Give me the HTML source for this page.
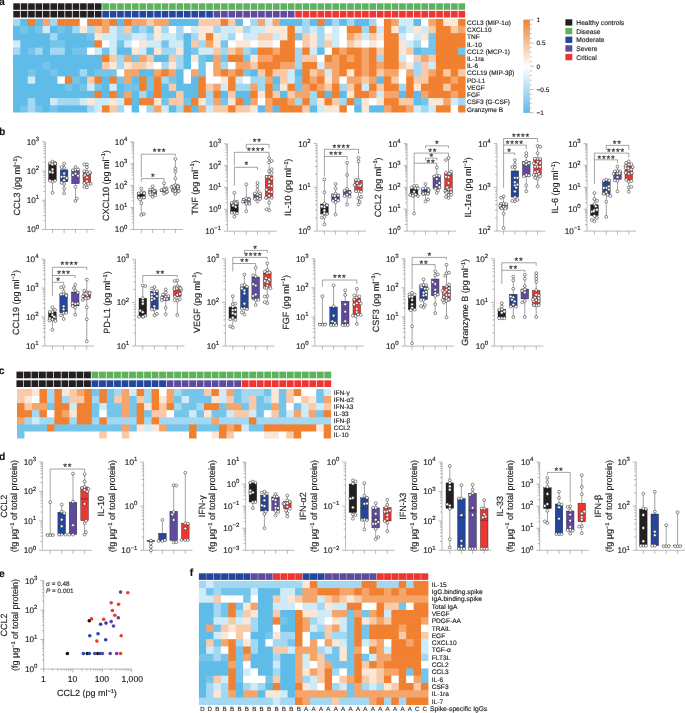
<!DOCTYPE html>
<html><head><meta charset="utf-8"><title>figure</title>
<style>html,body{margin:0;padding:0;background:#fff}svg{display:block;will-change:transform}text{font-family:"Liberation Sans", sans-serif;stroke:#231F20;stroke-width:.16px}</style>
</head><body>
<svg width="685" height="713" viewBox="0 0 685 713" shape-rendering="geometricPrecision" text-rendering="geometricPrecision">
<rect width="685" height="713" fill="#fff"/>
<rect x="13.3" y="3.3" width="6.62" height="6.5" fill="#231F20"/>
<rect x="20.72" y="3.3" width="6.62" height="6.5" fill="#231F20"/>
<rect x="28.14" y="3.3" width="6.62" height="6.5" fill="#231F20"/>
<rect x="35.56" y="3.3" width="6.62" height="6.5" fill="#231F20"/>
<rect x="42.98" y="3.3" width="6.62" height="6.5" fill="#231F20"/>
<rect x="50.4" y="3.3" width="6.62" height="6.5" fill="#231F20"/>
<rect x="57.82" y="3.3" width="6.62" height="6.5" fill="#231F20"/>
<rect x="65.24" y="3.3" width="6.62" height="6.5" fill="#231F20"/>
<rect x="72.66" y="3.3" width="6.62" height="6.5" fill="#231F20"/>
<rect x="80.08" y="3.3" width="6.62" height="6.5" fill="#231F20"/>
<rect x="87.5" y="3.3" width="6.62" height="6.5" fill="#231F20"/>
<rect x="94.92" y="3.3" width="6.62" height="6.5" fill="#231F20"/>
<rect x="102.34" y="3.3" width="6.62" height="6.5" fill="#5DB35C"/>
<rect x="109.76" y="3.3" width="6.62" height="6.5" fill="#5DB35C"/>
<rect x="117.18" y="3.3" width="6.62" height="6.5" fill="#5DB35C"/>
<rect x="124.6" y="3.3" width="6.62" height="6.5" fill="#5DB35C"/>
<rect x="132.02" y="3.3" width="6.62" height="6.5" fill="#5DB35C"/>
<rect x="139.44" y="3.3" width="6.62" height="6.5" fill="#5DB35C"/>
<rect x="146.86" y="3.3" width="6.62" height="6.5" fill="#5DB35C"/>
<rect x="154.28" y="3.3" width="6.62" height="6.5" fill="#5DB35C"/>
<rect x="161.7" y="3.3" width="6.62" height="6.5" fill="#5DB35C"/>
<rect x="169.12" y="3.3" width="6.62" height="6.5" fill="#5DB35C"/>
<rect x="176.54" y="3.3" width="6.62" height="6.5" fill="#5DB35C"/>
<rect x="183.96" y="3.3" width="6.62" height="6.5" fill="#5DB35C"/>
<rect x="191.38" y="3.3" width="6.62" height="6.5" fill="#5DB35C"/>
<rect x="198.8" y="3.3" width="6.62" height="6.5" fill="#5DB35C"/>
<rect x="206.22" y="3.3" width="6.62" height="6.5" fill="#5DB35C"/>
<rect x="213.64" y="3.3" width="6.62" height="6.5" fill="#5DB35C"/>
<rect x="221.06" y="3.3" width="6.62" height="6.5" fill="#5DB35C"/>
<rect x="228.48" y="3.3" width="6.62" height="6.5" fill="#5DB35C"/>
<rect x="235.9" y="3.3" width="6.62" height="6.5" fill="#5DB35C"/>
<rect x="243.32" y="3.3" width="6.62" height="6.5" fill="#5DB35C"/>
<rect x="250.74" y="3.3" width="6.62" height="6.5" fill="#5DB35C"/>
<rect x="258.16" y="3.3" width="6.62" height="6.5" fill="#5DB35C"/>
<rect x="265.58" y="3.3" width="6.62" height="6.5" fill="#5DB35C"/>
<rect x="273" y="3.3" width="6.62" height="6.5" fill="#5DB35C"/>
<rect x="280.42" y="3.3" width="6.62" height="6.5" fill="#5DB35C"/>
<rect x="287.84" y="3.3" width="6.62" height="6.5" fill="#5DB35C"/>
<rect x="295.26" y="3.3" width="6.62" height="6.5" fill="#5DB35C"/>
<rect x="302.68" y="3.3" width="6.62" height="6.5" fill="#5DB35C"/>
<rect x="310.1" y="3.3" width="6.62" height="6.5" fill="#5DB35C"/>
<rect x="317.52" y="3.3" width="6.62" height="6.5" fill="#5DB35C"/>
<rect x="324.94" y="3.3" width="6.62" height="6.5" fill="#5DB35C"/>
<rect x="332.36" y="3.3" width="6.62" height="6.5" fill="#5DB35C"/>
<rect x="339.78" y="3.3" width="6.62" height="6.5" fill="#5DB35C"/>
<rect x="347.2" y="3.3" width="6.62" height="6.5" fill="#5DB35C"/>
<rect x="354.62" y="3.3" width="6.62" height="6.5" fill="#5DB35C"/>
<rect x="362.04" y="3.3" width="6.62" height="6.5" fill="#5DB35C"/>
<rect x="369.46" y="3.3" width="6.62" height="6.5" fill="#5DB35C"/>
<rect x="376.88" y="3.3" width="6.62" height="6.5" fill="#5DB35C"/>
<rect x="384.3" y="3.3" width="6.62" height="6.5" fill="#5DB35C"/>
<rect x="391.72" y="3.3" width="6.62" height="6.5" fill="#5DB35C"/>
<rect x="399.14" y="3.3" width="6.62" height="6.5" fill="#5DB35C"/>
<rect x="406.56" y="3.3" width="6.62" height="6.5" fill="#5DB35C"/>
<rect x="413.98" y="3.3" width="6.62" height="6.5" fill="#5DB35C"/>
<rect x="421.4" y="3.3" width="6.62" height="6.5" fill="#5DB35C"/>
<rect x="428.82" y="3.3" width="6.62" height="6.5" fill="#5DB35C"/>
<rect x="436.24" y="3.3" width="6.62" height="6.5" fill="#5DB35C"/>
<rect x="443.66" y="3.3" width="6.62" height="6.5" fill="#5DB35C"/>
<rect x="451.08" y="3.3" width="6.62" height="6.5" fill="#5DB35C"/>
<rect x="458.5" y="3.3" width="6.62" height="6.5" fill="#5DB35C"/>
<rect x="13.3" y="10.9" width="6.62" height="6.6" fill="#231F20"/>
<rect x="20.72" y="10.9" width="6.62" height="6.6" fill="#231F20"/>
<rect x="28.14" y="10.9" width="6.62" height="6.6" fill="#231F20"/>
<rect x="35.56" y="10.9" width="6.62" height="6.6" fill="#231F20"/>
<rect x="42.98" y="10.9" width="6.62" height="6.6" fill="#231F20"/>
<rect x="50.4" y="10.9" width="6.62" height="6.6" fill="#231F20"/>
<rect x="57.82" y="10.9" width="6.62" height="6.6" fill="#231F20"/>
<rect x="65.24" y="10.9" width="6.62" height="6.6" fill="#231F20"/>
<rect x="72.66" y="10.9" width="6.62" height="6.6" fill="#231F20"/>
<rect x="80.08" y="10.9" width="6.62" height="6.6" fill="#231F20"/>
<rect x="87.5" y="10.9" width="6.62" height="6.6" fill="#231F20"/>
<rect x="94.92" y="10.9" width="6.62" height="6.6" fill="#231F20"/>
<rect x="102.34" y="10.9" width="6.62" height="6.6" fill="#24479D"/>
<rect x="109.76" y="10.9" width="6.62" height="6.6" fill="#24479D"/>
<rect x="117.18" y="10.9" width="6.62" height="6.6" fill="#24479D"/>
<rect x="124.6" y="10.9" width="6.62" height="6.6" fill="#24479D"/>
<rect x="132.02" y="10.9" width="6.62" height="6.6" fill="#24479D"/>
<rect x="139.44" y="10.9" width="6.62" height="6.6" fill="#24479D"/>
<rect x="146.86" y="10.9" width="6.62" height="6.6" fill="#24479D"/>
<rect x="154.28" y="10.9" width="6.62" height="6.6" fill="#24479D"/>
<rect x="161.7" y="10.9" width="6.62" height="6.6" fill="#24479D"/>
<rect x="169.12" y="10.9" width="6.62" height="6.6" fill="#24479D"/>
<rect x="176.54" y="10.9" width="6.62" height="6.6" fill="#24479D"/>
<rect x="183.96" y="10.9" width="6.62" height="6.6" fill="#24479D"/>
<rect x="191.38" y="10.9" width="6.62" height="6.6" fill="#24479D"/>
<rect x="198.8" y="10.9" width="6.62" height="6.6" fill="#24479D"/>
<rect x="206.22" y="10.9" width="6.62" height="6.6" fill="#24479D"/>
<rect x="213.64" y="10.9" width="6.62" height="6.6" fill="#5F4B9E"/>
<rect x="221.06" y="10.9" width="6.62" height="6.6" fill="#5F4B9E"/>
<rect x="228.48" y="10.9" width="6.62" height="6.6" fill="#5F4B9E"/>
<rect x="235.9" y="10.9" width="6.62" height="6.6" fill="#5F4B9E"/>
<rect x="243.32" y="10.9" width="6.62" height="6.6" fill="#5F4B9E"/>
<rect x="250.74" y="10.9" width="6.62" height="6.6" fill="#5F4B9E"/>
<rect x="258.16" y="10.9" width="6.62" height="6.6" fill="#5F4B9E"/>
<rect x="265.58" y="10.9" width="6.62" height="6.6" fill="#5F4B9E"/>
<rect x="273" y="10.9" width="6.62" height="6.6" fill="#5F4B9E"/>
<rect x="280.42" y="10.9" width="6.62" height="6.6" fill="#5F4B9E"/>
<rect x="287.84" y="10.9" width="6.62" height="6.6" fill="#5F4B9E"/>
<rect x="295.26" y="10.9" width="6.62" height="6.6" fill="#EE3530"/>
<rect x="302.68" y="10.9" width="6.62" height="6.6" fill="#EE3530"/>
<rect x="310.1" y="10.9" width="6.62" height="6.6" fill="#EE3530"/>
<rect x="317.52" y="10.9" width="6.62" height="6.6" fill="#EE3530"/>
<rect x="324.94" y="10.9" width="6.62" height="6.6" fill="#EE3530"/>
<rect x="332.36" y="10.9" width="6.62" height="6.6" fill="#EE3530"/>
<rect x="339.78" y="10.9" width="6.62" height="6.6" fill="#EE3530"/>
<rect x="347.2" y="10.9" width="6.62" height="6.6" fill="#EE3530"/>
<rect x="354.62" y="10.9" width="6.62" height="6.6" fill="#EE3530"/>
<rect x="362.04" y="10.9" width="6.62" height="6.6" fill="#EE3530"/>
<rect x="369.46" y="10.9" width="6.62" height="6.6" fill="#EE3530"/>
<rect x="376.88" y="10.9" width="6.62" height="6.6" fill="#EE3530"/>
<rect x="384.3" y="10.9" width="6.62" height="6.6" fill="#EE3530"/>
<rect x="391.72" y="10.9" width="6.62" height="6.6" fill="#EE3530"/>
<rect x="399.14" y="10.9" width="6.62" height="6.6" fill="#EE3530"/>
<rect x="406.56" y="10.9" width="6.62" height="6.6" fill="#EE3530"/>
<rect x="413.98" y="10.9" width="6.62" height="6.6" fill="#EE3530"/>
<rect x="421.4" y="10.9" width="6.62" height="6.6" fill="#EE3530"/>
<rect x="428.82" y="10.9" width="6.62" height="6.6" fill="#EE3530"/>
<rect x="436.24" y="10.9" width="6.62" height="6.6" fill="#EE3530"/>
<rect x="443.66" y="10.9" width="6.62" height="6.6" fill="#EE3530"/>
<rect x="451.08" y="10.9" width="6.62" height="6.6" fill="#EE3530"/>
<rect x="458.5" y="10.9" width="6.62" height="6.6" fill="#EE3530"/>
<clipPath id="hc1"><rect x="12.9" y="18.7" width="452.62" height="93.86"/></clipPath><g clip-path="url(#hc1)">
<rect x="12.9" y="18.7" width="8.02" height="7.82" fill="#a2d8f2"/>
<rect x="20.32" y="18.7" width="8.02" height="7.82" fill="#5fbbe8"/>
<rect x="27.74" y="18.7" width="8.02" height="7.82" fill="#f18130"/>
<rect x="35.16" y="18.7" width="8.02" height="7.82" fill="#5fbbe8"/>
<rect x="42.58" y="18.7" width="8.02" height="7.82" fill="#f5a46a"/>
<rect x="50" y="18.7" width="8.02" height="7.82" fill="#a2d8f2"/>
<rect x="57.42" y="18.7" width="22.86" height="7.82" fill="#f18130"/>
<rect x="79.68" y="18.7" width="8.02" height="7.82" fill="#ffffff"/>
<rect x="87.1" y="18.7" width="15.44" height="7.82" fill="#f18130"/>
<rect x="101.94" y="18.7" width="8.02" height="7.82" fill="#f5a46a"/>
<rect x="109.36" y="18.7" width="8.02" height="7.82" fill="#f18130"/>
<rect x="116.78" y="18.7" width="8.02" height="7.82" fill="#5fbbe8"/>
<rect x="124.2" y="18.7" width="8.02" height="7.82" fill="#f18130"/>
<rect x="131.62" y="18.7" width="15.44" height="7.82" fill="#f5a46a"/>
<rect x="146.46" y="18.7" width="8.02" height="7.82" fill="#f9caa8"/>
<rect x="153.88" y="18.7" width="15.44" height="7.82" fill="#f5a46a"/>
<rect x="168.72" y="18.7" width="30.28" height="7.82" fill="#5fbbe8"/>
<rect x="198.4" y="18.7" width="22.86" height="7.82" fill="#f9caa8"/>
<rect x="220.66" y="18.7" width="8.02" height="7.82" fill="#f18130"/>
<rect x="228.08" y="18.7" width="8.02" height="7.82" fill="#f9caa8"/>
<rect x="235.5" y="18.7" width="8.02" height="7.82" fill="#5fbbe8"/>
<rect x="242.92" y="18.7" width="8.02" height="7.82" fill="#ffffff"/>
<rect x="250.34" y="18.7" width="8.02" height="7.82" fill="#a2d8f2"/>
<rect x="257.76" y="18.7" width="8.02" height="7.82" fill="#f5a46a"/>
<rect x="265.18" y="18.7" width="8.02" height="7.82" fill="#cfebf8"/>
<rect x="272.6" y="18.7" width="8.02" height="7.82" fill="#f5a46a"/>
<rect x="280.02" y="18.7" width="22.86" height="7.82" fill="#5fbbe8"/>
<rect x="302.28" y="18.7" width="8.02" height="7.82" fill="#a2d8f2"/>
<rect x="309.7" y="18.7" width="8.02" height="7.82" fill="#5fbbe8"/>
<rect x="317.12" y="18.7" width="8.02" height="7.82" fill="#f18130"/>
<rect x="324.54" y="18.7" width="8.02" height="7.82" fill="#5fbbe8"/>
<rect x="331.96" y="18.7" width="8.02" height="7.82" fill="#a2d8f2"/>
<rect x="339.38" y="18.7" width="8.02" height="7.82" fill="#5fbbe8"/>
<rect x="346.8" y="18.7" width="8.02" height="7.82" fill="#a2d8f2"/>
<rect x="354.22" y="18.7" width="15.44" height="7.82" fill="#5fbbe8"/>
<rect x="369.06" y="18.7" width="8.02" height="7.82" fill="#a2d8f2"/>
<rect x="376.48" y="18.7" width="8.02" height="7.82" fill="#ffffff"/>
<rect x="383.9" y="18.7" width="8.02" height="7.82" fill="#f18130"/>
<rect x="391.32" y="18.7" width="8.02" height="7.82" fill="#f5a46a"/>
<rect x="398.74" y="18.7" width="15.44" height="7.82" fill="#cfebf8"/>
<rect x="413.58" y="18.7" width="8.02" height="7.82" fill="#5fbbe8"/>
<rect x="421" y="18.7" width="8.02" height="7.82" fill="#ffffff"/>
<rect x="428.42" y="18.7" width="8.02" height="7.82" fill="#f5a46a"/>
<rect x="435.84" y="18.7" width="8.02" height="7.82" fill="#f18130"/>
<rect x="443.26" y="18.7" width="15.44" height="7.82" fill="#fce6d6"/>
<rect x="458.1" y="18.7" width="8.02" height="7.82" fill="#f18130"/>
<rect x="12.9" y="25.92" width="8.02" height="7.82" fill="#5fbbe8"/>
<rect x="20.32" y="25.92" width="8.02" height="7.82" fill="#75c5eb"/>
<rect x="27.74" y="25.92" width="8.02" height="7.82" fill="#5fbbe8"/>
<rect x="35.16" y="25.92" width="8.02" height="7.82" fill="#75c5eb"/>
<rect x="42.58" y="25.92" width="8.02" height="7.82" fill="#cfebf8"/>
<rect x="50" y="25.92" width="8.02" height="7.82" fill="#5fbbe8"/>
<rect x="57.42" y="25.92" width="8.02" height="7.82" fill="#75c5eb"/>
<rect x="64.84" y="25.92" width="8.02" height="7.82" fill="#5fbbe8"/>
<rect x="72.26" y="25.92" width="8.02" height="7.82" fill="#a2d8f2"/>
<rect x="79.68" y="25.92" width="8.02" height="7.82" fill="#fce6d6"/>
<rect x="87.1" y="25.92" width="8.02" height="7.82" fill="#a2d8f2"/>
<rect x="94.52" y="25.92" width="8.02" height="7.82" fill="#f9caa8"/>
<rect x="101.94" y="25.92" width="8.02" height="7.82" fill="#f5a46a"/>
<rect x="109.36" y="25.92" width="8.02" height="7.82" fill="#cfebf8"/>
<rect x="116.78" y="25.92" width="8.02" height="7.82" fill="#a2d8f2"/>
<rect x="124.2" y="25.92" width="8.02" height="7.82" fill="#f9caa8"/>
<rect x="131.62" y="25.92" width="8.02" height="7.82" fill="#75c5eb"/>
<rect x="139.04" y="25.92" width="8.02" height="7.82" fill="#a2d8f2"/>
<rect x="146.46" y="25.92" width="8.02" height="7.82" fill="#75c5eb"/>
<rect x="153.88" y="25.92" width="8.02" height="7.82" fill="#fce6d6"/>
<rect x="161.3" y="25.92" width="8.02" height="7.82" fill="#a2d8f2"/>
<rect x="168.72" y="25.92" width="8.02" height="7.82" fill="#ffffff"/>
<rect x="176.14" y="25.92" width="8.02" height="7.82" fill="#a2d8f2"/>
<rect x="183.56" y="25.92" width="8.02" height="7.82" fill="#ffffff"/>
<rect x="190.98" y="25.92" width="8.02" height="7.82" fill="#cfebf8"/>
<rect x="198.4" y="25.92" width="15.44" height="7.82" fill="#fce6d6"/>
<rect x="213.24" y="25.92" width="8.02" height="7.82" fill="#a2d8f2"/>
<rect x="220.66" y="25.92" width="15.44" height="7.82" fill="#cfebf8"/>
<rect x="235.5" y="25.92" width="8.02" height="7.82" fill="#fce6d6"/>
<rect x="242.92" y="25.92" width="8.02" height="7.82" fill="#a2d8f2"/>
<rect x="250.34" y="25.92" width="15.44" height="7.82" fill="#cfebf8"/>
<rect x="265.18" y="25.92" width="22.86" height="7.82" fill="#fce6d6"/>
<rect x="287.44" y="25.92" width="8.02" height="7.82" fill="#f18130"/>
<rect x="294.86" y="25.92" width="8.02" height="7.82" fill="#cfebf8"/>
<rect x="302.28" y="25.92" width="8.02" height="7.82" fill="#a2d8f2"/>
<rect x="309.7" y="25.92" width="8.02" height="7.82" fill="#cfebf8"/>
<rect x="317.12" y="25.92" width="8.02" height="7.82" fill="#a2d8f2"/>
<rect x="324.54" y="25.92" width="8.02" height="7.82" fill="#ffffff"/>
<rect x="331.96" y="25.92" width="8.02" height="7.82" fill="#cfebf8"/>
<rect x="339.38" y="25.92" width="8.02" height="7.82" fill="#ffffff"/>
<rect x="346.8" y="25.92" width="15.44" height="7.82" fill="#f18130"/>
<rect x="361.64" y="25.92" width="8.02" height="7.82" fill="#a2d8f2"/>
<rect x="369.06" y="25.92" width="8.02" height="7.82" fill="#f18130"/>
<rect x="376.48" y="25.92" width="8.02" height="7.82" fill="#cfebf8"/>
<rect x="383.9" y="25.92" width="8.02" height="7.82" fill="#f18130"/>
<rect x="391.32" y="25.92" width="8.02" height="7.82" fill="#fce6d6"/>
<rect x="398.74" y="25.92" width="8.02" height="7.82" fill="#a2d8f2"/>
<rect x="406.16" y="25.92" width="8.02" height="7.82" fill="#cfebf8"/>
<rect x="413.58" y="25.92" width="8.02" height="7.82" fill="#fce6d6"/>
<rect x="421" y="25.92" width="8.02" height="7.82" fill="#cfebf8"/>
<rect x="428.42" y="25.92" width="8.02" height="7.82" fill="#f9caa8"/>
<rect x="435.84" y="25.92" width="15.44" height="7.82" fill="#f18130"/>
<rect x="450.68" y="25.92" width="8.02" height="7.82" fill="#f9caa8"/>
<rect x="458.1" y="25.92" width="8.02" height="7.82" fill="#f5a46a"/>
<rect x="12.9" y="33.14" width="37.7" height="7.82" fill="#5fbbe8"/>
<rect x="50" y="33.14" width="8.02" height="7.82" fill="#a2d8f2"/>
<rect x="57.42" y="33.14" width="30.28" height="7.82" fill="#5fbbe8"/>
<rect x="87.1" y="33.14" width="8.02" height="7.82" fill="#75c5eb"/>
<rect x="94.52" y="33.14" width="8.02" height="7.82" fill="#fce6d6"/>
<rect x="101.94" y="33.14" width="15.44" height="7.82" fill="#cfebf8"/>
<rect x="116.78" y="33.14" width="15.44" height="7.82" fill="#a2d8f2"/>
<rect x="131.62" y="33.14" width="15.44" height="7.82" fill="#cfebf8"/>
<rect x="146.46" y="33.14" width="8.02" height="7.82" fill="#a2d8f2"/>
<rect x="153.88" y="33.14" width="8.02" height="7.82" fill="#fce6d6"/>
<rect x="161.3" y="33.14" width="15.44" height="7.82" fill="#cfebf8"/>
<rect x="176.14" y="33.14" width="8.02" height="7.82" fill="#a2d8f2"/>
<rect x="183.56" y="33.14" width="8.02" height="7.82" fill="#5fbbe8"/>
<rect x="190.98" y="33.14" width="8.02" height="7.82" fill="#a2d8f2"/>
<rect x="198.4" y="33.14" width="8.02" height="7.82" fill="#fce6d6"/>
<rect x="205.82" y="33.14" width="8.02" height="7.82" fill="#f18130"/>
<rect x="213.24" y="33.14" width="8.02" height="7.82" fill="#fce6d6"/>
<rect x="220.66" y="33.14" width="8.02" height="7.82" fill="#cfebf8"/>
<rect x="228.08" y="33.14" width="8.02" height="7.82" fill="#a2d8f2"/>
<rect x="235.5" y="33.14" width="8.02" height="7.82" fill="#ffffff"/>
<rect x="242.92" y="33.14" width="15.44" height="7.82" fill="#cfebf8"/>
<rect x="257.76" y="33.14" width="15.44" height="7.82" fill="#f9caa8"/>
<rect x="272.6" y="33.14" width="8.02" height="7.82" fill="#cfebf8"/>
<rect x="280.02" y="33.14" width="8.02" height="7.82" fill="#fce6d6"/>
<rect x="287.44" y="33.14" width="8.02" height="7.82" fill="#f18130"/>
<rect x="294.86" y="33.14" width="8.02" height="7.82" fill="#75c5eb"/>
<rect x="302.28" y="33.14" width="8.02" height="7.82" fill="#f9caa8"/>
<rect x="309.7" y="33.14" width="8.02" height="7.82" fill="#fce6d6"/>
<rect x="317.12" y="33.14" width="8.02" height="7.82" fill="#a2d8f2"/>
<rect x="324.54" y="33.14" width="8.02" height="7.82" fill="#fce6d6"/>
<rect x="331.96" y="33.14" width="8.02" height="7.82" fill="#cfebf8"/>
<rect x="339.38" y="33.14" width="8.02" height="7.82" fill="#ffffff"/>
<rect x="346.8" y="33.14" width="8.02" height="7.82" fill="#f5a46a"/>
<rect x="354.22" y="33.14" width="8.02" height="7.82" fill="#f9caa8"/>
<rect x="361.64" y="33.14" width="8.02" height="7.82" fill="#cfebf8"/>
<rect x="369.06" y="33.14" width="8.02" height="7.82" fill="#f9caa8"/>
<rect x="376.48" y="33.14" width="8.02" height="7.82" fill="#fce6d6"/>
<rect x="383.9" y="33.14" width="15.44" height="7.82" fill="#f18130"/>
<rect x="398.74" y="33.14" width="8.02" height="7.82" fill="#cfebf8"/>
<rect x="406.16" y="33.14" width="8.02" height="7.82" fill="#ffffff"/>
<rect x="413.58" y="33.14" width="8.02" height="7.82" fill="#cfebf8"/>
<rect x="421" y="33.14" width="8.02" height="7.82" fill="#fce6d6"/>
<rect x="428.42" y="33.14" width="8.02" height="7.82" fill="#75c5eb"/>
<rect x="435.84" y="33.14" width="30.28" height="7.82" fill="#f18130"/>
<rect x="12.9" y="40.36" width="8.02" height="7.82" fill="#cfebf8"/>
<rect x="20.32" y="40.36" width="30.28" height="7.82" fill="#5fbbe8"/>
<rect x="50" y="40.36" width="15.44" height="7.82" fill="#75c5eb"/>
<rect x="64.84" y="40.36" width="30.28" height="7.82" fill="#5fbbe8"/>
<rect x="94.52" y="40.36" width="8.02" height="7.82" fill="#f18130"/>
<rect x="101.94" y="40.36" width="8.02" height="7.82" fill="#ffffff"/>
<rect x="109.36" y="40.36" width="8.02" height="7.82" fill="#cfebf8"/>
<rect x="116.78" y="40.36" width="8.02" height="7.82" fill="#75c5eb"/>
<rect x="124.2" y="40.36" width="8.02" height="7.82" fill="#cfebf8"/>
<rect x="131.62" y="40.36" width="8.02" height="7.82" fill="#ffffff"/>
<rect x="139.04" y="40.36" width="8.02" height="7.82" fill="#fce6d6"/>
<rect x="146.46" y="40.36" width="15.44" height="7.82" fill="#cfebf8"/>
<rect x="161.3" y="40.36" width="8.02" height="7.82" fill="#75c5eb"/>
<rect x="168.72" y="40.36" width="15.44" height="7.82" fill="#cfebf8"/>
<rect x="183.56" y="40.36" width="8.02" height="7.82" fill="#5fbbe8"/>
<rect x="190.98" y="40.36" width="8.02" height="7.82" fill="#f9caa8"/>
<rect x="198.4" y="40.36" width="8.02" height="7.82" fill="#a2d8f2"/>
<rect x="205.82" y="40.36" width="8.02" height="7.82" fill="#f5a46a"/>
<rect x="213.24" y="40.36" width="8.02" height="7.82" fill="#fce6d6"/>
<rect x="220.66" y="40.36" width="8.02" height="7.82" fill="#75c5eb"/>
<rect x="228.08" y="40.36" width="8.02" height="7.82" fill="#ffffff"/>
<rect x="235.5" y="40.36" width="15.44" height="7.82" fill="#fce6d6"/>
<rect x="250.34" y="40.36" width="8.02" height="7.82" fill="#ffffff"/>
<rect x="257.76" y="40.36" width="15.44" height="7.82" fill="#fce6d6"/>
<rect x="272.6" y="40.36" width="8.02" height="7.82" fill="#ffffff"/>
<rect x="280.02" y="40.36" width="15.44" height="7.82" fill="#f18130"/>
<rect x="294.86" y="40.36" width="8.02" height="7.82" fill="#ffffff"/>
<rect x="302.28" y="40.36" width="8.02" height="7.82" fill="#f9caa8"/>
<rect x="309.7" y="40.36" width="8.02" height="7.82" fill="#fce6d6"/>
<rect x="317.12" y="40.36" width="8.02" height="7.82" fill="#a2d8f2"/>
<rect x="324.54" y="40.36" width="8.02" height="7.82" fill="#f9caa8"/>
<rect x="331.96" y="40.36" width="8.02" height="7.82" fill="#cfebf8"/>
<rect x="339.38" y="40.36" width="8.02" height="7.82" fill="#ffffff"/>
<rect x="346.8" y="40.36" width="8.02" height="7.82" fill="#f9caa8"/>
<rect x="354.22" y="40.36" width="8.02" height="7.82" fill="#fce6d6"/>
<rect x="361.64" y="40.36" width="8.02" height="7.82" fill="#ffffff"/>
<rect x="369.06" y="40.36" width="8.02" height="7.82" fill="#fce6d6"/>
<rect x="376.48" y="40.36" width="8.02" height="7.82" fill="#ffffff"/>
<rect x="383.9" y="40.36" width="15.44" height="7.82" fill="#f18130"/>
<rect x="398.74" y="40.36" width="8.02" height="7.82" fill="#fce6d6"/>
<rect x="406.16" y="40.36" width="8.02" height="7.82" fill="#cfebf8"/>
<rect x="413.58" y="40.36" width="8.02" height="7.82" fill="#a2d8f2"/>
<rect x="421" y="40.36" width="8.02" height="7.82" fill="#ffffff"/>
<rect x="428.42" y="40.36" width="8.02" height="7.82" fill="#75c5eb"/>
<rect x="435.84" y="40.36" width="30.28" height="7.82" fill="#f18130"/>
<rect x="12.9" y="47.58" width="8.02" height="7.82" fill="#a2d8f2"/>
<rect x="20.32" y="47.58" width="8.02" height="7.82" fill="#5fbbe8"/>
<rect x="27.74" y="47.58" width="8.02" height="7.82" fill="#75c5eb"/>
<rect x="35.16" y="47.58" width="8.02" height="7.82" fill="#a2d8f2"/>
<rect x="42.58" y="47.58" width="8.02" height="7.82" fill="#5fbbe8"/>
<rect x="50" y="47.58" width="15.44" height="7.82" fill="#a2d8f2"/>
<rect x="64.84" y="47.58" width="8.02" height="7.82" fill="#5fbbe8"/>
<rect x="72.26" y="47.58" width="15.44" height="7.82" fill="#75c5eb"/>
<rect x="87.1" y="47.58" width="8.02" height="7.82" fill="#ffffff"/>
<rect x="94.52" y="47.58" width="8.02" height="7.82" fill="#cfebf8"/>
<rect x="101.94" y="47.58" width="8.02" height="7.82" fill="#75c5eb"/>
<rect x="109.36" y="47.58" width="8.02" height="7.82" fill="#cfebf8"/>
<rect x="116.78" y="47.58" width="15.44" height="7.82" fill="#5fbbe8"/>
<rect x="131.62" y="47.58" width="8.02" height="7.82" fill="#fce6d6"/>
<rect x="139.04" y="47.58" width="8.02" height="7.82" fill="#cfebf8"/>
<rect x="146.46" y="47.58" width="8.02" height="7.82" fill="#5fbbe8"/>
<rect x="153.88" y="47.58" width="8.02" height="7.82" fill="#fce6d6"/>
<rect x="161.3" y="47.58" width="15.44" height="7.82" fill="#a2d8f2"/>
<rect x="176.14" y="47.58" width="8.02" height="7.82" fill="#fce6d6"/>
<rect x="183.56" y="47.58" width="8.02" height="7.82" fill="#5fbbe8"/>
<rect x="190.98" y="47.58" width="8.02" height="7.82" fill="#75c5eb"/>
<rect x="198.4" y="47.58" width="15.44" height="7.82" fill="#cfebf8"/>
<rect x="213.24" y="47.58" width="8.02" height="7.82" fill="#f9caa8"/>
<rect x="220.66" y="47.58" width="8.02" height="7.82" fill="#a2d8f2"/>
<rect x="228.08" y="47.58" width="8.02" height="7.82" fill="#f9caa8"/>
<rect x="235.5" y="47.58" width="8.02" height="7.82" fill="#f5a46a"/>
<rect x="242.92" y="47.58" width="8.02" height="7.82" fill="#a2d8f2"/>
<rect x="250.34" y="47.58" width="8.02" height="7.82" fill="#75c5eb"/>
<rect x="257.76" y="47.58" width="15.44" height="7.82" fill="#f18130"/>
<rect x="272.6" y="47.58" width="8.02" height="7.82" fill="#f5a46a"/>
<rect x="280.02" y="47.58" width="15.44" height="7.82" fill="#f18130"/>
<rect x="294.86" y="47.58" width="8.02" height="7.82" fill="#a2d8f2"/>
<rect x="302.28" y="47.58" width="8.02" height="7.82" fill="#f18130"/>
<rect x="309.7" y="47.58" width="8.02" height="7.82" fill="#cfebf8"/>
<rect x="317.12" y="47.58" width="8.02" height="7.82" fill="#5fbbe8"/>
<rect x="324.54" y="47.58" width="8.02" height="7.82" fill="#ffffff"/>
<rect x="331.96" y="47.58" width="8.02" height="7.82" fill="#f18130"/>
<rect x="339.38" y="47.58" width="8.02" height="7.82" fill="#f5a46a"/>
<rect x="346.8" y="47.58" width="15.44" height="7.82" fill="#f18130"/>
<rect x="361.64" y="47.58" width="8.02" height="7.82" fill="#f5a46a"/>
<rect x="369.06" y="47.58" width="8.02" height="7.82" fill="#f18130"/>
<rect x="376.48" y="47.58" width="8.02" height="7.82" fill="#f9caa8"/>
<rect x="383.9" y="47.58" width="15.44" height="7.82" fill="#f18130"/>
<rect x="398.74" y="47.58" width="8.02" height="7.82" fill="#fce6d6"/>
<rect x="406.16" y="47.58" width="8.02" height="7.82" fill="#f9caa8"/>
<rect x="413.58" y="47.58" width="8.02" height="7.82" fill="#5fbbe8"/>
<rect x="421" y="47.58" width="15.44" height="7.82" fill="#75c5eb"/>
<rect x="435.84" y="47.58" width="22.86" height="7.82" fill="#f18130"/>
<rect x="458.1" y="47.58" width="8.02" height="7.82" fill="#75c5eb"/>
<rect x="12.9" y="54.8" width="89.64" height="7.82" fill="#5fbbe8"/>
<rect x="101.94" y="54.8" width="8.02" height="7.82" fill="#f18130"/>
<rect x="109.36" y="54.8" width="8.02" height="7.82" fill="#f9caa8"/>
<rect x="116.78" y="54.8" width="8.02" height="7.82" fill="#a2d8f2"/>
<rect x="124.2" y="54.8" width="8.02" height="7.82" fill="#f5a46a"/>
<rect x="131.62" y="54.8" width="8.02" height="7.82" fill="#75c5eb"/>
<rect x="139.04" y="54.8" width="8.02" height="7.82" fill="#f5a46a"/>
<rect x="146.46" y="54.8" width="8.02" height="7.82" fill="#f9caa8"/>
<rect x="153.88" y="54.8" width="15.44" height="7.82" fill="#5fbbe8"/>
<rect x="168.72" y="54.8" width="8.02" height="7.82" fill="#f9caa8"/>
<rect x="176.14" y="54.8" width="8.02" height="7.82" fill="#a2d8f2"/>
<rect x="183.56" y="54.8" width="8.02" height="7.82" fill="#5fbbe8"/>
<rect x="190.98" y="54.8" width="8.02" height="7.82" fill="#fce6d6"/>
<rect x="198.4" y="54.8" width="8.02" height="7.82" fill="#75c5eb"/>
<rect x="205.82" y="54.8" width="8.02" height="7.82" fill="#5fbbe8"/>
<rect x="213.24" y="54.8" width="8.02" height="7.82" fill="#f5a46a"/>
<rect x="220.66" y="54.8" width="8.02" height="7.82" fill="#75c5eb"/>
<rect x="228.08" y="54.8" width="15.44" height="7.82" fill="#f18130"/>
<rect x="242.92" y="54.8" width="8.02" height="7.82" fill="#75c5eb"/>
<rect x="250.34" y="54.8" width="8.02" height="7.82" fill="#fce6d6"/>
<rect x="257.76" y="54.8" width="15.44" height="7.82" fill="#f5a46a"/>
<rect x="272.6" y="54.8" width="22.86" height="7.82" fill="#f18130"/>
<rect x="294.86" y="54.8" width="8.02" height="7.82" fill="#a2d8f2"/>
<rect x="302.28" y="54.8" width="15.44" height="7.82" fill="#f9caa8"/>
<rect x="317.12" y="54.8" width="8.02" height="7.82" fill="#ffffff"/>
<rect x="324.54" y="54.8" width="8.02" height="7.82" fill="#f18130"/>
<rect x="331.96" y="54.8" width="8.02" height="7.82" fill="#f5a46a"/>
<rect x="339.38" y="54.8" width="8.02" height="7.82" fill="#f18130"/>
<rect x="346.8" y="54.8" width="8.02" height="7.82" fill="#f5a46a"/>
<rect x="354.22" y="54.8" width="8.02" height="7.82" fill="#f18130"/>
<rect x="361.64" y="54.8" width="8.02" height="7.82" fill="#f5a46a"/>
<rect x="369.06" y="54.8" width="8.02" height="7.82" fill="#f18130"/>
<rect x="376.48" y="54.8" width="8.02" height="7.82" fill="#a2d8f2"/>
<rect x="383.9" y="54.8" width="15.44" height="7.82" fill="#f18130"/>
<rect x="398.74" y="54.8" width="8.02" height="7.82" fill="#cfebf8"/>
<rect x="406.16" y="54.8" width="8.02" height="7.82" fill="#ffffff"/>
<rect x="413.58" y="54.8" width="8.02" height="7.82" fill="#f9caa8"/>
<rect x="421" y="54.8" width="8.02" height="7.82" fill="#f5a46a"/>
<rect x="428.42" y="54.8" width="8.02" height="7.82" fill="#f9caa8"/>
<rect x="435.84" y="54.8" width="30.28" height="7.82" fill="#f18130"/>
<rect x="12.9" y="62.02" width="30.28" height="7.82" fill="#5fbbe8"/>
<rect x="42.58" y="62.02" width="8.02" height="7.82" fill="#75c5eb"/>
<rect x="50" y="62.02" width="52.54" height="7.82" fill="#5fbbe8"/>
<rect x="101.94" y="62.02" width="8.02" height="7.82" fill="#f9caa8"/>
<rect x="109.36" y="62.02" width="8.02" height="7.82" fill="#fce6d6"/>
<rect x="116.78" y="62.02" width="8.02" height="7.82" fill="#a2d8f2"/>
<rect x="124.2" y="62.02" width="8.02" height="7.82" fill="#fce6d6"/>
<rect x="131.62" y="62.02" width="15.44" height="7.82" fill="#f9caa8"/>
<rect x="146.46" y="62.02" width="8.02" height="7.82" fill="#fce6d6"/>
<rect x="153.88" y="62.02" width="8.02" height="7.82" fill="#ffffff"/>
<rect x="161.3" y="62.02" width="8.02" height="7.82" fill="#a2d8f2"/>
<rect x="168.72" y="62.02" width="8.02" height="7.82" fill="#fce6d6"/>
<rect x="176.14" y="62.02" width="8.02" height="7.82" fill="#a2d8f2"/>
<rect x="183.56" y="62.02" width="8.02" height="7.82" fill="#5fbbe8"/>
<rect x="190.98" y="62.02" width="8.02" height="7.82" fill="#ffffff"/>
<rect x="198.4" y="62.02" width="8.02" height="7.82" fill="#75c5eb"/>
<rect x="205.82" y="62.02" width="8.02" height="7.82" fill="#ffffff"/>
<rect x="213.24" y="62.02" width="8.02" height="7.82" fill="#f5a46a"/>
<rect x="220.66" y="62.02" width="8.02" height="7.82" fill="#a2d8f2"/>
<rect x="228.08" y="62.02" width="8.02" height="7.82" fill="#ffffff"/>
<rect x="235.5" y="62.02" width="15.44" height="7.82" fill="#f5a46a"/>
<rect x="250.34" y="62.02" width="8.02" height="7.82" fill="#f9caa8"/>
<rect x="257.76" y="62.02" width="22.86" height="7.82" fill="#f18130"/>
<rect x="280.02" y="62.02" width="15.44" height="7.82" fill="#f5a46a"/>
<rect x="294.86" y="62.02" width="8.02" height="7.82" fill="#a2d8f2"/>
<rect x="302.28" y="62.02" width="15.44" height="7.82" fill="#f18130"/>
<rect x="317.12" y="62.02" width="8.02" height="7.82" fill="#cfebf8"/>
<rect x="324.54" y="62.02" width="15.44" height="7.82" fill="#f5a46a"/>
<rect x="339.38" y="62.02" width="22.86" height="7.82" fill="#f18130"/>
<rect x="361.64" y="62.02" width="8.02" height="7.82" fill="#f5a46a"/>
<rect x="369.06" y="62.02" width="8.02" height="7.82" fill="#f18130"/>
<rect x="376.48" y="62.02" width="8.02" height="7.82" fill="#f5a46a"/>
<rect x="383.9" y="62.02" width="15.44" height="7.82" fill="#f18130"/>
<rect x="398.74" y="62.02" width="8.02" height="7.82" fill="#f9caa8"/>
<rect x="406.16" y="62.02" width="8.02" height="7.82" fill="#fce6d6"/>
<rect x="413.58" y="62.02" width="8.02" height="7.82" fill="#a2d8f2"/>
<rect x="421" y="62.02" width="8.02" height="7.82" fill="#f9caa8"/>
<rect x="428.42" y="62.02" width="8.02" height="7.82" fill="#cfebf8"/>
<rect x="435.84" y="62.02" width="30.28" height="7.82" fill="#f18130"/>
<rect x="12.9" y="69.24" width="15.44" height="7.82" fill="#5fbbe8"/>
<rect x="27.74" y="69.24" width="8.02" height="7.82" fill="#75c5eb"/>
<rect x="35.16" y="69.24" width="15.44" height="7.82" fill="#5fbbe8"/>
<rect x="50" y="69.24" width="8.02" height="7.82" fill="#75c5eb"/>
<rect x="57.42" y="69.24" width="22.86" height="7.82" fill="#5fbbe8"/>
<rect x="79.68" y="69.24" width="8.02" height="7.82" fill="#a2d8f2"/>
<rect x="87.1" y="69.24" width="8.02" height="7.82" fill="#5fbbe8"/>
<rect x="94.52" y="69.24" width="22.86" height="7.82" fill="#75c5eb"/>
<rect x="116.78" y="69.24" width="8.02" height="7.82" fill="#ffffff"/>
<rect x="124.2" y="69.24" width="15.44" height="7.82" fill="#f5a46a"/>
<rect x="139.04" y="69.24" width="15.44" height="7.82" fill="#5fbbe8"/>
<rect x="153.88" y="69.24" width="8.02" height="7.82" fill="#f5a46a"/>
<rect x="161.3" y="69.24" width="8.02" height="7.82" fill="#f18130"/>
<rect x="168.72" y="69.24" width="8.02" height="7.82" fill="#f5a46a"/>
<rect x="176.14" y="69.24" width="8.02" height="7.82" fill="#5fbbe8"/>
<rect x="183.56" y="69.24" width="8.02" height="7.82" fill="#ffffff"/>
<rect x="190.98" y="69.24" width="8.02" height="7.82" fill="#f5a46a"/>
<rect x="198.4" y="69.24" width="8.02" height="7.82" fill="#75c5eb"/>
<rect x="205.82" y="69.24" width="8.02" height="7.82" fill="#ffffff"/>
<rect x="213.24" y="69.24" width="8.02" height="7.82" fill="#f5a46a"/>
<rect x="220.66" y="69.24" width="8.02" height="7.82" fill="#f18130"/>
<rect x="228.08" y="69.24" width="8.02" height="7.82" fill="#f5a46a"/>
<rect x="235.5" y="69.24" width="8.02" height="7.82" fill="#f18130"/>
<rect x="242.92" y="69.24" width="8.02" height="7.82" fill="#75c5eb"/>
<rect x="250.34" y="69.24" width="8.02" height="7.82" fill="#5fbbe8"/>
<rect x="257.76" y="69.24" width="8.02" height="7.82" fill="#f9caa8"/>
<rect x="265.18" y="69.24" width="8.02" height="7.82" fill="#f18130"/>
<rect x="272.6" y="69.24" width="15.44" height="7.82" fill="#f9caa8"/>
<rect x="287.44" y="69.24" width="8.02" height="7.82" fill="#cfebf8"/>
<rect x="294.86" y="69.24" width="8.02" height="7.82" fill="#5fbbe8"/>
<rect x="302.28" y="69.24" width="8.02" height="7.82" fill="#f18130"/>
<rect x="309.7" y="69.24" width="8.02" height="7.82" fill="#f9caa8"/>
<rect x="317.12" y="69.24" width="8.02" height="7.82" fill="#f5a46a"/>
<rect x="324.54" y="69.24" width="8.02" height="7.82" fill="#cfebf8"/>
<rect x="331.96" y="69.24" width="8.02" height="7.82" fill="#f5a46a"/>
<rect x="339.38" y="69.24" width="8.02" height="7.82" fill="#f18130"/>
<rect x="346.8" y="69.24" width="8.02" height="7.82" fill="#fce6d6"/>
<rect x="354.22" y="69.24" width="8.02" height="7.82" fill="#f18130"/>
<rect x="361.64" y="69.24" width="8.02" height="7.82" fill="#f5a46a"/>
<rect x="369.06" y="69.24" width="8.02" height="7.82" fill="#f18130"/>
<rect x="376.48" y="69.24" width="8.02" height="7.82" fill="#f9caa8"/>
<rect x="383.9" y="69.24" width="15.44" height="7.82" fill="#f5a46a"/>
<rect x="398.74" y="69.24" width="8.02" height="7.82" fill="#ffffff"/>
<rect x="406.16" y="69.24" width="8.02" height="7.82" fill="#f5a46a"/>
<rect x="413.58" y="69.24" width="8.02" height="7.82" fill="#a2d8f2"/>
<rect x="421" y="69.24" width="8.02" height="7.82" fill="#f9caa8"/>
<rect x="428.42" y="69.24" width="8.02" height="7.82" fill="#f5a46a"/>
<rect x="435.84" y="69.24" width="8.02" height="7.82" fill="#f18130"/>
<rect x="443.26" y="69.24" width="8.02" height="7.82" fill="#f9caa8"/>
<rect x="450.68" y="69.24" width="8.02" height="7.82" fill="#f18130"/>
<rect x="458.1" y="69.24" width="8.02" height="7.82" fill="#f9caa8"/>
<rect x="12.9" y="76.46" width="15.44" height="7.82" fill="#5fbbe8"/>
<rect x="27.74" y="76.46" width="8.02" height="7.82" fill="#cfebf8"/>
<rect x="35.16" y="76.46" width="22.86" height="7.82" fill="#5fbbe8"/>
<rect x="57.42" y="76.46" width="8.02" height="7.82" fill="#ffffff"/>
<rect x="64.84" y="76.46" width="8.02" height="7.82" fill="#f18130"/>
<rect x="72.26" y="76.46" width="8.02" height="7.82" fill="#75c5eb"/>
<rect x="79.68" y="76.46" width="8.02" height="7.82" fill="#5fbbe8"/>
<rect x="87.1" y="76.46" width="8.02" height="7.82" fill="#f9caa8"/>
<rect x="94.52" y="76.46" width="8.02" height="7.82" fill="#f18130"/>
<rect x="101.94" y="76.46" width="8.02" height="7.82" fill="#5fbbe8"/>
<rect x="109.36" y="76.46" width="8.02" height="7.82" fill="#f18130"/>
<rect x="116.78" y="76.46" width="8.02" height="7.82" fill="#75c5eb"/>
<rect x="124.2" y="76.46" width="8.02" height="7.82" fill="#f5a46a"/>
<rect x="131.62" y="76.46" width="8.02" height="7.82" fill="#5fbbe8"/>
<rect x="139.04" y="76.46" width="8.02" height="7.82" fill="#f18130"/>
<rect x="146.46" y="76.46" width="8.02" height="7.82" fill="#75c5eb"/>
<rect x="153.88" y="76.46" width="8.02" height="7.82" fill="#f18130"/>
<rect x="161.3" y="76.46" width="8.02" height="7.82" fill="#a2d8f2"/>
<rect x="168.72" y="76.46" width="8.02" height="7.82" fill="#75c5eb"/>
<rect x="176.14" y="76.46" width="8.02" height="7.82" fill="#5fbbe8"/>
<rect x="183.56" y="76.46" width="8.02" height="7.82" fill="#ffffff"/>
<rect x="190.98" y="76.46" width="8.02" height="7.82" fill="#5fbbe8"/>
<rect x="198.4" y="76.46" width="8.02" height="7.82" fill="#f18130"/>
<rect x="205.82" y="76.46" width="15.44" height="7.82" fill="#ffffff"/>
<rect x="220.66" y="76.46" width="8.02" height="7.82" fill="#fce6d6"/>
<rect x="228.08" y="76.46" width="8.02" height="7.82" fill="#f18130"/>
<rect x="235.5" y="76.46" width="8.02" height="7.82" fill="#cfebf8"/>
<rect x="242.92" y="76.46" width="8.02" height="7.82" fill="#ffffff"/>
<rect x="250.34" y="76.46" width="15.44" height="7.82" fill="#a2d8f2"/>
<rect x="265.18" y="76.46" width="8.02" height="7.82" fill="#f5a46a"/>
<rect x="272.6" y="76.46" width="8.02" height="7.82" fill="#5fbbe8"/>
<rect x="280.02" y="76.46" width="8.02" height="7.82" fill="#f9caa8"/>
<rect x="287.44" y="76.46" width="8.02" height="7.82" fill="#cfebf8"/>
<rect x="294.86" y="76.46" width="8.02" height="7.82" fill="#75c5eb"/>
<rect x="302.28" y="76.46" width="8.02" height="7.82" fill="#f18130"/>
<rect x="309.7" y="76.46" width="8.02" height="7.82" fill="#f5a46a"/>
<rect x="317.12" y="76.46" width="8.02" height="7.82" fill="#f18130"/>
<rect x="324.54" y="76.46" width="8.02" height="7.82" fill="#fce6d6"/>
<rect x="331.96" y="76.46" width="8.02" height="7.82" fill="#f5a46a"/>
<rect x="339.38" y="76.46" width="8.02" height="7.82" fill="#ffffff"/>
<rect x="346.8" y="76.46" width="15.44" height="7.82" fill="#f5a46a"/>
<rect x="361.64" y="76.46" width="8.02" height="7.82" fill="#f9caa8"/>
<rect x="369.06" y="76.46" width="8.02" height="7.82" fill="#f5a46a"/>
<rect x="376.48" y="76.46" width="8.02" height="7.82" fill="#5fbbe8"/>
<rect x="383.9" y="76.46" width="8.02" height="7.82" fill="#f18130"/>
<rect x="391.32" y="76.46" width="8.02" height="7.82" fill="#f9caa8"/>
<rect x="398.74" y="76.46" width="8.02" height="7.82" fill="#ffffff"/>
<rect x="406.16" y="76.46" width="8.02" height="7.82" fill="#f18130"/>
<rect x="413.58" y="76.46" width="15.44" height="7.82" fill="#f9caa8"/>
<rect x="428.42" y="76.46" width="22.86" height="7.82" fill="#f18130"/>
<rect x="450.68" y="76.46" width="8.02" height="7.82" fill="#f5a46a"/>
<rect x="458.1" y="76.46" width="8.02" height="7.82" fill="#f18130"/>
<rect x="12.9" y="83.68" width="52.54" height="7.82" fill="#5fbbe8"/>
<rect x="64.84" y="83.68" width="8.02" height="7.82" fill="#75c5eb"/>
<rect x="72.26" y="83.68" width="8.02" height="7.82" fill="#5fbbe8"/>
<rect x="79.68" y="83.68" width="8.02" height="7.82" fill="#75c5eb"/>
<rect x="87.1" y="83.68" width="8.02" height="7.82" fill="#cfebf8"/>
<rect x="94.52" y="83.68" width="8.02" height="7.82" fill="#75c5eb"/>
<rect x="101.94" y="83.68" width="8.02" height="7.82" fill="#5fbbe8"/>
<rect x="109.36" y="83.68" width="8.02" height="7.82" fill="#cfebf8"/>
<rect x="116.78" y="83.68" width="8.02" height="7.82" fill="#5fbbe8"/>
<rect x="124.2" y="83.68" width="15.44" height="7.82" fill="#75c5eb"/>
<rect x="139.04" y="83.68" width="8.02" height="7.82" fill="#f18130"/>
<rect x="146.46" y="83.68" width="8.02" height="7.82" fill="#75c5eb"/>
<rect x="153.88" y="83.68" width="8.02" height="7.82" fill="#f18130"/>
<rect x="161.3" y="83.68" width="8.02" height="7.82" fill="#5fbbe8"/>
<rect x="168.72" y="83.68" width="8.02" height="7.82" fill="#f9caa8"/>
<rect x="176.14" y="83.68" width="22.86" height="7.82" fill="#5fbbe8"/>
<rect x="198.4" y="83.68" width="8.02" height="7.82" fill="#f18130"/>
<rect x="205.82" y="83.68" width="8.02" height="7.82" fill="#f9caa8"/>
<rect x="213.24" y="83.68" width="8.02" height="7.82" fill="#f5a46a"/>
<rect x="220.66" y="83.68" width="8.02" height="7.82" fill="#cfebf8"/>
<rect x="228.08" y="83.68" width="8.02" height="7.82" fill="#f18130"/>
<rect x="235.5" y="83.68" width="15.44" height="7.82" fill="#a2d8f2"/>
<rect x="250.34" y="83.68" width="8.02" height="7.82" fill="#f5a46a"/>
<rect x="257.76" y="83.68" width="8.02" height="7.82" fill="#a2d8f2"/>
<rect x="265.18" y="83.68" width="8.02" height="7.82" fill="#f18130"/>
<rect x="272.6" y="83.68" width="8.02" height="7.82" fill="#75c5eb"/>
<rect x="280.02" y="83.68" width="8.02" height="7.82" fill="#fce6d6"/>
<rect x="287.44" y="83.68" width="8.02" height="7.82" fill="#f18130"/>
<rect x="294.86" y="83.68" width="8.02" height="7.82" fill="#75c5eb"/>
<rect x="302.28" y="83.68" width="8.02" height="7.82" fill="#f5a46a"/>
<rect x="309.7" y="83.68" width="8.02" height="7.82" fill="#f18130"/>
<rect x="317.12" y="83.68" width="8.02" height="7.82" fill="#f5a46a"/>
<rect x="324.54" y="83.68" width="8.02" height="7.82" fill="#f9caa8"/>
<rect x="331.96" y="83.68" width="8.02" height="7.82" fill="#f18130"/>
<rect x="339.38" y="83.68" width="8.02" height="7.82" fill="#a2d8f2"/>
<rect x="346.8" y="83.68" width="8.02" height="7.82" fill="#f9caa8"/>
<rect x="354.22" y="83.68" width="8.02" height="7.82" fill="#f18130"/>
<rect x="361.64" y="83.68" width="8.02" height="7.82" fill="#cfebf8"/>
<rect x="369.06" y="83.68" width="8.02" height="7.82" fill="#f18130"/>
<rect x="376.48" y="83.68" width="8.02" height="7.82" fill="#f9caa8"/>
<rect x="383.9" y="83.68" width="15.44" height="7.82" fill="#f18130"/>
<rect x="398.74" y="83.68" width="8.02" height="7.82" fill="#a2d8f2"/>
<rect x="406.16" y="83.68" width="8.02" height="7.82" fill="#f18130"/>
<rect x="413.58" y="83.68" width="8.02" height="7.82" fill="#fce6d6"/>
<rect x="421" y="83.68" width="22.86" height="7.82" fill="#f18130"/>
<rect x="443.26" y="83.68" width="8.02" height="7.82" fill="#f9caa8"/>
<rect x="450.68" y="83.68" width="15.44" height="7.82" fill="#f18130"/>
<rect x="12.9" y="90.9" width="82.22" height="7.82" fill="#5fbbe8"/>
<rect x="94.52" y="90.9" width="8.02" height="7.82" fill="#f18130"/>
<rect x="101.94" y="90.9" width="8.02" height="7.82" fill="#5fbbe8"/>
<rect x="109.36" y="90.9" width="8.02" height="7.82" fill="#f18130"/>
<rect x="116.78" y="90.9" width="8.02" height="7.82" fill="#5fbbe8"/>
<rect x="124.2" y="90.9" width="8.02" height="7.82" fill="#f5a46a"/>
<rect x="131.62" y="90.9" width="8.02" height="7.82" fill="#5fbbe8"/>
<rect x="139.04" y="90.9" width="8.02" height="7.82" fill="#a2d8f2"/>
<rect x="146.46" y="90.9" width="8.02" height="7.82" fill="#5fbbe8"/>
<rect x="153.88" y="90.9" width="8.02" height="7.82" fill="#f18130"/>
<rect x="161.3" y="90.9" width="15.44" height="7.82" fill="#5fbbe8"/>
<rect x="176.14" y="90.9" width="8.02" height="7.82" fill="#f9caa8"/>
<rect x="183.56" y="90.9" width="15.44" height="7.82" fill="#5fbbe8"/>
<rect x="198.4" y="90.9" width="8.02" height="7.82" fill="#f18130"/>
<rect x="205.82" y="90.9" width="8.02" height="7.82" fill="#a2d8f2"/>
<rect x="213.24" y="90.9" width="8.02" height="7.82" fill="#f18130"/>
<rect x="220.66" y="90.9" width="8.02" height="7.82" fill="#5fbbe8"/>
<rect x="228.08" y="90.9" width="8.02" height="7.82" fill="#f9caa8"/>
<rect x="235.5" y="90.9" width="15.44" height="7.82" fill="#5fbbe8"/>
<rect x="250.34" y="90.9" width="8.02" height="7.82" fill="#f18130"/>
<rect x="257.76" y="90.9" width="8.02" height="7.82" fill="#fce6d6"/>
<rect x="265.18" y="90.9" width="8.02" height="7.82" fill="#f18130"/>
<rect x="272.6" y="90.9" width="8.02" height="7.82" fill="#f9caa8"/>
<rect x="280.02" y="90.9" width="8.02" height="7.82" fill="#5fbbe8"/>
<rect x="287.44" y="90.9" width="8.02" height="7.82" fill="#f9caa8"/>
<rect x="294.86" y="90.9" width="15.44" height="7.82" fill="#f5a46a"/>
<rect x="309.7" y="90.9" width="8.02" height="7.82" fill="#a2d8f2"/>
<rect x="317.12" y="90.9" width="8.02" height="7.82" fill="#f18130"/>
<rect x="324.54" y="90.9" width="8.02" height="7.82" fill="#5fbbe8"/>
<rect x="331.96" y="90.9" width="8.02" height="7.82" fill="#f18130"/>
<rect x="339.38" y="90.9" width="8.02" height="7.82" fill="#5fbbe8"/>
<rect x="346.8" y="90.9" width="8.02" height="7.82" fill="#fce6d6"/>
<rect x="354.22" y="90.9" width="15.44" height="7.82" fill="#f18130"/>
<rect x="369.06" y="90.9" width="8.02" height="7.82" fill="#f5a46a"/>
<rect x="376.48" y="90.9" width="8.02" height="7.82" fill="#cfebf8"/>
<rect x="383.9" y="90.9" width="15.44" height="7.82" fill="#f5a46a"/>
<rect x="398.74" y="90.9" width="8.02" height="7.82" fill="#5fbbe8"/>
<rect x="406.16" y="90.9" width="8.02" height="7.82" fill="#f18130"/>
<rect x="413.58" y="90.9" width="8.02" height="7.82" fill="#5fbbe8"/>
<rect x="421" y="90.9" width="8.02" height="7.82" fill="#f5a46a"/>
<rect x="428.42" y="90.9" width="22.86" height="7.82" fill="#f18130"/>
<rect x="450.68" y="90.9" width="8.02" height="7.82" fill="#f5a46a"/>
<rect x="458.1" y="90.9" width="8.02" height="7.82" fill="#f18130"/>
<rect x="12.9" y="98.12" width="15.44" height="7.82" fill="#5fbbe8"/>
<rect x="27.74" y="98.12" width="8.02" height="7.82" fill="#a2d8f2"/>
<rect x="35.16" y="98.12" width="15.44" height="7.82" fill="#5fbbe8"/>
<rect x="50" y="98.12" width="8.02" height="7.82" fill="#cfebf8"/>
<rect x="57.42" y="98.12" width="22.86" height="7.82" fill="#a2d8f2"/>
<rect x="79.68" y="98.12" width="8.02" height="7.82" fill="#cfebf8"/>
<rect x="87.1" y="98.12" width="8.02" height="7.82" fill="#fce6d6"/>
<rect x="94.52" y="98.12" width="15.44" height="7.82" fill="#cfebf8"/>
<rect x="109.36" y="98.12" width="8.02" height="7.82" fill="#fce6d6"/>
<rect x="116.78" y="98.12" width="8.02" height="7.82" fill="#cfebf8"/>
<rect x="124.2" y="98.12" width="8.02" height="7.82" fill="#f18130"/>
<rect x="131.62" y="98.12" width="8.02" height="7.82" fill="#5fbbe8"/>
<rect x="139.04" y="98.12" width="15.44" height="7.82" fill="#f18130"/>
<rect x="153.88" y="98.12" width="8.02" height="7.82" fill="#fce6d6"/>
<rect x="161.3" y="98.12" width="8.02" height="7.82" fill="#75c5eb"/>
<rect x="168.72" y="98.12" width="15.44" height="7.82" fill="#f9caa8"/>
<rect x="183.56" y="98.12" width="8.02" height="7.82" fill="#75c5eb"/>
<rect x="190.98" y="98.12" width="8.02" height="7.82" fill="#f18130"/>
<rect x="198.4" y="98.12" width="8.02" height="7.82" fill="#fce6d6"/>
<rect x="205.82" y="98.12" width="8.02" height="7.82" fill="#a2d8f2"/>
<rect x="213.24" y="98.12" width="8.02" height="7.82" fill="#f5a46a"/>
<rect x="220.66" y="98.12" width="8.02" height="7.82" fill="#75c5eb"/>
<rect x="228.08" y="98.12" width="8.02" height="7.82" fill="#fce6d6"/>
<rect x="235.5" y="98.12" width="8.02" height="7.82" fill="#f18130"/>
<rect x="242.92" y="98.12" width="8.02" height="7.82" fill="#5fbbe8"/>
<rect x="250.34" y="98.12" width="8.02" height="7.82" fill="#f5a46a"/>
<rect x="257.76" y="98.12" width="8.02" height="7.82" fill="#ffffff"/>
<rect x="265.18" y="98.12" width="8.02" height="7.82" fill="#f5a46a"/>
<rect x="272.6" y="98.12" width="15.44" height="7.82" fill="#f18130"/>
<rect x="287.44" y="98.12" width="8.02" height="7.82" fill="#f5a46a"/>
<rect x="294.86" y="98.12" width="8.02" height="7.82" fill="#a2d8f2"/>
<rect x="302.28" y="98.12" width="8.02" height="7.82" fill="#f18130"/>
<rect x="309.7" y="98.12" width="8.02" height="7.82" fill="#a2d8f2"/>
<rect x="317.12" y="98.12" width="8.02" height="7.82" fill="#fce6d6"/>
<rect x="324.54" y="98.12" width="8.02" height="7.82" fill="#f18130"/>
<rect x="331.96" y="98.12" width="8.02" height="7.82" fill="#f9caa8"/>
<rect x="339.38" y="98.12" width="8.02" height="7.82" fill="#a2d8f2"/>
<rect x="346.8" y="98.12" width="8.02" height="7.82" fill="#f18130"/>
<rect x="354.22" y="98.12" width="8.02" height="7.82" fill="#75c5eb"/>
<rect x="361.64" y="98.12" width="8.02" height="7.82" fill="#fce6d6"/>
<rect x="369.06" y="98.12" width="8.02" height="7.82" fill="#ffffff"/>
<rect x="376.48" y="98.12" width="8.02" height="7.82" fill="#fce6d6"/>
<rect x="383.9" y="98.12" width="15.44" height="7.82" fill="#f18130"/>
<rect x="398.74" y="98.12" width="15.44" height="7.82" fill="#f9caa8"/>
<rect x="413.58" y="98.12" width="8.02" height="7.82" fill="#5fbbe8"/>
<rect x="421" y="98.12" width="8.02" height="7.82" fill="#75c5eb"/>
<rect x="428.42" y="98.12" width="15.44" height="7.82" fill="#fce6d6"/>
<rect x="443.26" y="98.12" width="8.02" height="7.82" fill="#f5a46a"/>
<rect x="450.68" y="98.12" width="8.02" height="7.82" fill="#cfebf8"/>
<rect x="458.1" y="98.12" width="8.02" height="7.82" fill="#a2d8f2"/>
<rect x="12.9" y="105.34" width="8.02" height="7.82" fill="#5fbbe8"/>
<rect x="20.32" y="105.34" width="8.02" height="7.82" fill="#75c5eb"/>
<rect x="27.74" y="105.34" width="8.02" height="7.82" fill="#a2d8f2"/>
<rect x="35.16" y="105.34" width="8.02" height="7.82" fill="#75c5eb"/>
<rect x="42.58" y="105.34" width="8.02" height="7.82" fill="#5fbbe8"/>
<rect x="50" y="105.34" width="8.02" height="7.82" fill="#75c5eb"/>
<rect x="57.42" y="105.34" width="30.28" height="7.82" fill="#5fbbe8"/>
<rect x="87.1" y="105.34" width="8.02" height="7.82" fill="#a2d8f2"/>
<rect x="94.52" y="105.34" width="8.02" height="7.82" fill="#cfebf8"/>
<rect x="101.94" y="105.34" width="8.02" height="7.82" fill="#f18130"/>
<rect x="109.36" y="105.34" width="8.02" height="7.82" fill="#f9caa8"/>
<rect x="116.78" y="105.34" width="8.02" height="7.82" fill="#a2d8f2"/>
<rect x="124.2" y="105.34" width="8.02" height="7.82" fill="#ffffff"/>
<rect x="131.62" y="105.34" width="8.02" height="7.82" fill="#5fbbe8"/>
<rect x="139.04" y="105.34" width="8.02" height="7.82" fill="#ffffff"/>
<rect x="146.46" y="105.34" width="8.02" height="7.82" fill="#a2d8f2"/>
<rect x="153.88" y="105.34" width="8.02" height="7.82" fill="#f5a46a"/>
<rect x="161.3" y="105.34" width="8.02" height="7.82" fill="#cfebf8"/>
<rect x="168.72" y="105.34" width="8.02" height="7.82" fill="#5fbbe8"/>
<rect x="176.14" y="105.34" width="8.02" height="7.82" fill="#a2d8f2"/>
<rect x="183.56" y="105.34" width="8.02" height="7.82" fill="#f18130"/>
<rect x="190.98" y="105.34" width="8.02" height="7.82" fill="#5fbbe8"/>
<rect x="198.4" y="105.34" width="8.02" height="7.82" fill="#f5a46a"/>
<rect x="205.82" y="105.34" width="8.02" height="7.82" fill="#cfebf8"/>
<rect x="213.24" y="105.34" width="15.44" height="7.82" fill="#f9caa8"/>
<rect x="228.08" y="105.34" width="8.02" height="7.82" fill="#f18130"/>
<rect x="235.5" y="105.34" width="15.44" height="7.82" fill="#f9caa8"/>
<rect x="250.34" y="105.34" width="8.02" height="7.82" fill="#fce6d6"/>
<rect x="257.76" y="105.34" width="8.02" height="7.82" fill="#5fbbe8"/>
<rect x="265.18" y="105.34" width="8.02" height="7.82" fill="#f5a46a"/>
<rect x="272.6" y="105.34" width="8.02" height="7.82" fill="#5fbbe8"/>
<rect x="280.02" y="105.34" width="22.86" height="7.82" fill="#f18130"/>
<rect x="302.28" y="105.34" width="8.02" height="7.82" fill="#f9caa8"/>
<rect x="309.7" y="105.34" width="8.02" height="7.82" fill="#5fbbe8"/>
<rect x="317.12" y="105.34" width="8.02" height="7.82" fill="#cfebf8"/>
<rect x="324.54" y="105.34" width="15.44" height="7.82" fill="#fce6d6"/>
<rect x="339.38" y="105.34" width="8.02" height="7.82" fill="#f18130"/>
<rect x="346.8" y="105.34" width="8.02" height="7.82" fill="#ffffff"/>
<rect x="354.22" y="105.34" width="8.02" height="7.82" fill="#5fbbe8"/>
<rect x="361.64" y="105.34" width="8.02" height="7.82" fill="#fce6d6"/>
<rect x="369.06" y="105.34" width="15.44" height="7.82" fill="#5fbbe8"/>
<rect x="383.9" y="105.34" width="8.02" height="7.82" fill="#f5a46a"/>
<rect x="391.32" y="105.34" width="15.44" height="7.82" fill="#f18130"/>
<rect x="406.16" y="105.34" width="8.02" height="7.82" fill="#f5a46a"/>
<rect x="413.58" y="105.34" width="8.02" height="7.82" fill="#cfebf8"/>
<rect x="421" y="105.34" width="8.02" height="7.82" fill="#a2d8f2"/>
<rect x="428.42" y="105.34" width="8.02" height="7.82" fill="#cfebf8"/>
<rect x="435.84" y="105.34" width="15.44" height="7.82" fill="#f18130"/>
<rect x="450.68" y="105.34" width="8.02" height="7.82" fill="#ffffff"/>
<rect x="458.1" y="105.34" width="8.02" height="7.82" fill="#f18130"/>
</g>
<text x="467" y="24.91" font-size="6.5" text-anchor="start" fill="#231F20">CCL3 (MIP-1α)</text>
<text x="467" y="32.13" font-size="6.5" text-anchor="start" fill="#231F20">CXCL10</text>
<text x="467" y="39.35" font-size="6.5" text-anchor="start" fill="#231F20">TNF</text>
<text x="467" y="46.57" font-size="6.5" text-anchor="start" fill="#231F20">IL-10</text>
<text x="467" y="53.79" font-size="6.5" text-anchor="start" fill="#231F20">CCL2 (MCP-1)</text>
<text x="467" y="61.01" font-size="6.5" text-anchor="start" fill="#231F20">IL-1ra</text>
<text x="467" y="68.23" font-size="6.5" text-anchor="start" fill="#231F20">IL-6</text>
<text x="467" y="75.45" font-size="6.5" text-anchor="start" fill="#231F20">CCL19 (MIP-3β)</text>
<text x="467" y="82.67" font-size="6.5" text-anchor="start" fill="#231F20">PD-L1</text>
<text x="467" y="89.89" font-size="6.5" text-anchor="start" fill="#231F20">VEGF</text>
<text x="467" y="97.11" font-size="6.5" text-anchor="start" fill="#231F20">FGF</text>
<text x="467" y="104.33" font-size="6.5" text-anchor="start" fill="#231F20">CSF3 (G-CSF)</text>
<text x="467" y="111.55" font-size="6.5" text-anchor="start" fill="#231F20">Granzyme B</text>
<defs><linearGradient id="cb" x1="0" y1="0" x2="0" y2="1"><stop offset="0" stop-color="rgb(241, 129, 48)"/><stop offset="0.5" stop-color="#fff"/><stop offset="1" stop-color="rgb(95, 187, 232)"/></linearGradient></defs>
<rect x="523.3" y="19.6" width="6.6" height="93.3" fill="url(#cb)"/>
<line x1="529.9" y1="19.8" x2="533.7" y2="19.8" stroke="#777" stroke-width="0.5"/>
<line x1="529.9" y1="24.45" x2="531.7" y2="24.45" stroke="#777" stroke-width="0.5"/>
<line x1="529.9" y1="29.09" x2="531.7" y2="29.09" stroke="#777" stroke-width="0.5"/>
<line x1="529.9" y1="33.73" x2="531.7" y2="33.73" stroke="#777" stroke-width="0.5"/>
<line x1="529.9" y1="38.38" x2="531.7" y2="38.38" stroke="#777" stroke-width="0.5"/>
<line x1="529.9" y1="43.03" x2="533.7" y2="43.03" stroke="#777" stroke-width="0.5"/>
<line x1="529.9" y1="47.67" x2="531.7" y2="47.67" stroke="#777" stroke-width="0.5"/>
<line x1="529.9" y1="52.31" x2="531.7" y2="52.31" stroke="#777" stroke-width="0.5"/>
<line x1="529.9" y1="56.96" x2="531.7" y2="56.96" stroke="#777" stroke-width="0.5"/>
<line x1="529.9" y1="61.61" x2="531.7" y2="61.61" stroke="#777" stroke-width="0.5"/>
<line x1="529.9" y1="66.25" x2="533.7" y2="66.25" stroke="#777" stroke-width="0.5"/>
<line x1="529.9" y1="70.9" x2="531.7" y2="70.9" stroke="#777" stroke-width="0.5"/>
<line x1="529.9" y1="75.54" x2="531.7" y2="75.54" stroke="#777" stroke-width="0.5"/>
<line x1="529.9" y1="80.19" x2="531.7" y2="80.19" stroke="#777" stroke-width="0.5"/>
<line x1="529.9" y1="84.83" x2="531.7" y2="84.83" stroke="#777" stroke-width="0.5"/>
<line x1="529.9" y1="89.47" x2="533.7" y2="89.47" stroke="#777" stroke-width="0.5"/>
<line x1="529.9" y1="94.12" x2="531.7" y2="94.12" stroke="#777" stroke-width="0.5"/>
<line x1="529.9" y1="98.77" x2="531.7" y2="98.77" stroke="#777" stroke-width="0.5"/>
<line x1="529.9" y1="103.41" x2="531.7" y2="103.41" stroke="#777" stroke-width="0.5"/>
<line x1="529.9" y1="108.06" x2="531.7" y2="108.06" stroke="#777" stroke-width="0.5"/>
<line x1="529.9" y1="112.7" x2="533.7" y2="112.7" stroke="#777" stroke-width="0.5"/>
<text x="536.5" y="22.3" font-size="6.5" text-anchor="start" fill="#231F20">1</text>
<text x="536.5" y="45.2" font-size="6.5" text-anchor="start" fill="#231F20">0.5</text>
<text x="536.5" y="68.6" font-size="6.5" text-anchor="start" fill="#231F20">0</text>
<text x="536.5" y="91.8" font-size="6.5" text-anchor="start" fill="#231F20">−0.5</text>
<text x="536.5" y="114.9" font-size="6.5" text-anchor="start" fill="#231F20">−1</text>
<rect x="565.4" y="19.3" width="6.9" height="6.3" fill="#231F20"/>
<text x="576.3" y="24.9" font-size="6.7" text-anchor="start" fill="#231F20">Healthy controls</text>
<rect x="565.4" y="27.96" width="6.9" height="6.3" fill="#5DB35C"/>
<text x="576.3" y="33.56" font-size="6.7" text-anchor="start" fill="#231F20">Disease</text>
<rect x="565.4" y="36.62" width="6.9" height="6.3" fill="#24479D"/>
<text x="576.3" y="42.22" font-size="6.7" text-anchor="start" fill="#231F20">Moderate</text>
<rect x="565.4" y="45.28" width="6.9" height="6.3" fill="#5F4B9E"/>
<text x="576.3" y="50.88" font-size="6.7" text-anchor="start" fill="#231F20">Severe</text>
<rect x="565.4" y="53.94" width="6.9" height="6.3" fill="#EE3530"/>
<text x="576.3" y="59.54" font-size="6.7" text-anchor="start" fill="#231F20">Critical</text>
<text x="-1" y="4.8" font-size="10.4" text-anchor="start" font-weight="bold" fill="#111">a</text>
<path d="M45.4 141.8V229.5H94.2" fill="none" stroke="#8c8c8c" stroke-width="0.6"/>
<path d="M45.4 141.8h-3.4M45.4 162.23h-2M45.4 157.09h-2M45.4 153.43h-2M45.4 150.6h-2M45.4 148.29h-2M45.4 146.33h-2M45.4 144.63h-2M45.4 143.14h-2M45.4 171.03h-3.4M45.4 191.47h-2M45.4 186.32h-2M45.4 182.67h-2M45.4 179.83h-2M45.4 177.52h-2M45.4 175.56h-2M45.4 173.87h-2M45.4 172.37h-2M45.4 200.27h-3.4M45.4 220.7h-2M45.4 215.55h-2M45.4 211.9h-2M45.4 209.07h-2M45.4 206.75h-2M45.4 204.79h-2M45.4 203.1h-2M45.4 201.6h-2M45.4 229.5h-3.4M52.5 229.5v3.6M64.1 229.5v3.6M75.5 229.5v3.6M86.9 229.5v3.6" fill="none" stroke="#8c8c8c" stroke-width="0.6"/>
<text x="39.1" y="144.7" font-size="8.2" text-anchor="end" fill="#231F20">10<tspan dy="-3.7" font-size="6">3</tspan></text>
<text x="39.1" y="173.93" font-size="8.2" text-anchor="end" fill="#231F20">10<tspan dy="-3.7" font-size="6">2</tspan></text>
<text x="39.1" y="203.17" font-size="8.2" text-anchor="end" fill="#231F20">10<tspan dy="-3.7" font-size="6">1</tspan></text>
<text x="39.1" y="232.4" font-size="8.2" text-anchor="end" fill="#231F20">10<tspan dy="-3.7" font-size="6">0</tspan></text>
<text transform="translate(19.8 185.65) rotate(-90)" font-size="9" text-anchor="middle" fill="#231F20">CCL3 (pg ml<tspan dy="-3.3" font-size="5.6">−1</tspan><tspan dy="3.3">)</tspan></text>
<line x1="52.5" y1="161.6" x2="52.5" y2="192.8" stroke="#444" stroke-width="0.5"/>
<rect x="48.7" y="163.2" width="7.6" height="17.4" fill="#231F20" stroke="#231F20" stroke-width="0.4"/>
<line x1="64.1" y1="163.6" x2="64.1" y2="193.3" stroke="#444" stroke-width="0.5"/>
<rect x="60.3" y="169.8" width="7.6" height="11.9" fill="#24479D" stroke="#231F20" stroke-width="0.4"/>
<line x1="75.5" y1="167" x2="75.5" y2="201" stroke="#444" stroke-width="0.5"/>
<rect x="71.7" y="170.1" width="7.6" height="13.6" fill="#5F4B9E" stroke="#231F20" stroke-width="0.4"/>
<line x1="86.9" y1="164.3" x2="86.9" y2="187.4" stroke="#444" stroke-width="0.5"/>
<rect x="83.1" y="172" width="7.6" height="11.2" fill="#EE3530" stroke="#231F20" stroke-width="0.4"/>
<path d="M133.6 141.8V229.5H183" fill="none" stroke="#8c8c8c" stroke-width="0.6"/>
<path d="M133.6 141.8h-3.4M133.6 157.12h-2M133.6 153.26h-2M133.6 150.52h-2M133.6 148.4h-2M133.6 146.66h-2M133.6 145.2h-2M133.6 143.92h-2M133.6 142.8h-2M133.6 163.73h-3.4M133.6 179.05h-2M133.6 175.19h-2M133.6 172.45h-2M133.6 170.33h-2M133.6 168.59h-2M133.6 167.12h-2M133.6 165.85h-2M133.6 164.73h-2M133.6 185.65h-3.4M133.6 200.97h-2M133.6 197.11h-2M133.6 194.37h-2M133.6 192.25h-2M133.6 190.51h-2M133.6 189.05h-2M133.6 187.77h-2M133.6 186.65h-2M133.6 207.57h-3.4M133.6 222.9h-2M133.6 219.04h-2M133.6 216.3h-2M133.6 214.18h-2M133.6 212.44h-2M133.6 210.97h-2M133.6 209.7h-2M133.6 208.58h-2M133.6 229.5h-3.4M141.3 229.5v3.6M152.7 229.5v3.6M164 229.5v3.6M175.4 229.5v3.6" fill="none" stroke="#8c8c8c" stroke-width="0.6"/>
<text x="127.3" y="144.7" font-size="8.2" text-anchor="end" fill="#231F20">10<tspan dy="-3.7" font-size="6">4</tspan></text>
<text x="127.3" y="166.63" font-size="8.2" text-anchor="end" fill="#231F20">10<tspan dy="-3.7" font-size="6">3</tspan></text>
<text x="127.3" y="188.55" font-size="8.2" text-anchor="end" fill="#231F20">10<tspan dy="-3.7" font-size="6">2</tspan></text>
<text x="127.3" y="210.47" font-size="8.2" text-anchor="end" fill="#231F20">10<tspan dy="-3.7" font-size="6">1</tspan></text>
<text x="127.3" y="232.4" font-size="8.2" text-anchor="end" fill="#231F20">10<tspan dy="-3.7" font-size="6">0</tspan></text>
<text transform="translate(108.6 185.65) rotate(-90)" font-size="9" text-anchor="middle" fill="#231F20">CXCL10 (pg ml<tspan dy="-3.3" font-size="5.6">−1</tspan><tspan dy="3.3">)</tspan></text>
<path d="M141.3 177V154.2H175.4V156.2" fill="none" stroke="#4a4a4a" stroke-width="0.5"/>
<text x="159.4" y="154.9" font-size="9.5" letter-spacing="0.8" text-anchor="middle" fill="#231F20">***</text>
<path d="M141.3 181.7V178.6H164V181" fill="none" stroke="#4a4a4a" stroke-width="0.5"/>
<text x="153.3" y="179.7" font-size="9.5" letter-spacing="0.8" text-anchor="middle" fill="#231F20">*</text>
<line x1="141.3" y1="188.6" x2="141.3" y2="214.9" stroke="#444" stroke-width="0.5"/>
<rect x="137.5" y="192.5" width="7.6" height="6.2" fill="#231F20" stroke="#231F20" stroke-width="0.4"/>
<line x1="152.7" y1="186.3" x2="152.7" y2="196.7" stroke="#444" stroke-width="0.5"/>
<rect x="148.9" y="190.2" width="7.6" height="3.8" fill="#24479D" stroke="#231F20" stroke-width="0.4"/>
<line x1="164" y1="183.2" x2="164" y2="193.6" stroke="#444" stroke-width="0.5"/>
<rect x="160.2" y="189.1" width="7.6" height="2.6" fill="#5F4B9E" stroke="#231F20" stroke-width="0.4"/>
<line x1="175.4" y1="158.9" x2="175.4" y2="194" stroke="#444" stroke-width="0.5"/>
<rect x="171.6" y="185.2" width="7.6" height="5.8" fill="#EE3530" stroke="#231F20" stroke-width="0.4"/>
<path d="M227.4 143.8V231.2H276.8" fill="none" stroke="#8c8c8c" stroke-width="0.6"/>
<path d="M227.4 143.8h-3.4M227.4 159.07h-2M227.4 155.22h-2M227.4 152.49h-2M227.4 150.38h-2M227.4 148.65h-2M227.4 147.18h-2M227.4 145.92h-2M227.4 144.8h-2M227.4 165.65h-3.4M227.4 180.92h-2M227.4 177.07h-2M227.4 174.34h-2M227.4 172.23h-2M227.4 170.5h-2M227.4 169.03h-2M227.4 167.77h-2M227.4 166.65h-2M227.4 187.5h-3.4M227.4 202.77h-2M227.4 198.92h-2M227.4 196.19h-2M227.4 194.08h-2M227.4 192.35h-2M227.4 190.88h-2M227.4 189.62h-2M227.4 188.5h-2M227.4 209.35h-3.4M227.4 224.62h-2M227.4 220.77h-2M227.4 218.04h-2M227.4 215.93h-2M227.4 214.2h-2M227.4 212.73h-2M227.4 211.47h-2M227.4 210.35h-2M227.4 231.2h-3.4M234.4 231.2v3.6M246.3 231.2v3.6M257.5 231.2v3.6M269.1 231.2v3.6" fill="none" stroke="#8c8c8c" stroke-width="0.6"/>
<text x="221.1" y="146.7" font-size="8.2" text-anchor="end" fill="#231F20">10<tspan dy="-3.7" font-size="6">3</tspan></text>
<text x="221.1" y="168.55" font-size="8.2" text-anchor="end" fill="#231F20">10<tspan dy="-3.7" font-size="6">2</tspan></text>
<text x="221.1" y="190.4" font-size="8.2" text-anchor="end" fill="#231F20">10<tspan dy="-3.7" font-size="6">1</tspan></text>
<text x="221.1" y="212.25" font-size="8.2" text-anchor="end" fill="#231F20">10<tspan dy="-3.7" font-size="6">0</tspan></text>
<text x="221.1" y="234.1" font-size="8.2" text-anchor="end" fill="#231F20">10<tspan dy="-3.7" font-size="6">−1</tspan></text>
<text transform="translate(197.5 187.5) rotate(-90)" font-size="9" text-anchor="middle" fill="#231F20">TNF (pg ml<tspan dy="-3.3" font-size="5.6">−1</tspan><tspan dy="3.3">)</tspan></text>
<path d="M246.3 148.6V144.3H269.1V148.6" fill="none" stroke="#4a4a4a" stroke-width="0.5"/>
<text x="257.2" y="145.4" font-size="9.5" letter-spacing="0.8" text-anchor="middle" fill="#231F20">**</text>
<path d="M234.4 165.6V152.3H269.1V156.2" fill="none" stroke="#4a4a4a" stroke-width="0.5"/>
<text x="256.1" y="153.5" font-size="9.5" letter-spacing="0.8" text-anchor="middle" fill="#231F20">****</text>
<path d="M234.4 185.6V167.3H257.5V170" fill="none" stroke="#4a4a4a" stroke-width="0.5"/>
<text x="246.7" y="167.9" font-size="9.5" letter-spacing="0.8" text-anchor="middle" fill="#231F20">*</text>
<line x1="234.4" y1="192.8" x2="234.4" y2="216.7" stroke="#444" stroke-width="0.5"/>
<rect x="230.6" y="203" width="7.6" height="9.6" fill="#231F20" stroke="#231F20" stroke-width="0.4"/>
<line x1="246.3" y1="184.3" x2="246.3" y2="211.3" stroke="#444" stroke-width="0.5"/>
<rect x="242.5" y="198.7" width="7.6" height="4.1" fill="#24479D" stroke="#231F20" stroke-width="0.4"/>
<line x1="257.5" y1="183" x2="257.5" y2="201.5" stroke="#444" stroke-width="0.5"/>
<rect x="253.7" y="193.3" width="7.6" height="5.4" fill="#5F4B9E" stroke="#231F20" stroke-width="0.4"/>
<line x1="269.1" y1="158" x2="269.1" y2="210.2" stroke="#444" stroke-width="0.5"/>
<rect x="265.3" y="175.8" width="7.6" height="21.6" fill="#EE3530" stroke="#231F20" stroke-width="0.4"/>
<path d="M317 143.6V231.1H366" fill="none" stroke="#8c8c8c" stroke-width="0.6"/>
<path d="M317 143.6h-3.4M317 174.18h-2M317 166.48h-2M317 161.01h-2M317 156.77h-2M317 153.31h-2M317 150.38h-2M317 147.84h-2M317 145.6h-2M317 187.35h-3.4M317 217.93h-2M317 210.23h-2M317 204.76h-2M317 200.52h-2M317 197.06h-2M317 194.13h-2M317 191.59h-2M317 189.35h-2M317 231.1h-3.4M324.4 231.1v3.6M335.6 231.1v3.6M347.1 231.1v3.6M358.5 231.1v3.6" fill="none" stroke="#8c8c8c" stroke-width="0.6"/>
<text x="310.7" y="146.5" font-size="8.2" text-anchor="end" fill="#231F20">10<tspan dy="-3.7" font-size="6">2</tspan></text>
<text x="310.7" y="190.25" font-size="8.2" text-anchor="end" fill="#231F20">10<tspan dy="-3.7" font-size="6">1</tspan></text>
<text x="310.7" y="234" font-size="8.2" text-anchor="end" fill="#231F20">10<tspan dy="-3.7" font-size="6">0</tspan></text>
<text transform="translate(291.1 187.35) rotate(-90)" font-size="9" text-anchor="middle" fill="#231F20">IL-10 (pg ml<tspan dy="-3.3" font-size="5.6">−1</tspan><tspan dy="3.3">)</tspan></text>
<path d="M324.4 176.3V149.3H358.5V154" fill="none" stroke="#4a4a4a" stroke-width="0.5"/>
<text x="341.4" y="150.8" font-size="9.5" letter-spacing="0.8" text-anchor="middle" fill="#231F20">****</text>
<path d="M324.4 156.5H347.1V160" fill="none" stroke="#4a4a4a" stroke-width="0.5"/>
<text x="336" y="158.2" font-size="9.5" letter-spacing="0.8" text-anchor="middle" fill="#231F20">***</text>
<line x1="324.4" y1="179.4" x2="324.4" y2="224.4" stroke="#444" stroke-width="0.5"/>
<rect x="320.6" y="204" width="7.6" height="10" fill="#231F20" stroke="#231F20" stroke-width="0.4"/>
<line x1="335.6" y1="184" x2="335.6" y2="214.6" stroke="#444" stroke-width="0.5"/>
<rect x="331.8" y="194" width="7.6" height="6.7" fill="#24479D" stroke="#231F20" stroke-width="0.4"/>
<line x1="347.1" y1="162.7" x2="347.1" y2="204.5" stroke="#444" stroke-width="0.5"/>
<rect x="343.3" y="190.2" width="7.6" height="5.4" fill="#5F4B9E" stroke="#231F20" stroke-width="0.4"/>
<line x1="358.5" y1="157.8" x2="358.5" y2="204.5" stroke="#444" stroke-width="0.5"/>
<rect x="354.7" y="180.2" width="7.6" height="11.5" fill="#EE3530" stroke="#231F20" stroke-width="0.4"/>
<path d="M407 143.6V231.1H456" fill="none" stroke="#8c8c8c" stroke-width="0.6"/>
<path d="M407 143.6h-3.4M407 158.89h-2M407 155.04h-2M407 152.3h-2M407 150.19h-2M407 148.45h-2M407 146.99h-2M407 145.72h-2M407 144.6h-2M407 165.47h-3.4M407 180.76h-2M407 176.91h-2M407 174.18h-2M407 172.06h-2M407 170.33h-2M407 168.86h-2M407 167.59h-2M407 166.48h-2M407 187.35h-3.4M407 202.64h-2M407 198.79h-2M407 196.05h-2M407 193.94h-2M407 192.2h-2M407 190.74h-2M407 189.47h-2M407 188.35h-2M407 209.22h-3.4M407 224.51h-2M407 220.66h-2M407 217.93h-2M407 215.81h-2M407 214.08h-2M407 212.61h-2M407 211.34h-2M407 210.23h-2M407 231.1h-3.4M414.1 231.1v3.6M425.5 231.1v3.6M436.8 231.1v3.6M448.5 231.1v3.6" fill="none" stroke="#8c8c8c" stroke-width="0.6"/>
<text x="400.7" y="146.5" font-size="8.2" text-anchor="end" fill="#231F20">10<tspan dy="-3.7" font-size="6">4</tspan></text>
<text x="400.7" y="168.38" font-size="8.2" text-anchor="end" fill="#231F20">10<tspan dy="-3.7" font-size="6">3</tspan></text>
<text x="400.7" y="190.25" font-size="8.2" text-anchor="end" fill="#231F20">10<tspan dy="-3.7" font-size="6">2</tspan></text>
<text x="400.7" y="212.12" font-size="8.2" text-anchor="end" fill="#231F20">10<tspan dy="-3.7" font-size="6">1</tspan></text>
<text x="400.7" y="234" font-size="8.2" text-anchor="end" fill="#231F20">10<tspan dy="-3.7" font-size="6">0</tspan></text>
<text transform="translate(380.6 187.35) rotate(-90)" font-size="9" text-anchor="middle" fill="#231F20">CCL2 (pg ml<tspan dy="-3.3" font-size="5.6">−1</tspan><tspan dy="3.3">)</tspan></text>
<path d="M425.5 148V145.9H448.5V148" fill="none" stroke="#4a4a4a" stroke-width="0.5"/>
<text x="437.2" y="146.9" font-size="9.5" letter-spacing="0.8" text-anchor="middle" fill="#231F20">*</text>
<path d="M414.1 183.2V153.1H448.5V157" fill="none" stroke="#4a4a4a" stroke-width="0.5"/>
<text x="432.8" y="154.5" font-size="9.5" letter-spacing="0.8" text-anchor="middle" fill="#231F20">**</text>
<path d="M425.5 160.2V158.2H436.8V160.2" fill="none" stroke="#4a4a4a" stroke-width="0.5"/>
<text x="431.8" y="160.2" font-size="9.5" letter-spacing="0.8" text-anchor="middle" fill="#231F20">*</text>
<path d="M414.1 163.2H436.8V166.3" fill="none" stroke="#4a4a4a" stroke-width="0.5"/>
<text x="431" y="165.6" font-size="9.5" letter-spacing="0.8" text-anchor="middle" fill="#231F20">**</text>
<line x1="414.1" y1="185.9" x2="414.1" y2="213.5" stroke="#444" stroke-width="0.5"/>
<rect x="410.3" y="188.3" width="7.6" height="7.3" fill="#231F20" stroke="#231F20" stroke-width="0.4"/>
<line x1="425.5" y1="184" x2="425.5" y2="201.5" stroke="#444" stroke-width="0.5"/>
<rect x="421.7" y="189.1" width="7.6" height="4.9" fill="#24479D" stroke="#231F20" stroke-width="0.4"/>
<line x1="436.8" y1="167.5" x2="436.8" y2="192.8" stroke="#444" stroke-width="0.5"/>
<rect x="433" y="176" width="7.6" height="12.6" fill="#5F4B9E" stroke="#231F20" stroke-width="0.4"/>
<line x1="448.5" y1="157.8" x2="448.5" y2="197.9" stroke="#444" stroke-width="0.5"/>
<rect x="444.7" y="173.7" width="7.6" height="18.8" fill="#EE3530" stroke="#231F20" stroke-width="0.4"/>
<path d="M497 143.6V231.1H545.3" fill="none" stroke="#8c8c8c" stroke-width="0.6"/>
<path d="M497 143.6h-3.4M497 174.18h-2M497 166.48h-2M497 161.01h-2M497 156.77h-2M497 153.31h-2M497 150.38h-2M497 147.84h-2M497 145.6h-2M497 187.35h-3.4M497 217.93h-2M497 210.23h-2M497 204.76h-2M497 200.52h-2M497 197.06h-2M497 194.13h-2M497 191.59h-2M497 189.35h-2M497 231.1h-3.4M503.6 231.1v3.6M514.9 231.1v3.6M526.3 231.1v3.6M537.6 231.1v3.6" fill="none" stroke="#8c8c8c" stroke-width="0.6"/>
<text x="490.7" y="146.5" font-size="8.2" text-anchor="end" fill="#231F20">10<tspan dy="-3.7" font-size="6">4</tspan></text>
<text x="490.7" y="190.25" font-size="8.2" text-anchor="end" fill="#231F20">10<tspan dy="-3.7" font-size="6">3</tspan></text>
<text x="490.7" y="234" font-size="8.2" text-anchor="end" fill="#231F20">10<tspan dy="-3.7" font-size="6">2</tspan></text>
<text transform="translate(470.6 187.35) rotate(-90)" font-size="9" text-anchor="middle" fill="#231F20">IL-1ra (pg ml<tspan dy="-3.3" font-size="5.6">−1</tspan><tspan dy="3.3">)</tspan></text>
<path d="M503.6 187.9V138.5H537.6V142.3" fill="none" stroke="#4a4a4a" stroke-width="0.5"/>
<text x="521" y="140.1" font-size="9.5" letter-spacing="0.8" text-anchor="middle" fill="#231F20">****</text>
<path d="M503.6 145.1H526.3V149.3" fill="none" stroke="#4a4a4a" stroke-width="0.5"/>
<text x="514.8" y="146.7" font-size="9.5" letter-spacing="0.8" text-anchor="middle" fill="#231F20">****</text>
<path d="M503.6 153.1H514.9V155.2" fill="none" stroke="#4a4a4a" stroke-width="0.5"/>
<text x="509.4" y="154.9" font-size="9.5" letter-spacing="0.8" text-anchor="middle" fill="#231F20">*</text>
<line x1="503.6" y1="196.4" x2="503.6" y2="228" stroke="#444" stroke-width="0.5"/>
<rect x="499.8" y="203.8" width="7.6" height="4.6" fill="#231F20" stroke="#231F20" stroke-width="0.4"/>
<line x1="514.9" y1="160.1" x2="514.9" y2="201.3" stroke="#444" stroke-width="0.5"/>
<rect x="511.1" y="170.9" width="7.6" height="26.2" fill="#24479D" stroke="#231F20" stroke-width="0.4"/>
<line x1="526.3" y1="153.1" x2="526.3" y2="191.3" stroke="#444" stroke-width="0.5"/>
<rect x="522.5" y="161.6" width="7.6" height="14.7" fill="#5F4B9E" stroke="#231F20" stroke-width="0.4"/>
<line x1="537.6" y1="145.9" x2="537.6" y2="186.3" stroke="#444" stroke-width="0.5"/>
<rect x="533.8" y="158.9" width="7.6" height="15.9" fill="#EE3530" stroke="#231F20" stroke-width="0.4"/>
<path d="M587 143.6V231.1H636" fill="none" stroke="#8c8c8c" stroke-width="0.6"/>
<path d="M587 143.6h-3.4M587 158.89h-2M587 155.04h-2M587 152.3h-2M587 150.19h-2M587 148.45h-2M587 146.99h-2M587 145.72h-2M587 144.6h-2M587 165.47h-3.4M587 180.76h-2M587 176.91h-2M587 174.18h-2M587 172.06h-2M587 170.33h-2M587 168.86h-2M587 167.59h-2M587 166.48h-2M587 187.35h-3.4M587 202.64h-2M587 198.79h-2M587 196.05h-2M587 193.94h-2M587 192.2h-2M587 190.74h-2M587 189.47h-2M587 188.35h-2M587 209.22h-3.4M587 224.51h-2M587 220.66h-2M587 217.93h-2M587 215.81h-2M587 214.08h-2M587 212.61h-2M587 211.34h-2M587 210.23h-2M587 231.1h-3.4M594.4 231.1v3.6M606.3 231.1v3.6M617.5 231.1v3.6M628.8 231.1v3.6" fill="none" stroke="#8c8c8c" stroke-width="0.6"/>
<text x="580.7" y="146.5" font-size="8.2" text-anchor="end" fill="#231F20">10<tspan dy="-3.7" font-size="6">3</tspan></text>
<text x="580.7" y="168.38" font-size="8.2" text-anchor="end" fill="#231F20">10<tspan dy="-3.7" font-size="6">2</tspan></text>
<text x="580.7" y="190.25" font-size="8.2" text-anchor="end" fill="#231F20">10<tspan dy="-3.7" font-size="6">1</tspan></text>
<text x="580.7" y="212.12" font-size="8.2" text-anchor="end" fill="#231F20">10<tspan dy="-3.7" font-size="6">0</tspan></text>
<text x="580.7" y="234" font-size="8.2" text-anchor="end" fill="#231F20">10<tspan dy="-3.7" font-size="6">−1</tspan></text>
<text transform="translate(558 187.35) rotate(-90)" font-size="9" text-anchor="middle" fill="#231F20">IL-6 (pg ml<tspan dy="-3.3" font-size="5.6">−1</tspan><tspan dy="3.3">)</tspan></text>
<path d="M606.3 149.8V145.4H628.8V149.8" fill="none" stroke="#4a4a4a" stroke-width="0.5"/>
<text x="617.2" y="147" font-size="9.5" letter-spacing="0.8" text-anchor="middle" fill="#231F20">**</text>
<path d="M594.4 184V153.1H628.8V157.5" fill="none" stroke="#4a4a4a" stroke-width="0.5"/>
<text x="616.1" y="154.7" font-size="9.5" letter-spacing="0.8" text-anchor="middle" fill="#231F20">****</text>
<path d="M594.4 159.8H617.5V163.2" fill="none" stroke="#4a4a4a" stroke-width="0.5"/>
<text x="606.4" y="161.5" font-size="9.5" letter-spacing="0.8" text-anchor="middle" fill="#231F20">****</text>
<line x1="594.4" y1="193" x2="594.4" y2="221.4" stroke="#444" stroke-width="0.5"/>
<rect x="590.6" y="204.8" width="7.6" height="10.8" fill="#231F20" stroke="#231F20" stroke-width="0.4"/>
<line x1="606.3" y1="179.8" x2="606.3" y2="216.9" stroke="#444" stroke-width="0.5"/>
<rect x="602.5" y="180.9" width="7.6" height="13.6" fill="#24479D" stroke="#231F20" stroke-width="0.4"/>
<line x1="617.5" y1="166.6" x2="617.5" y2="191.4" stroke="#444" stroke-width="0.5"/>
<rect x="613.7" y="171.4" width="7.6" height="8" fill="#5F4B9E" stroke="#231F20" stroke-width="0.4"/>
<line x1="628.8" y1="161.3" x2="628.8" y2="191.7" stroke="#444" stroke-width="0.5"/>
<rect x="625" y="166.3" width="7.6" height="13.4" fill="#EE3530" stroke="#231F20" stroke-width="0.4"/>
<path d="M44.8 259.1V346H94.2" fill="none" stroke="#8c8c8c" stroke-width="0.6"/>
<path d="M44.8 259.1h-3.4M44.8 279.35h-2M44.8 274.25h-2M44.8 270.63h-2M44.8 267.82h-2M44.8 265.53h-2M44.8 263.59h-2M44.8 261.91h-2M44.8 260.43h-2M44.8 288.07h-3.4M44.8 308.31h-2M44.8 303.21h-2M44.8 299.59h-2M44.8 296.79h-2M44.8 294.49h-2M44.8 292.55h-2M44.8 290.87h-2M44.8 289.39h-2M44.8 317.03h-3.4M44.8 337.28h-2M44.8 332.18h-2M44.8 328.56h-2M44.8 325.75h-2M44.8 323.46h-2M44.8 321.52h-2M44.8 319.84h-2M44.8 318.36h-2M44.8 346h-3.4M52.4 346v3.6M63.6 346v3.6M75.2 346v3.6M86.8 346v3.6" fill="none" stroke="#8c8c8c" stroke-width="0.6"/>
<text x="38.5" y="262" font-size="8.2" text-anchor="end" fill="#231F20">10<tspan dy="-3.7" font-size="6">4</tspan></text>
<text x="38.5" y="290.97" font-size="8.2" text-anchor="end" fill="#231F20">10<tspan dy="-3.7" font-size="6">3</tspan></text>
<text x="38.5" y="319.93" font-size="8.2" text-anchor="end" fill="#231F20">10<tspan dy="-3.7" font-size="6">2</tspan></text>
<text x="38.5" y="348.9" font-size="8.2" text-anchor="end" fill="#231F20">10<tspan dy="-3.7" font-size="6">1</tspan></text>
<text transform="translate(18.6 302.55) rotate(-90)" font-size="9" text-anchor="middle" fill="#231F20">CCL19 (pg ml<tspan dy="-3.3" font-size="5.6">−1</tspan><tspan dy="3.3">)</tspan></text>
<path d="M52.4 295.8V267.3H86.8V270" fill="none" stroke="#4a4a4a" stroke-width="0.5"/>
<text x="69.4" y="268.3" font-size="9.5" letter-spacing="0.8" text-anchor="middle" fill="#231F20">****</text>
<path d="M52.4 275.5H75.2V278" fill="none" stroke="#4a4a4a" stroke-width="0.5"/>
<text x="64" y="276.8" font-size="9.5" letter-spacing="0.8" text-anchor="middle" fill="#231F20">***</text>
<path d="M52.4 282.3H63.6V284.3" fill="none" stroke="#4a4a4a" stroke-width="0.5"/>
<text x="58.6" y="284.3" font-size="9.5" letter-spacing="0.8" text-anchor="middle" fill="#231F20">*</text>
<line x1="52.4" y1="307.4" x2="52.4" y2="329.8" stroke="#444" stroke-width="0.5"/>
<rect x="48.6" y="312" width="7.6" height="8.2" fill="#231F20" stroke="#231F20" stroke-width="0.4"/>
<line x1="63.6" y1="286.6" x2="63.6" y2="319" stroke="#444" stroke-width="0.5"/>
<rect x="59.8" y="294.3" width="7.6" height="18.5" fill="#24479D" stroke="#231F20" stroke-width="0.4"/>
<line x1="75.2" y1="284.6" x2="75.2" y2="314.7" stroke="#444" stroke-width="0.5"/>
<rect x="71.4" y="292" width="7.6" height="13.9" fill="#5F4B9E" stroke="#231F20" stroke-width="0.4"/>
<line x1="86.8" y1="279.6" x2="86.8" y2="341.4" stroke="#444" stroke-width="0.5"/>
<rect x="83" y="293.2" width="7.6" height="5" fill="#EE3530" stroke="#231F20" stroke-width="0.4"/>
<path d="M135.4 259.1V346H184.5" fill="none" stroke="#8c8c8c" stroke-width="0.6"/>
<path d="M135.4 259.1h-3.4M135.4 289.47h-2M135.4 281.82h-2M135.4 276.39h-2M135.4 272.18h-2M135.4 268.74h-2M135.4 265.83h-2M135.4 263.31h-2M135.4 261.09h-2M135.4 302.55h-3.4M135.4 332.92h-2M135.4 325.27h-2M135.4 319.84h-2M135.4 315.63h-2M135.4 312.19h-2M135.4 309.28h-2M135.4 306.76h-2M135.4 304.54h-2M135.4 346h-3.4M142.8 346v3.6M154.4 346v3.6M165.7 346v3.6M177.3 346v3.6" fill="none" stroke="#8c8c8c" stroke-width="0.6"/>
<text x="129.1" y="262" font-size="8.2" text-anchor="end" fill="#231F20">10<tspan dy="-3.7" font-size="6">3</tspan></text>
<text x="129.1" y="305.45" font-size="8.2" text-anchor="end" fill="#231F20">10<tspan dy="-3.7" font-size="6">2</tspan></text>
<text x="129.1" y="348.9" font-size="8.2" text-anchor="end" fill="#231F20">10<tspan dy="-3.7" font-size="6">1</tspan></text>
<text transform="translate(109.8 302.55) rotate(-90)" font-size="9" text-anchor="middle" fill="#231F20">PD-L1 (pg ml<tspan dy="-3.3" font-size="5.6">−1</tspan><tspan dy="3.3">)</tspan></text>
<path d="M142.8 282.7V275.5H177.3V277.3" fill="none" stroke="#4a4a4a" stroke-width="0.5"/>
<text x="160.5" y="276.5" font-size="9.5" letter-spacing="0.8" text-anchor="middle" fill="#231F20">**</text>
<line x1="142.8" y1="285.5" x2="142.8" y2="316.7" stroke="#444" stroke-width="0.5"/>
<rect x="139" y="298.2" width="7.6" height="18.5" fill="#231F20" stroke="#231F20" stroke-width="0.4"/>
<line x1="154.4" y1="287" x2="154.4" y2="315.4" stroke="#444" stroke-width="0.5"/>
<rect x="150.6" y="291.2" width="7.6" height="18.1" fill="#24479D" stroke="#231F20" stroke-width="0.4"/>
<line x1="165.7" y1="289.4" x2="165.7" y2="314.4" stroke="#444" stroke-width="0.5"/>
<rect x="161.9" y="295.8" width="7.6" height="4.4" fill="#5F4B9E" stroke="#231F20" stroke-width="0.4"/>
<line x1="177.3" y1="280.4" x2="177.3" y2="315.1" stroke="#444" stroke-width="0.5"/>
<rect x="173.5" y="287.4" width="7.6" height="9.2" fill="#EE3530" stroke="#231F20" stroke-width="0.4"/>
<path d="M225.4 258.7V346.1H274.5" fill="none" stroke="#8c8c8c" stroke-width="0.6"/>
<path d="M225.4 258.7h-3.4M225.4 289.24h-2M225.4 281.55h-2M225.4 276.09h-2M225.4 271.86h-2M225.4 268.39h-2M225.4 265.47h-2M225.4 262.93h-2M225.4 260.7h-2M225.4 302.4h-3.4M225.4 332.94h-2M225.4 325.25h-2M225.4 319.79h-2M225.4 315.56h-2M225.4 312.09h-2M225.4 309.17h-2M225.4 306.63h-2M225.4 304.4h-2M225.4 346.1h-3.4M232.8 346.1v3.6M244.4 346.1v3.6M255.7 346.1v3.6M267.3 346.1v3.6" fill="none" stroke="#8c8c8c" stroke-width="0.6"/>
<text x="219.1" y="261.6" font-size="8.2" text-anchor="end" fill="#231F20">10<tspan dy="-3.7" font-size="6">3</tspan></text>
<text x="219.1" y="305.3" font-size="8.2" text-anchor="end" fill="#231F20">10<tspan dy="-3.7" font-size="6">2</tspan></text>
<text x="219.1" y="349" font-size="8.2" text-anchor="end" fill="#231F20">10<tspan dy="-3.7" font-size="6">1</tspan></text>
<text transform="translate(199.5 302.4) rotate(-90)" font-size="9" text-anchor="middle" fill="#231F20">VEGF (pg ml<tspan dy="-3.3" font-size="5.6">−1</tspan><tspan dy="3.3">)</tspan></text>
<path d="M244.4 253V250.4H267.3V253" fill="none" stroke="#4a4a4a" stroke-width="0.5"/>
<text x="255.6" y="251.8" font-size="9.5" letter-spacing="0.8" text-anchor="middle" fill="#231F20">*</text>
<path d="M232.8 271.5V257.4H267.3V259.7" fill="none" stroke="#4a4a4a" stroke-width="0.5"/>
<text x="253.3" y="259" font-size="9.5" letter-spacing="0.8" text-anchor="middle" fill="#231F20">****</text>
<path d="M232.8 263.5H255.7V266.1" fill="none" stroke="#4a4a4a" stroke-width="0.5"/>
<text x="244.8" y="265.4" font-size="9.5" letter-spacing="0.8" text-anchor="middle" fill="#231F20">**</text>
<line x1="232.8" y1="296.2" x2="232.8" y2="327.6" stroke="#444" stroke-width="0.5"/>
<rect x="229" y="307" width="7.6" height="11.6" fill="#231F20" stroke="#231F20" stroke-width="0.4"/>
<line x1="244.4" y1="274.6" x2="244.4" y2="314.5" stroke="#444" stroke-width="0.5"/>
<rect x="240.6" y="287" width="7.6" height="21.6" fill="#24479D" stroke="#231F20" stroke-width="0.4"/>
<line x1="255.7" y1="267.7" x2="255.7" y2="305" stroke="#444" stroke-width="0.5"/>
<rect x="251.9" y="277" width="7.6" height="22.3" fill="#5F4B9E" stroke="#231F20" stroke-width="0.4"/>
<line x1="267.3" y1="263.1" x2="267.3" y2="303.2" stroke="#444" stroke-width="0.5"/>
<rect x="263.5" y="273.1" width="7.6" height="14.7" fill="#EE3530" stroke="#231F20" stroke-width="0.4"/>
<path d="M314.8 258.7V346.1H363.7" fill="none" stroke="#8c8c8c" stroke-width="0.6"/>
<path d="M314.8 258.7h-3.4M314.8 279.06h-2M314.8 273.93h-2M314.8 270.29h-2M314.8 267.47h-2M314.8 265.16h-2M314.8 263.21h-2M314.8 261.52h-2M314.8 260.03h-2M314.8 287.83h-3.4M314.8 308.2h-2M314.8 303.07h-2M314.8 299.43h-2M314.8 296.6h-2M314.8 294.3h-2M314.8 292.35h-2M314.8 290.66h-2M314.8 289.17h-2M314.8 316.97h-3.4M314.8 337.33h-2M314.8 332.2h-2M314.8 328.56h-2M314.8 325.74h-2M314.8 323.43h-2M314.8 321.48h-2M314.8 319.79h-2M314.8 318.3h-2M314.8 346.1h-3.4M322.4 346.1v3.6M333.6 346.1v3.6M345.2 346.1v3.6M356.8 346.1v3.6" fill="none" stroke="#8c8c8c" stroke-width="0.6"/>
<text x="308.5" y="261.6" font-size="8.2" text-anchor="end" fill="#231F20">10<tspan dy="-3.7" font-size="6">3</tspan></text>
<text x="308.5" y="290.73" font-size="8.2" text-anchor="end" fill="#231F20">10<tspan dy="-3.7" font-size="6">2</tspan></text>
<text x="308.5" y="319.87" font-size="8.2" text-anchor="end" fill="#231F20">10<tspan dy="-3.7" font-size="6">1</tspan></text>
<text x="308.5" y="349" font-size="8.2" text-anchor="end" fill="#231F20">10<tspan dy="-3.7" font-size="6">0</tspan></text>
<text transform="translate(288.6 302.4) rotate(-90)" font-size="9" text-anchor="middle" fill="#231F20">FGF (pg ml<tspan dy="-3.3" font-size="5.6">−1</tspan><tspan dy="3.3">)</tspan></text>
<path d="M322.4 286.7V280H356.8V283.9" fill="none" stroke="#4a4a4a" stroke-width="0.5"/>
<text x="339.8" y="281.1" font-size="9.5" letter-spacing="0.8" text-anchor="middle" fill="#231F20">***</text>
<line x1="322.4" y1="296.2" x2="322.4" y2="324.6" stroke="#444" stroke-width="0.5"/>
<rect x="318.6" y="323.6" width="7.6" height="1" fill="#231F20" stroke="#231F20" stroke-width="0.4"/>
<line x1="333.6" y1="285.4" x2="333.6" y2="325.1" stroke="#444" stroke-width="0.5"/>
<rect x="329.8" y="307" width="7.6" height="18.1" fill="#24479D" stroke="#231F20" stroke-width="0.4"/>
<line x1="345.2" y1="290.4" x2="345.2" y2="325.1" stroke="#444" stroke-width="0.5"/>
<rect x="341.4" y="301.2" width="7.6" height="23.9" fill="#5F4B9E" stroke="#231F20" stroke-width="0.4"/>
<line x1="356.8" y1="288.8" x2="356.8" y2="324" stroke="#444" stroke-width="0.5"/>
<rect x="353" y="298.2" width="7.6" height="16.3" fill="#EE3530" stroke="#231F20" stroke-width="0.4"/>
<path d="M404.8 258.7V346.1H453.7" fill="none" stroke="#8c8c8c" stroke-width="0.6"/>
<path d="M404.8 258.7h-3.4M404.8 279.06h-2M404.8 273.93h-2M404.8 270.29h-2M404.8 267.47h-2M404.8 265.16h-2M404.8 263.21h-2M404.8 261.52h-2M404.8 260.03h-2M404.8 287.83h-3.4M404.8 308.2h-2M404.8 303.07h-2M404.8 299.43h-2M404.8 296.6h-2M404.8 294.3h-2M404.8 292.35h-2M404.8 290.66h-2M404.8 289.17h-2M404.8 316.97h-3.4M404.8 337.33h-2M404.8 332.2h-2M404.8 328.56h-2M404.8 325.74h-2M404.8 323.43h-2M404.8 321.48h-2M404.8 319.79h-2M404.8 318.3h-2M404.8 346.1h-3.4M412.1 346.1v3.6M423.6 346.1v3.6M435.2 346.1v3.6M446.5 346.1v3.6" fill="none" stroke="#8c8c8c" stroke-width="0.6"/>
<text x="398.5" y="261.6" font-size="8.2" text-anchor="end" fill="#231F20">10<tspan dy="-3.7" font-size="6">3</tspan></text>
<text x="398.5" y="290.73" font-size="8.2" text-anchor="end" fill="#231F20">10<tspan dy="-3.7" font-size="6">2</tspan></text>
<text x="398.5" y="319.87" font-size="8.2" text-anchor="end" fill="#231F20">10<tspan dy="-3.7" font-size="6">1</tspan></text>
<text x="398.5" y="349" font-size="8.2" text-anchor="end" fill="#231F20">10<tspan dy="-3.7" font-size="6">0</tspan></text>
<text transform="translate(378.6 302.4) rotate(-90)" font-size="9" text-anchor="middle" fill="#231F20">CSF3 (pg ml<tspan dy="-3.3" font-size="5.6">−1</tspan><tspan dy="3.3">)</tspan></text>
<path d="M412.1 289.3V257.4H446.5V259.7" fill="none" stroke="#4a4a4a" stroke-width="0.5"/>
<text x="429.8" y="259" font-size="9.5" letter-spacing="0.8" text-anchor="middle" fill="#231F20">*</text>
<path d="M412.1 264.6H435.2V268.5" fill="none" stroke="#4a4a4a" stroke-width="0.5"/>
<text x="424" y="266.5" font-size="9.5" letter-spacing="0.8" text-anchor="middle" fill="#231F20">**</text>
<line x1="412.1" y1="292.7" x2="412.1" y2="343.3" stroke="#444" stroke-width="0.5"/>
<rect x="408.3" y="296.2" width="7.6" height="13.5" fill="#231F20" stroke="#231F20" stroke-width="0.4"/>
<line x1="423.6" y1="279.3" x2="423.6" y2="307.5" stroke="#444" stroke-width="0.5"/>
<rect x="419.8" y="285.4" width="7.6" height="14.2" fill="#24479D" stroke="#231F20" stroke-width="0.4"/>
<line x1="435.2" y1="271.2" x2="435.2" y2="313.2" stroke="#444" stroke-width="0.5"/>
<rect x="431.4" y="279" width="7.6" height="16.8" fill="#5F4B9E" stroke="#231F20" stroke-width="0.4"/>
<line x1="446.5" y1="264.6" x2="446.5" y2="317.4" stroke="#444" stroke-width="0.5"/>
<rect x="442.7" y="286.2" width="7.6" height="13.1" fill="#EE3530" stroke="#231F20" stroke-width="0.4"/>
<path d="M494.4 258.7V346.1H543.3" fill="none" stroke="#8c8c8c" stroke-width="0.6"/>
<path d="M494.4 258.7h-3.4M494.4 289.24h-2M494.4 281.55h-2M494.4 276.09h-2M494.4 271.86h-2M494.4 268.39h-2M494.4 265.47h-2M494.4 262.93h-2M494.4 260.7h-2M494.4 302.4h-3.4M494.4 332.94h-2M494.4 325.25h-2M494.4 319.79h-2M494.4 315.56h-2M494.4 312.09h-2M494.4 309.17h-2M494.4 306.63h-2M494.4 304.4h-2M494.4 346.1h-3.4M501.8 346.1v3.6M513.3 346.1v3.6M524.8 346.1v3.6M536.2 346.1v3.6" fill="none" stroke="#8c8c8c" stroke-width="0.6"/>
<text x="488.1" y="261.6" font-size="8.2" text-anchor="end" fill="#231F20">10<tspan dy="-3.7" font-size="6">2</tspan></text>
<text x="488.1" y="305.3" font-size="8.2" text-anchor="end" fill="#231F20">10<tspan dy="-3.7" font-size="6">1</tspan></text>
<text x="488.1" y="349" font-size="8.2" text-anchor="end" fill="#231F20">10<tspan dy="-3.7" font-size="6">0</tspan></text>
<text transform="translate(468.3 302.4) rotate(-90)" font-size="9" text-anchor="middle" fill="#231F20">Granzyme B (pg ml<tspan dy="-3.3" font-size="5.6">−1</tspan><tspan dy="3.3">)</tspan></text>
<path d="M501.8 283.9V262.8H536.2V265.8" fill="none" stroke="#4a4a4a" stroke-width="0.5"/>
<text x="519" y="264.1" font-size="9.5" letter-spacing="0.8" text-anchor="middle" fill="#231F20">**</text>
<path d="M501.8 270.3H524.8V272" fill="none" stroke="#4a4a4a" stroke-width="0.5"/>
<text x="513.6" y="271.8" font-size="9.5" letter-spacing="0.8" text-anchor="middle" fill="#231F20">**</text>
<line x1="501.8" y1="303.2" x2="501.8" y2="318.3" stroke="#444" stroke-width="0.5"/>
<rect x="498" y="309.4" width="7.6" height="8.9" fill="#231F20" stroke="#231F20" stroke-width="0.4"/>
<line x1="513.3" y1="276.6" x2="513.3" y2="317.1" stroke="#444" stroke-width="0.5"/>
<rect x="509.5" y="294.2" width="7.6" height="12.4" fill="#24479D" stroke="#231F20" stroke-width="0.4"/>
<line x1="524.8" y1="274.6" x2="524.8" y2="317.1" stroke="#444" stroke-width="0.5"/>
<rect x="521" y="289" width="7.6" height="9.9" fill="#5F4B9E" stroke="#231F20" stroke-width="0.4"/>
<line x1="536.2" y1="273.1" x2="536.2" y2="317.1" stroke="#444" stroke-width="0.5"/>
<rect x="532.4" y="290.5" width="7.6" height="14.2" fill="#EE3530" stroke="#231F20" stroke-width="0.4"/>
<path d="M42.4 462V550.3H91.8" fill="none" stroke="#8c8c8c" stroke-width="0.6"/>
<path d="M42.4 462h-3.4M42.4 482.57h-2M42.4 477.39h-2M42.4 473.71h-2M42.4 470.86h-2M42.4 468.53h-2M42.4 466.56h-2M42.4 464.85h-2M42.4 463.35h-2M42.4 491.43h-3.4M42.4 512.01h-2M42.4 506.82h-2M42.4 503.15h-2M42.4 500.29h-2M42.4 497.96h-2M42.4 495.99h-2M42.4 494.29h-2M42.4 492.78h-2M42.4 520.87h-3.4M42.4 541.44h-2M42.4 536.26h-2M42.4 532.58h-2M42.4 529.73h-2M42.4 527.4h-2M42.4 525.43h-2M42.4 523.72h-2M42.4 522.21h-2M42.4 550.3h-3.4M50.2 550.3v3.6M61.7 550.3v3.6M73 550.3v3.6M84.6 550.3v3.6" fill="none" stroke="#8c8c8c" stroke-width="0.6"/>
<text x="36.1" y="464.9" font-size="8.2" text-anchor="end" fill="#231F20">10<tspan dy="-3.7" font-size="6">3</tspan></text>
<text x="36.1" y="494.33" font-size="8.2" text-anchor="end" fill="#231F20">10<tspan dy="-3.7" font-size="6">2</tspan></text>
<text x="36.1" y="523.77" font-size="8.2" text-anchor="end" fill="#231F20">10<tspan dy="-3.7" font-size="6">1</tspan></text>
<text x="36.1" y="553.2" font-size="8.2" text-anchor="end" fill="#231F20">10<tspan dy="-3.7" font-size="6">0</tspan></text>
<text transform="translate(6.8 506.15) rotate(-90)" font-size="9" text-anchor="middle" fill="#231F20">CCL2</text>
<text transform="translate(17.2 506.15) rotate(-90)" font-size="9" text-anchor="middle" fill="#231F20">(fg µg<tspan dy="-3.3" font-size="5.6">−1</tspan><tspan dy="3.3"> of total protein)</tspan></text>
<path d="M50.2 500.9V469H84.6V472" fill="none" stroke="#4a4a4a" stroke-width="0.5"/>
<text x="67.8" y="470.3" font-size="9.5" letter-spacing="0.8" text-anchor="middle" fill="#231F20">**</text>
<line x1="50.2" y1="502.2" x2="50.2" y2="535.1" stroke="#444" stroke-width="0.5"/>
<rect x="46.4" y="534.1" width="7.6" height="1" fill="#231F20" stroke="#231F20" stroke-width="0.4"/>
<line x1="61.7" y1="504.5" x2="61.7" y2="534.6" stroke="#444" stroke-width="0.5"/>
<rect x="57.9" y="512.2" width="7.6" height="22.4" fill="#24479D" stroke="#231F20" stroke-width="0.4"/>
<line x1="57.9" y1="526.4" x2="65.5" y2="526.4" stroke="#231F20" stroke-width="0.5"/>
<line x1="73" y1="473.6" x2="73" y2="534.6" stroke="#444" stroke-width="0.5"/>
<rect x="69.2" y="502.2" width="7.6" height="32.4" fill="#5F4B9E" stroke="#231F20" stroke-width="0.4"/>
<line x1="84.6" y1="474.2" x2="84.6" y2="534.6" stroke="#444" stroke-width="0.5"/>
<rect x="80.8" y="487" width="7.6" height="33.7" fill="#EE3530" stroke="#231F20" stroke-width="0.4"/>
<line x1="80.8" y1="499" x2="88.4" y2="499" stroke="#231F20" stroke-width="0.5"/>
<path d="M143.6 462V550.3H192.5" fill="none" stroke="#8c8c8c" stroke-width="0.6"/>
<path d="M143.6 462h-3.4M143.6 492.86h-2M143.6 485.09h-2M143.6 479.57h-2M143.6 475.29h-2M143.6 471.79h-2M143.6 468.84h-2M143.6 466.28h-2M143.6 464.02h-2M143.6 506.15h-3.4M143.6 537.01h-2M143.6 529.24h-2M143.6 523.72h-2M143.6 519.44h-2M143.6 515.94h-2M143.6 512.99h-2M143.6 510.43h-2M143.6 508.17h-2M143.6 550.3h-3.4M150.9 550.3v3.6M162.4 550.3v3.6M173.7 550.3v3.6M185.3 550.3v3.6" fill="none" stroke="#8c8c8c" stroke-width="0.6"/>
<text x="137.3" y="464.9" font-size="8.2" text-anchor="end" fill="#231F20">10<tspan dy="-3.7" font-size="6">1</tspan></text>
<text x="137.3" y="509.05" font-size="8.2" text-anchor="end" fill="#231F20">10<tspan dy="-3.7" font-size="6">0</tspan></text>
<text x="137.3" y="553.2" font-size="8.2" text-anchor="end" fill="#231F20">10<tspan dy="-3.7" font-size="6">−1</tspan></text>
<text transform="translate(104.1 506.15) rotate(-90)" font-size="9" text-anchor="middle" fill="#231F20">IL-10</text>
<text transform="translate(114.8 506.15) rotate(-90)" font-size="9" text-anchor="middle" fill="#231F20">(fg µg<tspan dy="-3.3" font-size="5.6">−1</tspan><tspan dy="3.3"> of total protein)</tspan></text>
<line x1="150.9" y1="540.5" x2="150.9" y2="550.3" stroke="#444" stroke-width="0.5"/>
<rect x="147.1" y="540.5" width="7.6" height="1" fill="#231F20" stroke="#231F20" stroke-width="0.4"/>
<line x1="162.4" y1="519.9" x2="162.4" y2="541" stroke="#444" stroke-width="0.5"/>
<rect x="158.6" y="533.3" width="7.6" height="7.7" fill="#24479D" stroke="#231F20" stroke-width="0.4"/>
<line x1="173.7" y1="485.2" x2="173.7" y2="542.3" stroke="#444" stroke-width="0.5"/>
<rect x="169.9" y="511.3" width="7.6" height="29.2" fill="#5F4B9E" stroke="#231F20" stroke-width="0.4"/>
<line x1="185.3" y1="472.7" x2="185.3" y2="540" stroke="#444" stroke-width="0.5"/>
<rect x="181.5" y="523.3" width="7.6" height="16.7" fill="#EE3530" stroke="#231F20" stroke-width="0.4"/>
<path d="M245.6 462V550.3H294.5" fill="none" stroke="#8c8c8c" stroke-width="0.6"/>
<path d="M245.6 462h-3.4M245.6 477.43h-2M245.6 473.54h-2M245.6 470.78h-2M245.6 468.65h-2M245.6 466.9h-2M245.6 465.42h-2M245.6 464.14h-2M245.6 463.01h-2M245.6 484.07h-3.4M245.6 499.5h-2M245.6 495.62h-2M245.6 492.86h-2M245.6 490.72h-2M245.6 488.97h-2M245.6 487.49h-2M245.6 486.21h-2M245.6 485.09h-2M245.6 506.15h-3.4M245.6 521.58h-2M245.6 517.69h-2M245.6 514.93h-2M245.6 512.8h-2M245.6 511.05h-2M245.6 509.57h-2M245.6 508.29h-2M245.6 507.16h-2M245.6 528.22h-3.4M245.6 543.65h-2M245.6 539.77h-2M245.6 537.01h-2M245.6 534.87h-2M245.6 533.12h-2M245.6 531.64h-2M245.6 530.36h-2M245.6 529.24h-2M245.6 550.3h-3.4M252.9 550.3v3.6M264.4 550.3v3.6M275.6 550.3v3.6M287.3 550.3v3.6" fill="none" stroke="#8c8c8c" stroke-width="0.6"/>
<text x="239.3" y="464.9" font-size="8.2" text-anchor="end" fill="#231F20">10<tspan dy="-3.7" font-size="6">1</tspan></text>
<text x="239.3" y="486.97" font-size="8.2" text-anchor="end" fill="#231F20">10<tspan dy="-3.7" font-size="6">0</tspan></text>
<text x="239.3" y="509.05" font-size="8.2" text-anchor="end" fill="#231F20">10<tspan dy="-3.7" font-size="6">−1</tspan></text>
<text x="239.3" y="531.12" font-size="8.2" text-anchor="end" fill="#231F20">10<tspan dy="-3.7" font-size="6">−2</tspan></text>
<text x="239.3" y="553.2" font-size="8.2" text-anchor="end" fill="#231F20">10<tspan dy="-3.7" font-size="6">−3</tspan></text>
<text transform="translate(204.8 506.15) rotate(-90)" font-size="9" text-anchor="middle" fill="#231F20">IFN-γ</text>
<text transform="translate(214.8 506.15) rotate(-90)" font-size="9" text-anchor="middle" fill="#231F20">(fg µg<tspan dy="-3.3" font-size="5.6">−1</tspan><tspan dy="3.3"> of total protein)</tspan></text>
<line x1="252.9" y1="481.6" x2="252.9" y2="508.3" stroke="#444" stroke-width="0.5"/>
<rect x="249.1" y="482.7" width="7.6" height="19.3" fill="#231F20" stroke="#231F20" stroke-width="0.4"/>
<line x1="264.4" y1="491.7" x2="264.4" y2="528.2" stroke="#444" stroke-width="0.5"/>
<rect x="260.6" y="495.2" width="7.6" height="15.8" fill="#24479D" stroke="#231F20" stroke-width="0.4"/>
<line x1="275.6" y1="494" x2="275.6" y2="515.6" stroke="#444" stroke-width="0.5"/>
<rect x="271.8" y="497" width="7.6" height="13.5" fill="#5F4B9E" stroke="#231F20" stroke-width="0.4"/>
<line x1="287.3" y1="495.5" x2="287.3" y2="516.4" stroke="#444" stroke-width="0.5"/>
<rect x="283.5" y="501.7" width="7.6" height="6.9" fill="#EE3530" stroke="#231F20" stroke-width="0.4"/>
<path d="M345.6 462V550.3H394.5" fill="none" stroke="#8c8c8c" stroke-width="0.6"/>
<path d="M345.6 462h-3.4M345.6 492.86h-2M345.6 485.09h-2M345.6 479.57h-2M345.6 475.29h-2M345.6 471.79h-2M345.6 468.84h-2M345.6 466.28h-2M345.6 464.02h-2M345.6 506.15h-3.4M345.6 537.01h-2M345.6 529.24h-2M345.6 523.72h-2M345.6 519.44h-2M345.6 515.94h-2M345.6 512.99h-2M345.6 510.43h-2M345.6 508.17h-2M345.6 550.3h-3.4M352.9 550.3v3.6M364.4 550.3v3.6M375.7 550.3v3.6M387.3 550.3v3.6" fill="none" stroke="#8c8c8c" stroke-width="0.6"/>
<text x="339.3" y="464.9" font-size="8.2" text-anchor="end" fill="#231F20">10<tspan dy="-3.7" font-size="6">0</tspan></text>
<text x="339.3" y="509.05" font-size="8.2" text-anchor="end" fill="#231F20">10<tspan dy="-3.7" font-size="6">−1</tspan></text>
<text x="339.3" y="553.2" font-size="8.2" text-anchor="end" fill="#231F20">10<tspan dy="-3.7" font-size="6">−2</tspan></text>
<text transform="translate(306 506.15) rotate(-90)" font-size="9" text-anchor="middle" fill="#231F20">IFN-α2</text>
<text transform="translate(317.1 506.15) rotate(-90)" font-size="9" text-anchor="middle" fill="#231F20">(fg µg<tspan dy="-3.3" font-size="5.6">−1</tspan><tspan dy="3.3"> of total protein)</tspan></text>
<line x1="352.9" y1="480.4" x2="352.9" y2="518.7" stroke="#444" stroke-width="0.5"/>
<rect x="349.1" y="484" width="7.6" height="28.5" fill="#231F20" stroke="#231F20" stroke-width="0.4"/>
<line x1="364.4" y1="483.2" x2="364.4" y2="529.5" stroke="#444" stroke-width="0.5"/>
<rect x="360.6" y="497.8" width="7.6" height="22" fill="#24479D" stroke="#231F20" stroke-width="0.4"/>
<line x1="360.6" y1="508.3" x2="368.2" y2="508.3" stroke="#231F20" stroke-width="0.5"/>
<line x1="375.7" y1="503.2" x2="375.7" y2="539.2" stroke="#444" stroke-width="0.5"/>
<rect x="371.9" y="507.9" width="7.6" height="20" fill="#5F4B9E" stroke="#231F20" stroke-width="0.4"/>
<line x1="371.9" y1="517.9" x2="379.5" y2="517.9" stroke="#231F20" stroke-width="0.5"/>
<line x1="387.3" y1="499.7" x2="387.3" y2="531.3" stroke="#444" stroke-width="0.5"/>
<rect x="383.5" y="507.4" width="7.6" height="13.6" fill="#EE3530" stroke="#231F20" stroke-width="0.4"/>
<path d="M442 462V550.3H491.5" fill="none" stroke="#8c8c8c" stroke-width="0.6"/>
<path d="M442 462h-3.4M442 482.57h-2M442 477.39h-2M442 473.71h-2M442 470.86h-2M442 468.53h-2M442 466.56h-2M442 464.85h-2M442 463.35h-2M442 491.43h-3.4M442 512.01h-2M442 506.82h-2M442 503.15h-2M442 500.29h-2M442 497.96h-2M442 495.99h-2M442 494.29h-2M442 492.78h-2M442 520.87h-3.4M442 541.44h-2M442 536.26h-2M442 532.58h-2M442 529.73h-2M442 527.4h-2M442 525.43h-2M442 523.72h-2M442 522.21h-2M442 550.3h-3.4M449.8 550.3v3.6M461.4 550.3v3.6M472.6 550.3v3.6M484.2 550.3v3.6" fill="none" stroke="#8c8c8c" stroke-width="0.6"/>
<text x="435.7" y="464.9" font-size="8.2" text-anchor="end" fill="#231F20">10<tspan dy="-3.7" font-size="6">4</tspan></text>
<text x="435.7" y="494.33" font-size="8.2" text-anchor="end" fill="#231F20">10<tspan dy="-3.7" font-size="6">3</tspan></text>
<text x="435.7" y="523.77" font-size="8.2" text-anchor="end" fill="#231F20">10<tspan dy="-3.7" font-size="6">2</tspan></text>
<text x="435.7" y="553.2" font-size="8.2" text-anchor="end" fill="#231F20">10<tspan dy="-3.7" font-size="6">1</tspan></text>
<text transform="translate(406 506.15) rotate(-90)" font-size="9" text-anchor="middle" fill="#231F20">IFN-λ3</text>
<text transform="translate(417.1 506.15) rotate(-90)" font-size="9" text-anchor="middle" fill="#231F20">(fg µg<tspan dy="-3.3" font-size="5.6">−1</tspan><tspan dy="3.3"> of total protein)</tspan></text>
<line x1="449.8" y1="465.9" x2="449.8" y2="547.5" stroke="#444" stroke-width="0.5"/>
<rect x="446" y="482.9" width="7.6" height="25.4" fill="#231F20" stroke="#231F20" stroke-width="0.4"/>
<line x1="461.4" y1="485.2" x2="461.4" y2="548.8" stroke="#444" stroke-width="0.5"/>
<rect x="457.6" y="498.6" width="7.6" height="50.2" fill="#24479D" stroke="#231F20" stroke-width="0.4"/>
<line x1="457.6" y1="517.4" x2="465.2" y2="517.4" stroke="#231F20" stroke-width="0.5"/>
<line x1="472.6" y1="484.7" x2="472.6" y2="548.8" stroke="#444" stroke-width="0.5"/>
<rect x="468.8" y="493.2" width="7.6" height="55.6" fill="#5F4B9E" stroke="#231F20" stroke-width="0.4"/>
<line x1="468.8" y1="510.6" x2="476.4" y2="510.6" stroke="#231F20" stroke-width="0.5"/>
<line x1="484.2" y1="500.2" x2="484.2" y2="548.8" stroke="#444" stroke-width="0.5"/>
<rect x="480.4" y="508.6" width="7.6" height="40.2" fill="#EE3530" stroke="#231F20" stroke-width="0.4"/>
<line x1="480.4" y1="520.2" x2="488" y2="520.2" stroke="#231F20" stroke-width="0.5"/>
<path d="M539.7 462V550.3H588.8" fill="none" stroke="#8c8c8c" stroke-width="0.6"/>
<path d="M539.7 462h-3.4M539.7 477.43h-2M539.7 473.54h-2M539.7 470.78h-2M539.7 468.65h-2M539.7 466.9h-2M539.7 465.42h-2M539.7 464.14h-2M539.7 463.01h-2M539.7 484.07h-3.4M539.7 499.5h-2M539.7 495.62h-2M539.7 492.86h-2M539.7 490.72h-2M539.7 488.97h-2M539.7 487.49h-2M539.7 486.21h-2M539.7 485.09h-2M539.7 506.15h-3.4M539.7 521.58h-2M539.7 517.69h-2M539.7 514.93h-2M539.7 512.8h-2M539.7 511.05h-2M539.7 509.57h-2M539.7 508.29h-2M539.7 507.16h-2M539.7 528.22h-3.4M539.7 543.65h-2M539.7 539.77h-2M539.7 537.01h-2M539.7 534.87h-2M539.7 533.12h-2M539.7 531.64h-2M539.7 530.36h-2M539.7 529.24h-2M539.7 550.3h-3.4M547.4 550.3v3.6M559 550.3v3.6M570.2 550.3v3.6M581.8 550.3v3.6" fill="none" stroke="#8c8c8c" stroke-width="0.6"/>
<text x="533.4" y="464.9" font-size="8.2" text-anchor="end" fill="#231F20">10<tspan dy="-3.7" font-size="6">4</tspan></text>
<text x="533.4" y="486.97" font-size="8.2" text-anchor="end" fill="#231F20">10<tspan dy="-3.7" font-size="6">3</tspan></text>
<text x="533.4" y="509.05" font-size="8.2" text-anchor="end" fill="#231F20">10<tspan dy="-3.7" font-size="6">2</tspan></text>
<text x="533.4" y="531.12" font-size="8.2" text-anchor="end" fill="#231F20">10<tspan dy="-3.7" font-size="6">1</tspan></text>
<text x="533.4" y="553.2" font-size="8.2" text-anchor="end" fill="#231F20">10<tspan dy="-3.7" font-size="6">0</tspan></text>
<text transform="translate(502.5 506.15) rotate(-90)" font-size="9" text-anchor="middle" fill="#231F20">IL-33</text>
<text transform="translate(512.5 506.15) rotate(-90)" font-size="9" text-anchor="middle" fill="#231F20">(fg µg<tspan dy="-3.3" font-size="5.6">−1</tspan><tspan dy="3.3"> of total protein)</tspan></text>
<path d="M547.4 474.7V472.4H570.2V502.5" fill="none" stroke="#4a4a4a" stroke-width="0.5"/>
<text x="559.1" y="473.7" font-size="9.5" letter-spacing="0.8" text-anchor="middle" fill="#231F20">**</text>
<line x1="547.4" y1="477.8" x2="547.4" y2="523" stroke="#444" stroke-width="0.5"/>
<rect x="543.6" y="487.8" width="7.6" height="20.8" fill="#231F20" stroke="#231F20" stroke-width="0.4"/>
<line x1="559" y1="491.7" x2="559" y2="534.1" stroke="#444" stroke-width="0.5"/>
<rect x="555.2" y="504" width="7.6" height="30.1" fill="#24479D" stroke="#231F20" stroke-width="0.4"/>
<line x1="555.2" y1="517.9" x2="562.8" y2="517.9" stroke="#231F20" stroke-width="0.5"/>
<line x1="570.2" y1="506.3" x2="570.2" y2="533.6" stroke="#444" stroke-width="0.5"/>
<rect x="566.4" y="511" width="7.6" height="19.2" fill="#5F4B9E" stroke="#231F20" stroke-width="0.4"/>
<line x1="566.4" y1="521.3" x2="574" y2="521.3" stroke="#231F20" stroke-width="0.5"/>
<line x1="581.8" y1="475.2" x2="581.8" y2="533.3" stroke="#444" stroke-width="0.5"/>
<rect x="578" y="503.2" width="7.6" height="18.6" fill="#EE3530" stroke="#231F20" stroke-width="0.4"/>
<path d="M636.2 462V550.3H686" fill="none" stroke="#8c8c8c" stroke-width="0.6"/>
<path d="M636.2 462h-3.4M636.2 492.86h-2M636.2 485.09h-2M636.2 479.57h-2M636.2 475.29h-2M636.2 471.79h-2M636.2 468.84h-2M636.2 466.28h-2M636.2 464.02h-2M636.2 506.15h-3.4M636.2 537.01h-2M636.2 529.24h-2M636.2 523.72h-2M636.2 519.44h-2M636.2 515.94h-2M636.2 512.99h-2M636.2 510.43h-2M636.2 508.17h-2M636.2 550.3h-3.4M643.3 550.3v3.6M654.8 550.3v3.6M666.2 550.3v3.6M677.6 550.3v3.6" fill="none" stroke="#8c8c8c" stroke-width="0.6"/>
<text x="629.9" y="464.9" font-size="8.2" text-anchor="end" fill="#231F20">10<tspan dy="-3.7" font-size="6">3</tspan></text>
<text x="629.9" y="509.05" font-size="8.2" text-anchor="end" fill="#231F20">10<tspan dy="-3.7" font-size="6">2</tspan></text>
<text x="629.9" y="553.2" font-size="8.2" text-anchor="end" fill="#231F20">10<tspan dy="-3.7" font-size="6">1</tspan></text>
<text transform="translate(601.4 506.15) rotate(-90)" font-size="9" text-anchor="middle" fill="#231F20">IFN-β</text>
<text transform="translate(612.2 506.15) rotate(-90)" font-size="9" text-anchor="middle" fill="#231F20">(fg µg<tspan dy="-3.3" font-size="5.6">−1</tspan><tspan dy="3.3"> of total protein)</tspan></text>
<line x1="643.3" y1="493.7" x2="643.3" y2="545.7" stroke="#444" stroke-width="0.5"/>
<rect x="639.5" y="509.1" width="7.6" height="36.6" fill="#231F20" stroke="#231F20" stroke-width="0.4"/>
<line x1="654.8" y1="491.7" x2="654.8" y2="545.7" stroke="#444" stroke-width="0.5"/>
<rect x="651" y="514" width="7.6" height="31.7" fill="#24479D" stroke="#231F20" stroke-width="0.4"/>
<line x1="666.2" y1="525.2" x2="666.2" y2="546.2" stroke="#444" stroke-width="0.5"/>
<rect x="662.4" y="545.2" width="7.6" height="1" fill="#5F4B9E" stroke="#231F20" stroke-width="0.4"/>
<line x1="677.6" y1="512.2" x2="677.6" y2="546.2" stroke="#444" stroke-width="0.5"/>
<rect x="673.8" y="545.2" width="7.6" height="1" fill="#EE3530" stroke="#231F20" stroke-width="0.4"/>
<g fill="#fff" stroke="#231F20" stroke-width=".5"><circle cx="52.5" cy="161.6" r="1.45"/><circle cx="52.5" cy="192.8" r="1.45"/><circle cx="55.1" cy="163.15" r="1.45"/><circle cx="49.9" cy="163.19" r="1.45"/><circle cx="54.71" cy="162.76" r="1.45"/><circle cx="52.5" cy="164.46" r="1.45"/><circle cx="52.5" cy="172.52" r="1.45"/><circle cx="52.5" cy="169.56" r="1.45"/><circle cx="52.17" cy="164.21" r="1.45"/><circle cx="49.9" cy="172.03" r="1.45"/><circle cx="55.13" cy="163.85" r="1.45"/><circle cx="52.5" cy="181.59" r="1.45"/><circle cx="55.1" cy="180.6" r="1.45"/><circle cx="49.9" cy="180.61" r="1.45"/><circle cx="64.1" cy="163.6" r="1.45"/><circle cx="64.1" cy="193.3" r="1.45"/><circle cx="64.1" cy="167.95" r="1.45"/><circle cx="61.5" cy="167.03" r="1.45"/><circle cx="64.1" cy="176.62" r="1.45"/><circle cx="64.1" cy="180.22" r="1.45"/><circle cx="64.1" cy="173.53" r="1.45"/><circle cx="66.7" cy="178.07" r="1.45"/><circle cx="61.5" cy="176.87" r="1.45"/><circle cx="64.1" cy="183.96" r="1.45"/><circle cx="61.5" cy="182.8" r="1.45"/><circle cx="64.1" cy="188.57" r="1.45"/><circle cx="75.5" cy="167" r="1.45"/><circle cx="75.5" cy="201" r="1.45"/><circle cx="75.5" cy="169.75" r="1.45"/><circle cx="78.1" cy="169.47" r="1.45"/><circle cx="75.5" cy="173.67" r="1.45"/><circle cx="72.9" cy="170.16" r="1.45"/><circle cx="78.1" cy="175.8" r="1.45"/><circle cx="72.9" cy="175.12" r="1.45"/><circle cx="75.5" cy="186.84" r="1.45"/><circle cx="76.8" cy="198.68" r="1.45"/><circle cx="86.9" cy="164.3" r="1.45"/><circle cx="86.9" cy="187.4" r="1.45"/><circle cx="86.9" cy="171.99" r="1.45"/><circle cx="86.9" cy="167.29" r="1.45"/><circle cx="84.3" cy="164.46" r="1.45"/><circle cx="84.3" cy="171.22" r="1.45"/><circle cx="86.9" cy="177.42" r="1.45"/><circle cx="89.5" cy="172.96" r="1.45"/><circle cx="90.1" cy="173.14" r="1.45"/><circle cx="84.3" cy="175.84" r="1.45"/><circle cx="84.99" cy="174.97" r="1.45"/><circle cx="86.9" cy="181.28" r="1.45"/><circle cx="87.97" cy="173.81" r="1.45"/><circle cx="89.77" cy="172.26" r="1.45"/><circle cx="84.3" cy="186.81" r="1.45"/><circle cx="88.2" cy="183.82" r="1.45"/><circle cx="84.3" cy="183.21" r="1.45"/><circle cx="90.8" cy="183.87" r="1.45"/><circle cx="141.3" cy="188.6" r="1.45"/><circle cx="141.3" cy="214.9" r="1.45"/><circle cx="141.3" cy="192.48" r="1.45"/><circle cx="143.9" cy="192.49" r="1.45"/><circle cx="138.7" cy="193.44" r="1.45"/><circle cx="141.3" cy="198.11" r="1.45"/><circle cx="143.9" cy="197.5" r="1.45"/><circle cx="144.22" cy="193.41" r="1.45"/><circle cx="138.7" cy="197.62" r="1.45"/><circle cx="143.9" cy="213.96" r="1.45"/><circle cx="141.3" cy="203.3" r="1.45"/><circle cx="140.08" cy="199.4" r="1.45"/><circle cx="152.7" cy="186.3" r="1.45"/><circle cx="152.7" cy="196.7" r="1.45"/><circle cx="152.7" cy="189.66" r="1.45"/><circle cx="150.1" cy="189.53" r="1.45"/><circle cx="152.7" cy="193.18" r="1.45"/><circle cx="155.3" cy="190.6" r="1.45"/><circle cx="150.1" cy="192.33" r="1.45"/><circle cx="153.89" cy="191.14" r="1.45"/><circle cx="154.21" cy="191.25" r="1.45"/><circle cx="155.3" cy="195.24" r="1.45"/><circle cx="151.99" cy="194.35" r="1.45"/><circle cx="150.33" cy="194.48" r="1.45"/><circle cx="164" cy="183.2" r="1.45"/><circle cx="164" cy="193.6" r="1.45"/><circle cx="164" cy="188.63" r="1.45"/><circle cx="166.6" cy="188.29" r="1.45"/><circle cx="161.4" cy="189.98" r="1.45"/><circle cx="166.23" cy="189.61" r="1.45"/><circle cx="164.49" cy="189.93" r="1.45"/><circle cx="166.6" cy="192.42" r="1.45"/><circle cx="167.07" cy="191.7" r="1.45"/><circle cx="175.4" cy="158.9" r="1.45"/><circle cx="175.4" cy="194" r="1.45"/><circle cx="175.4" cy="178.48" r="1.45"/><circle cx="175.4" cy="171.65" r="1.45"/><circle cx="175.4" cy="185.18" r="1.45"/><circle cx="175.4" cy="168.69" r="1.45"/><circle cx="178" cy="185.59" r="1.45"/><circle cx="175.4" cy="190.2" r="1.45"/><circle cx="174.1" cy="187.83" r="1.45"/><circle cx="171.5" cy="187.17" r="1.45"/><circle cx="178" cy="188.41" r="1.45"/><circle cx="172.8" cy="190.57" r="1.45"/><circle cx="177.79" cy="186.75" r="1.45"/><circle cx="173.6" cy="185.95" r="1.45"/><circle cx="178" cy="191.44" r="1.45"/><circle cx="178.71" cy="191.04" r="1.45"/><circle cx="174.07" cy="191" r="1.45"/><circle cx="175.22" cy="191.01" r="1.45"/><circle cx="234.4" cy="192.8" r="1.45"/><circle cx="234.4" cy="216.7" r="1.45"/><circle cx="234.4" cy="201.7" r="1.45"/><circle cx="231.8" cy="202.92" r="1.45"/><circle cx="237" cy="201.69" r="1.45"/><circle cx="234.57" cy="203.05" r="1.45"/><circle cx="233.1" cy="205.54" r="1.45"/><circle cx="235.68" cy="203.86" r="1.45"/><circle cx="235.7" cy="206.84" r="1.45"/><circle cx="236.75" cy="203.4" r="1.45"/><circle cx="235.66" cy="203.22" r="1.45"/><circle cx="234.4" cy="212.72" r="1.45"/><circle cx="231.8" cy="212.65" r="1.45"/><circle cx="237" cy="213.42" r="1.45"/><circle cx="246.3" cy="184.3" r="1.45"/><circle cx="246.3" cy="211.3" r="1.45"/><circle cx="246.3" cy="198.47" r="1.45"/><circle cx="248.9" cy="198.69" r="1.45"/><circle cx="243.7" cy="199.79" r="1.45"/><circle cx="246.3" cy="201.69" r="1.45"/><circle cx="249.06" cy="199.54" r="1.45"/><circle cx="242.92" cy="201.73" r="1.45"/><circle cx="248.9" cy="202.7" r="1.45"/><circle cx="249.42" cy="203.82" r="1.45"/><circle cx="246.47" cy="203.28" r="1.45"/><circle cx="246.36" cy="203.73" r="1.45"/><circle cx="257.5" cy="183" r="1.45"/><circle cx="257.5" cy="201.5" r="1.45"/><circle cx="257.5" cy="186.12" r="1.45"/><circle cx="257.5" cy="189.72" r="1.45"/><circle cx="257.5" cy="194.55" r="1.45"/><circle cx="257.5" cy="198.15" r="1.45"/><circle cx="260.1" cy="195.93" r="1.45"/><circle cx="254.9" cy="193.43" r="1.45"/><circle cx="260.1" cy="193.32" r="1.45"/><circle cx="260.1" cy="199.03" r="1.45"/><circle cx="254.9" cy="198.96" r="1.45"/><circle cx="269.1" cy="158" r="1.45"/><circle cx="269.1" cy="210.2" r="1.45"/><circle cx="269.1" cy="171.33" r="1.45"/><circle cx="269.1" cy="162.23" r="1.45"/><circle cx="271.7" cy="160.98" r="1.45"/><circle cx="271.7" cy="172.85" r="1.45"/><circle cx="271.7" cy="169.17" r="1.45"/><circle cx="269.1" cy="176.87" r="1.45"/><circle cx="269.1" cy="191.62" r="1.45"/><circle cx="269.1" cy="185.54" r="1.45"/><circle cx="271.7" cy="192.06" r="1.45"/><circle cx="266.5" cy="189.72" r="1.45"/><circle cx="269.1" cy="181.98" r="1.45"/><circle cx="266.5" cy="176.86" r="1.45"/><circle cx="269.1" cy="195.82" r="1.45"/><circle cx="271.7" cy="178.55" r="1.45"/><circle cx="271.7" cy="186" r="1.45"/><circle cx="266.5" cy="197.92" r="1.45"/><circle cx="271.7" cy="197.74" r="1.45"/><circle cx="269.1" cy="202.57" r="1.45"/><circle cx="266.5" cy="209.31" r="1.45"/><circle cx="265.88" cy="197.63" r="1.45"/><circle cx="324.4" cy="179.4" r="1.45"/><circle cx="324.4" cy="224.4" r="1.45"/><circle cx="324.4" cy="192.22" r="1.45"/><circle cx="324.4" cy="203.69" r="1.45"/><circle cx="324.4" cy="213.2" r="1.45"/><circle cx="324.4" cy="210.46" r="1.45"/><circle cx="324.4" cy="207.04" r="1.45"/><circle cx="327" cy="205.28" r="1.45"/><circle cx="321.8" cy="206.52" r="1.45"/><circle cx="324.4" cy="216.68" r="1.45"/><circle cx="321.8" cy="217.55" r="1.45"/><circle cx="327" cy="214.01" r="1.45"/><circle cx="335.6" cy="184" r="1.45"/><circle cx="335.6" cy="214.6" r="1.45"/><circle cx="335.6" cy="193.7" r="1.45"/><circle cx="335.6" cy="188.49" r="1.45"/><circle cx="333" cy="195.55" r="1.45"/><circle cx="338.2" cy="195.48" r="1.45"/><circle cx="335.6" cy="199.1" r="1.45"/><circle cx="334.72" cy="195.98" r="1.45"/><circle cx="338.2" cy="200.38" r="1.45"/><circle cx="335.6" cy="202.39" r="1.45"/><circle cx="333" cy="200.79" r="1.45"/><circle cx="347.1" cy="162.7" r="1.45"/><circle cx="347.1" cy="204.5" r="1.45"/><circle cx="347.1" cy="188.95" r="1.45"/><circle cx="347.1" cy="174.95" r="1.45"/><circle cx="347.1" cy="194.64" r="1.45"/><circle cx="349.7" cy="192.54" r="1.45"/><circle cx="344.5" cy="190.47" r="1.45"/><circle cx="349.7" cy="196.54" r="1.45"/><circle cx="344.5" cy="196.06" r="1.45"/><circle cx="358.5" cy="157.8" r="1.45"/><circle cx="358.5" cy="204.5" r="1.45"/><circle cx="358.5" cy="161.4" r="1.45"/><circle cx="358.5" cy="180.2" r="1.45"/><circle cx="355.9" cy="179.91" r="1.45"/><circle cx="358.5" cy="185.66" r="1.45"/><circle cx="358.5" cy="191.2" r="1.45"/><circle cx="355.9" cy="191.17" r="1.45"/><circle cx="361.1" cy="184.64" r="1.45"/><circle cx="357.2" cy="183.09" r="1.45"/><circle cx="354.6" cy="185.14" r="1.45"/><circle cx="360.17" cy="185.87" r="1.45"/><circle cx="359.8" cy="201.93" r="1.45"/><circle cx="361.1" cy="191.78" r="1.45"/><circle cx="358.5" cy="198.32" r="1.45"/><circle cx="361.1" cy="196.86" r="1.45"/><circle cx="414.1" cy="185.9" r="1.45"/><circle cx="414.1" cy="213.5" r="1.45"/><circle cx="411.5" cy="187.63" r="1.45"/><circle cx="416.7" cy="185.96" r="1.45"/><circle cx="415.4" cy="188.3" r="1.45"/><circle cx="414.1" cy="191.77" r="1.45"/><circle cx="412.8" cy="194.28" r="1.45"/><circle cx="415.4" cy="194.44" r="1.45"/><circle cx="410.2" cy="194.97" r="1.45"/><circle cx="418" cy="188.59" r="1.45"/><circle cx="418" cy="196.05" r="1.45"/><circle cx="413.47" cy="195.63" r="1.45"/><circle cx="412.79" cy="195.72" r="1.45"/><circle cx="425.5" cy="184" r="1.45"/><circle cx="425.5" cy="201.5" r="1.45"/><circle cx="425.5" cy="188.17" r="1.45"/><circle cx="428.1" cy="188.87" r="1.45"/><circle cx="422.9" cy="188.73" r="1.45"/><circle cx="425.5" cy="193.33" r="1.45"/><circle cx="428.1" cy="193.98" r="1.45"/><circle cx="428.6" cy="190.88" r="1.45"/><circle cx="428.48" cy="190.07" r="1.45"/><circle cx="422.9" cy="192.67" r="1.45"/><circle cx="423.55" cy="194.06" r="1.45"/><circle cx="423.28" cy="194" r="1.45"/><circle cx="428.1" cy="199.5" r="1.45"/><circle cx="436.8" cy="167.5" r="1.45"/><circle cx="436.8" cy="192.8" r="1.45"/><circle cx="436.8" cy="175.52" r="1.45"/><circle cx="439.4" cy="175.98" r="1.45"/><circle cx="436.8" cy="179.11" r="1.45"/><circle cx="436.8" cy="185.13" r="1.45"/><circle cx="439.4" cy="187.31" r="1.45"/><circle cx="434.2" cy="176.52" r="1.45"/><circle cx="439.4" cy="183.09" r="1.45"/><circle cx="438.1" cy="190.43" r="1.45"/><circle cx="435.5" cy="188.6" r="1.45"/><circle cx="448.5" cy="157.8" r="1.45"/><circle cx="448.5" cy="197.9" r="1.45"/><circle cx="448.5" cy="173.7" r="1.45"/><circle cx="451.1" cy="171.67" r="1.45"/><circle cx="445.9" cy="172.84" r="1.45"/><circle cx="445.9" cy="160.03" r="1.45"/><circle cx="449.45" cy="173.66" r="1.45"/><circle cx="448.5" cy="189.81" r="1.45"/><circle cx="448.5" cy="192.43" r="1.45"/><circle cx="447.2" cy="187.46" r="1.45"/><circle cx="451.1" cy="189.02" r="1.45"/><circle cx="448.5" cy="177.34" r="1.45"/><circle cx="451.1" cy="192.16" r="1.45"/><circle cx="448.5" cy="182.95" r="1.45"/><circle cx="445.9" cy="191.68" r="1.45"/><circle cx="445.24" cy="190.92" r="1.45"/><circle cx="445.9" cy="176.8" r="1.45"/><circle cx="448.5" cy="195.15" r="1.45"/><circle cx="445.9" cy="196.85" r="1.45"/><circle cx="447.5" cy="192.5" r="1.45"/><circle cx="446.43" cy="192.73" r="1.45"/><circle cx="451.1" cy="194.83" r="1.45"/><circle cx="503.6" cy="196.4" r="1.45"/><circle cx="503.6" cy="228" r="1.45"/><circle cx="501" cy="197.72" r="1.45"/><circle cx="503.6" cy="203.69" r="1.45"/><circle cx="501" cy="203.78" r="1.45"/><circle cx="506.2" cy="204.24" r="1.45"/><circle cx="503.6" cy="206.74" r="1.45"/><circle cx="501" cy="207.81" r="1.45"/><circle cx="506.2" cy="207.4" r="1.45"/><circle cx="500.14" cy="205.65" r="1.45"/><circle cx="505.29" cy="208.76" r="1.45"/><circle cx="501.73" cy="208.4" r="1.45"/><circle cx="503.6" cy="213.66" r="1.45"/><circle cx="514.9" cy="160.1" r="1.45"/><circle cx="514.9" cy="201.3" r="1.45"/><circle cx="514.9" cy="167.27" r="1.45"/><circle cx="514.9" cy="164.38" r="1.45"/><circle cx="512.3" cy="167.01" r="1.45"/><circle cx="514.9" cy="177.87" r="1.45"/><circle cx="514.9" cy="185.41" r="1.45"/><circle cx="514.9" cy="182.32" r="1.45"/><circle cx="514.9" cy="191.56" r="1.45"/><circle cx="517.5" cy="184.61" r="1.45"/><circle cx="517.5" cy="177.85" r="1.45"/><circle cx="516.2" cy="187.72" r="1.45"/><circle cx="512.3" cy="200.88" r="1.45"/><circle cx="514.9" cy="197.14" r="1.45"/><circle cx="517.5" cy="199.96" r="1.45"/><circle cx="526.3" cy="153.1" r="1.45"/><circle cx="526.3" cy="191.3" r="1.45"/><circle cx="526.3" cy="161.6" r="1.45"/><circle cx="526.3" cy="156.05" r="1.45"/><circle cx="526.3" cy="175.04" r="1.45"/><circle cx="528.9" cy="175.48" r="1.45"/><circle cx="523.7" cy="163.17" r="1.45"/><circle cx="526.3" cy="164.62" r="1.45"/><circle cx="528.9" cy="163.25" r="1.45"/><circle cx="523.7" cy="176.3" r="1.45"/><circle cx="526.3" cy="185.44" r="1.45"/><circle cx="537.6" cy="145.9" r="1.45"/><circle cx="537.6" cy="186.3" r="1.45"/><circle cx="537.6" cy="158.9" r="1.45"/><circle cx="535" cy="158.79" r="1.45"/><circle cx="537.6" cy="153.14" r="1.45"/><circle cx="540.2" cy="146.74" r="1.45"/><circle cx="540.2" cy="158.9" r="1.45"/><circle cx="537.6" cy="166.7" r="1.45"/><circle cx="540.2" cy="166.71" r="1.45"/><circle cx="537.6" cy="171.57" r="1.45"/><circle cx="537.6" cy="161.83" r="1.45"/><circle cx="535" cy="166.76" r="1.45"/><circle cx="536.3" cy="164.42" r="1.45"/><circle cx="535" cy="172.13" r="1.45"/><circle cx="540.2" cy="163.04" r="1.45"/><circle cx="538.9" cy="173.91" r="1.45"/><circle cx="533.7" cy="163.41" r="1.45"/><circle cx="536.3" cy="174.91" r="1.45"/><circle cx="537.6" cy="178.74" r="1.45"/><circle cx="540.2" cy="176.22" r="1.45"/><circle cx="533.7" cy="174.82" r="1.45"/><circle cx="535" cy="177.77" r="1.45"/><circle cx="594.4" cy="193" r="1.45"/><circle cx="594.4" cy="221.4" r="1.45"/><circle cx="594.4" cy="204.05" r="1.45"/><circle cx="594.4" cy="198.96" r="1.45"/><circle cx="597" cy="200.87" r="1.45"/><circle cx="594.4" cy="210.21" r="1.45"/><circle cx="591.8" cy="211.63" r="1.45"/><circle cx="597" cy="209.8" r="1.45"/><circle cx="595.7" cy="206.33" r="1.45"/><circle cx="593.62" cy="211.32" r="1.45"/><circle cx="594.4" cy="215.98" r="1.45"/><circle cx="597" cy="217.96" r="1.45"/><circle cx="591.8" cy="219.94" r="1.45"/><circle cx="606.3" cy="179.8" r="1.45"/><circle cx="606.3" cy="216.9" r="1.45"/><circle cx="608.9" cy="180.69" r="1.45"/><circle cx="603.7" cy="180.73" r="1.45"/><circle cx="609.38" cy="180.49" r="1.45"/><circle cx="606.3" cy="187.87" r="1.45"/><circle cx="608.9" cy="189.59" r="1.45"/><circle cx="606.3" cy="192.17" r="1.45"/><circle cx="603.7" cy="187.99" r="1.45"/><circle cx="608.9" cy="186.48" r="1.45"/><circle cx="603.7" cy="193.79" r="1.45"/><circle cx="607.6" cy="194.71" r="1.45"/><circle cx="606.3" cy="201.68" r="1.45"/><circle cx="610.2" cy="195.85" r="1.45"/><circle cx="617.5" cy="166.6" r="1.45"/><circle cx="617.5" cy="191.4" r="1.45"/><circle cx="617.5" cy="171.03" r="1.45"/><circle cx="614.9" cy="171.37" r="1.45"/><circle cx="620.1" cy="171.42" r="1.45"/><circle cx="617.5" cy="177.17" r="1.45"/><circle cx="617.5" cy="173.65" r="1.45"/><circle cx="619.54" cy="173.36" r="1.45"/><circle cx="613.6" cy="173.81" r="1.45"/><circle cx="617.5" cy="180.72" r="1.45"/><circle cx="614.9" cy="180.34" r="1.45"/><circle cx="628.8" cy="161.3" r="1.45"/><circle cx="628.8" cy="191.7" r="1.45"/><circle cx="628.8" cy="164.64" r="1.45"/><circle cx="626.2" cy="165.55" r="1.45"/><circle cx="631.4" cy="164.26" r="1.45"/><circle cx="625.54" cy="165.88" r="1.45"/><circle cx="626.2" cy="162.86" r="1.45"/><circle cx="628.8" cy="173.74" r="1.45"/><circle cx="628.8" cy="169.84" r="1.45"/><circle cx="631.4" cy="169.44" r="1.45"/><circle cx="628.13" cy="168.17" r="1.45"/><circle cx="631.4" cy="172.91" r="1.45"/><circle cx="632.7" cy="167.08" r="1.45"/><circle cx="626.2" cy="172.56" r="1.45"/><circle cx="625.58" cy="168.24" r="1.45"/><circle cx="625.65" cy="172.88" r="1.45"/><circle cx="631.75" cy="172.98" r="1.45"/><circle cx="628.8" cy="181.58" r="1.45"/><circle cx="628.8" cy="187.41" r="1.45"/><circle cx="626.2" cy="179.7" r="1.45"/><circle cx="631.4" cy="186.83" r="1.45"/><circle cx="631.4" cy="180.93" r="1.45"/><circle cx="52.4" cy="307.4" r="1.45"/><circle cx="52.4" cy="329.8" r="1.45"/><circle cx="52.4" cy="311.97" r="1.45"/><circle cx="49.8" cy="312" r="1.45"/><circle cx="55" cy="309.86" r="1.45"/><circle cx="52.4" cy="319.5" r="1.45"/><circle cx="55" cy="317.38" r="1.45"/><circle cx="52.4" cy="315.02" r="1.45"/><circle cx="49.8" cy="318.75" r="1.45"/><circle cx="49.8" cy="318.45" r="1.45"/><circle cx="54.03" cy="316.61" r="1.45"/><circle cx="55" cy="320.36" r="1.45"/><circle cx="49.49" cy="320.46" r="1.45"/><circle cx="55.43" cy="320.92" r="1.45"/><circle cx="63.6" cy="286.6" r="1.45"/><circle cx="63.6" cy="319" r="1.45"/><circle cx="63.6" cy="294.17" r="1.45"/><circle cx="61" cy="287.4" r="1.45"/><circle cx="63.6" cy="291.46" r="1.45"/><circle cx="61" cy="294.51" r="1.45"/><circle cx="66.2" cy="294.57" r="1.45"/><circle cx="63.6" cy="306.34" r="1.45"/><circle cx="63.6" cy="309.42" r="1.45"/><circle cx="66.32" cy="295.77" r="1.45"/><circle cx="63.6" cy="312.99" r="1.45"/><circle cx="61" cy="315.21" r="1.45"/><circle cx="66.2" cy="312.83" r="1.45"/><circle cx="75.2" cy="284.6" r="1.45"/><circle cx="75.2" cy="314.7" r="1.45"/><circle cx="75.2" cy="290.51" r="1.45"/><circle cx="73.9" cy="287.98" r="1.45"/><circle cx="75.2" cy="304.34" r="1.45"/><circle cx="77.8" cy="292.59" r="1.45"/><circle cx="77.8" cy="303.58" r="1.45"/><circle cx="72.6" cy="303.28" r="1.45"/><circle cx="75.35" cy="304.05" r="1.45"/><circle cx="75.2" cy="307.55" r="1.45"/><circle cx="72.6" cy="306.08" r="1.45"/><circle cx="86.8" cy="279.6" r="1.45"/><circle cx="86.8" cy="341.4" r="1.45"/><circle cx="86.8" cy="292.55" r="1.45"/><circle cx="84.2" cy="290.75" r="1.45"/><circle cx="89.4" cy="292.31" r="1.45"/><circle cx="86.8" cy="295.79" r="1.45"/><circle cx="84.2" cy="293.95" r="1.45"/><circle cx="89.67" cy="293.42" r="1.45"/><circle cx="88.1" cy="298.19" r="1.45"/><circle cx="87.25" cy="295.07" r="1.45"/><circle cx="86.05" cy="293.73" r="1.45"/><circle cx="82.9" cy="296.36" r="1.45"/><circle cx="86.8" cy="319.29" r="1.45"/><circle cx="85.5" cy="298.36" r="1.45"/><circle cx="86.8" cy="307.4" r="1.45"/><circle cx="82.9" cy="299.97" r="1.45"/><circle cx="142.8" cy="285.5" r="1.45"/><circle cx="142.8" cy="316.7" r="1.45"/><circle cx="145.4" cy="286.05" r="1.45"/><circle cx="142.8" cy="298.2" r="1.45"/><circle cx="142.8" cy="300.88" r="1.45"/><circle cx="142.8" cy="312.17" r="1.45"/><circle cx="145.4" cy="315.58" r="1.45"/><circle cx="140.2" cy="310.72" r="1.45"/><circle cx="142.8" cy="303.73" r="1.45"/><circle cx="138.9" cy="316.7" r="1.45"/><circle cx="143.17" cy="316.7" r="1.45"/><circle cx="154.4" cy="287" r="1.45"/><circle cx="154.4" cy="315.4" r="1.45"/><circle cx="154.4" cy="291.19" r="1.45"/><circle cx="151.8" cy="288.43" r="1.45"/><circle cx="157" cy="291.12" r="1.45"/><circle cx="154.4" cy="298.65" r="1.45"/><circle cx="154.4" cy="294.02" r="1.45"/><circle cx="157" cy="296.11" r="1.45"/><circle cx="154.4" cy="306.4" r="1.45"/><circle cx="151.8" cy="297.25" r="1.45"/><circle cx="151.8" cy="294.24" r="1.45"/><circle cx="151.8" cy="300.09" r="1.45"/><circle cx="154.4" cy="309.5" r="1.45"/><circle cx="157" cy="313.79" r="1.45"/><circle cx="151.8" cy="309.31" r="1.45"/><circle cx="165.7" cy="289.4" r="1.45"/><circle cx="165.7" cy="314.4" r="1.45"/><circle cx="165.7" cy="292.38" r="1.45"/><circle cx="163.1" cy="294.53" r="1.45"/><circle cx="165.7" cy="296.69" r="1.45"/><circle cx="168.3" cy="296.09" r="1.45"/><circle cx="164.4" cy="299.02" r="1.45"/><circle cx="161.8" cy="297.6" r="1.45"/><circle cx="167" cy="298.98" r="1.45"/><circle cx="161.8" cy="300.2" r="1.45"/><circle cx="165.7" cy="307.76" r="1.45"/><circle cx="177.3" cy="280.4" r="1.45"/><circle cx="177.3" cy="315.1" r="1.45"/><circle cx="177.3" cy="286.31" r="1.45"/><circle cx="179.9" cy="287.4" r="1.45"/><circle cx="174.7" cy="281.06" r="1.45"/><circle cx="174.7" cy="287.32" r="1.45"/><circle cx="177.3" cy="289.08" r="1.45"/><circle cx="176.57" cy="288.34" r="1.45"/><circle cx="181.2" cy="289.7" r="1.45"/><circle cx="177.3" cy="294.92" r="1.45"/><circle cx="179.51" cy="287.68" r="1.45"/><circle cx="180.51" cy="288.29" r="1.45"/><circle cx="179.9" cy="293.83" r="1.45"/><circle cx="174.28" cy="289.19" r="1.45"/><circle cx="174.7" cy="296.6" r="1.45"/><circle cx="177.3" cy="300.58" r="1.45"/><circle cx="174.7" cy="300.14" r="1.45"/><circle cx="179.9" cy="299.25" r="1.45"/><circle cx="232.8" cy="296.2" r="1.45"/><circle cx="232.8" cy="327.6" r="1.45"/><circle cx="232.8" cy="304.15" r="1.45"/><circle cx="232.8" cy="306.8" r="1.45"/><circle cx="235.4" cy="303.63" r="1.45"/><circle cx="232.8" cy="310.17" r="1.45"/><circle cx="232.8" cy="313.29" r="1.45"/><circle cx="232.8" cy="317.72" r="1.45"/><circle cx="235.4" cy="314.21" r="1.45"/><circle cx="235.4" cy="309.91" r="1.45"/><circle cx="235.4" cy="319.87" r="1.45"/><circle cx="230.2" cy="319.33" r="1.45"/><circle cx="230.2" cy="326.34" r="1.45"/><circle cx="244.4" cy="274.6" r="1.45"/><circle cx="244.4" cy="314.5" r="1.45"/><circle cx="244.4" cy="284.86" r="1.45"/><circle cx="241.8" cy="285.53" r="1.45"/><circle cx="247" cy="286.71" r="1.45"/><circle cx="244.4" cy="308.33" r="1.45"/><circle cx="244.4" cy="293.38" r="1.45"/><circle cx="244.4" cy="303.68" r="1.45"/><circle cx="244.4" cy="290.43" r="1.45"/><circle cx="241.8" cy="288.44" r="1.45"/><circle cx="241.8" cy="312.5" r="1.45"/><circle cx="247" cy="309.1" r="1.45"/><circle cx="241.8" cy="308.6" r="1.45"/><circle cx="255.7" cy="267.7" r="1.45"/><circle cx="255.7" cy="305" r="1.45"/><circle cx="255.7" cy="276.45" r="1.45"/><circle cx="253.1" cy="275.41" r="1.45"/><circle cx="255.7" cy="285.57" r="1.45"/><circle cx="253.1" cy="284.18" r="1.45"/><circle cx="255.7" cy="294.55" r="1.45"/><circle cx="253.1" cy="295.95" r="1.45"/><circle cx="255.7" cy="300.01" r="1.45"/><circle cx="258.3" cy="299.8" r="1.45"/><circle cx="267.3" cy="263.1" r="1.45"/><circle cx="267.3" cy="303.2" r="1.45"/><circle cx="267.3" cy="270" r="1.45"/><circle cx="264.7" cy="271.65" r="1.45"/><circle cx="267.3" cy="273.09" r="1.45"/><circle cx="269.9" cy="272.58" r="1.45"/><circle cx="269.31" cy="272.46" r="1.45"/><circle cx="267.3" cy="281.35" r="1.45"/><circle cx="264.7" cy="281.54" r="1.45"/><circle cx="267.3" cy="286.03" r="1.45"/><circle cx="269.9" cy="287.28" r="1.45"/><circle cx="269.9" cy="280.25" r="1.45"/><circle cx="269.12" cy="279.57" r="1.45"/><circle cx="267.46" cy="282.28" r="1.45"/><circle cx="264.7" cy="287.74" r="1.45"/><circle cx="266" cy="278.15" r="1.45"/><circle cx="264.99" cy="280.89" r="1.45"/><circle cx="267.3" cy="296.16" r="1.45"/><circle cx="266.5" cy="287.88" r="1.45"/><circle cx="270.52" cy="288.3" r="1.45"/><circle cx="264.7" cy="302.22" r="1.45"/><circle cx="264.7" cy="296.48" r="1.45"/><circle cx="322.4" cy="296.2" r="1.45"/><circle cx="322.4" cy="324.6" r="1.45"/><circle cx="319.8" cy="324.6" r="1.45"/><circle cx="325" cy="324.6" r="1.45"/><circle cx="333.6" cy="285.4" r="1.45"/><circle cx="333.6" cy="325.1" r="1.45"/><circle cx="333.6" cy="306.36" r="1.45"/><circle cx="334.9" cy="322.84" r="1.45"/><circle cx="333.6" cy="315.77" r="1.45"/><circle cx="332.3" cy="321.35" r="1.45"/><circle cx="336.2" cy="325.1" r="1.45"/><circle cx="331" cy="325.1" r="1.45"/><circle cx="345.2" cy="290.4" r="1.45"/><circle cx="345.2" cy="325.1" r="1.45"/><circle cx="345.2" cy="294.91" r="1.45"/><circle cx="345.2" cy="304.25" r="1.45"/><circle cx="345.2" cy="311.8" r="1.45"/><circle cx="345.2" cy="321.19" r="1.45"/><circle cx="347.8" cy="325.1" r="1.45"/><circle cx="342.6" cy="325.1" r="1.45"/><circle cx="356.8" cy="288.8" r="1.45"/><circle cx="356.8" cy="324" r="1.45"/><circle cx="356.8" cy="297.66" r="1.45"/><circle cx="354.2" cy="295.53" r="1.45"/><circle cx="359.4" cy="296.48" r="1.45"/><circle cx="356.8" cy="303.27" r="1.45"/><circle cx="354.2" cy="304.56" r="1.45"/><circle cx="354.2" cy="299.6" r="1.45"/><circle cx="359.4" cy="301.09" r="1.45"/><circle cx="356.8" cy="312.07" r="1.45"/><circle cx="360.7" cy="303.43" r="1.45"/><circle cx="356.8" cy="309" r="1.45"/><circle cx="358.1" cy="314.51" r="1.45"/><circle cx="355.5" cy="316.19" r="1.45"/><circle cx="360.7" cy="314.95" r="1.45"/><circle cx="352.9" cy="315.69" r="1.45"/><circle cx="412.1" cy="292.7" r="1.45"/><circle cx="412.1" cy="343.3" r="1.45"/><circle cx="409.5" cy="294.17" r="1.45"/><circle cx="414.7" cy="294.56" r="1.45"/><circle cx="412.1" cy="300.07" r="1.45"/><circle cx="412.1" cy="296.78" r="1.45"/><circle cx="412.1" cy="307.73" r="1.45"/><circle cx="412.1" cy="304.4" r="1.45"/><circle cx="409.5" cy="296.84" r="1.45"/><circle cx="410.8" cy="310.19" r="1.45"/><circle cx="414.7" cy="309.75" r="1.45"/><circle cx="412.1" cy="326.36" r="1.45"/><circle cx="423.6" cy="279.3" r="1.45"/><circle cx="423.6" cy="307.5" r="1.45"/><circle cx="423.6" cy="284.97" r="1.45"/><circle cx="421" cy="285.35" r="1.45"/><circle cx="426.2" cy="285.22" r="1.45"/><circle cx="421.48" cy="287.34" r="1.45"/><circle cx="423.6" cy="295.44" r="1.45"/><circle cx="426.2" cy="294.92" r="1.45"/><circle cx="424.9" cy="288.78" r="1.45"/><circle cx="427.5" cy="288.83" r="1.45"/><circle cx="423.6" cy="292.72" r="1.45"/><circle cx="426.2" cy="291.72" r="1.45"/><circle cx="421" cy="306.07" r="1.45"/><circle cx="423.6" cy="299.94" r="1.45"/><circle cx="421" cy="299.81" r="1.45"/><circle cx="424.9" cy="305.07" r="1.45"/><circle cx="435.2" cy="271.2" r="1.45"/><circle cx="435.2" cy="313.2" r="1.45"/><circle cx="435.2" cy="275.38" r="1.45"/><circle cx="437.8" cy="274.38" r="1.45"/><circle cx="435.2" cy="283.98" r="1.45"/><circle cx="432.6" cy="282.12" r="1.45"/><circle cx="435.2" cy="289.72" r="1.45"/><circle cx="435.2" cy="293.21" r="1.45"/><circle cx="437.8" cy="294.57" r="1.45"/><circle cx="435.2" cy="295.88" r="1.45"/><circle cx="435.2" cy="304.2" r="1.45"/><circle cx="446.5" cy="264.6" r="1.45"/><circle cx="446.5" cy="317.4" r="1.45"/><circle cx="446.5" cy="286.2" r="1.45"/><circle cx="446.5" cy="273.36" r="1.45"/><circle cx="449.1" cy="272.68" r="1.45"/><circle cx="445.2" cy="275.67" r="1.45"/><circle cx="449.1" cy="284.54" r="1.45"/><circle cx="446.5" cy="289.91" r="1.45"/><circle cx="446.5" cy="294.87" r="1.45"/><circle cx="443.9" cy="292.94" r="1.45"/><circle cx="449.1" cy="291.72" r="1.45"/><circle cx="442.6" cy="290.64" r="1.45"/><circle cx="444.77" cy="291.95" r="1.45"/><circle cx="449.1" cy="294.93" r="1.45"/><circle cx="443.9" cy="297.02" r="1.45"/><circle cx="446.5" cy="298.04" r="1.45"/><circle cx="449.1" cy="288.35" r="1.45"/><circle cx="449.1" cy="299.77" r="1.45"/><circle cx="446.5" cy="300.88" r="1.45"/><circle cx="443.9" cy="302.54" r="1.45"/><circle cx="442.6" cy="300.06" r="1.45"/><circle cx="448.42" cy="299.44" r="1.45"/><circle cx="501.8" cy="303.2" r="1.45"/><circle cx="501.8" cy="318.3" r="1.45"/><circle cx="501.8" cy="309.38" r="1.45"/><circle cx="501.8" cy="306.5" r="1.45"/><circle cx="499.2" cy="309.91" r="1.45"/><circle cx="504.4" cy="311.51" r="1.45"/><circle cx="501.8" cy="312.71" r="1.45"/><circle cx="499.2" cy="318.3" r="1.45"/><circle cx="504.4" cy="318.3" r="1.45"/><circle cx="513.3" cy="276.6" r="1.45"/><circle cx="513.3" cy="317.1" r="1.45"/><circle cx="513.3" cy="280.25" r="1.45"/><circle cx="513.3" cy="288.78" r="1.45"/><circle cx="513.3" cy="297.36" r="1.45"/><circle cx="510.7" cy="296.6" r="1.45"/><circle cx="512" cy="299.74" r="1.45"/><circle cx="513.3" cy="304.59" r="1.45"/><circle cx="514.6" cy="301.41" r="1.45"/><circle cx="510.7" cy="306.62" r="1.45"/><circle cx="515.9" cy="306.6" r="1.45"/><circle cx="524.8" cy="274.6" r="1.45"/><circle cx="524.8" cy="317.1" r="1.45"/><circle cx="524.8" cy="278.71" r="1.45"/><circle cx="524.8" cy="286.05" r="1.45"/><circle cx="524.8" cy="289.43" r="1.45"/><circle cx="522.2" cy="290.68" r="1.45"/><circle cx="524.8" cy="292.57" r="1.45"/><circle cx="524.8" cy="300.76" r="1.45"/><circle cx="522.2" cy="302.4" r="1.45"/><circle cx="536.2" cy="273.1" r="1.45"/><circle cx="536.2" cy="317.1" r="1.45"/><circle cx="536.2" cy="290.11" r="1.45"/><circle cx="536.2" cy="281.75" r="1.45"/><circle cx="536.2" cy="278.93" r="1.45"/><circle cx="536.2" cy="276.11" r="1.45"/><circle cx="536.2" cy="300.17" r="1.45"/><circle cx="536.2" cy="294.82" r="1.45"/><circle cx="533.6" cy="301.34" r="1.45"/><circle cx="538.8" cy="301" r="1.45"/><circle cx="534.9" cy="297.73" r="1.45"/><circle cx="532.86" cy="299.52" r="1.45"/><circle cx="538.8" cy="295.48" r="1.45"/><circle cx="538.8" cy="298.32" r="1.45"/><circle cx="536.2" cy="305.53" r="1.45"/><circle cx="533.6" cy="304.7" r="1.45"/><circle cx="538.8" cy="305.18" r="1.45"/><circle cx="534.02" cy="305.12" r="1.45"/><circle cx="50.2" cy="502.2" r="1.45"/><circle cx="50.2" cy="535.1" r="1.45"/><circle cx="47.6" cy="535.1" r="1.45"/><circle cx="52.8" cy="535.1" r="1.45"/><circle cx="61.7" cy="504.5" r="1.45"/><circle cx="61.7" cy="534.6" r="1.45"/><circle cx="61.7" cy="511.65" r="1.45"/><circle cx="64.3" cy="513.22" r="1.45"/><circle cx="61.7" cy="526.23" r="1.45"/><circle cx="61.7" cy="519.69" r="1.45"/><circle cx="59.1" cy="534.6" r="1.45"/><circle cx="65.6" cy="534.6" r="1.45"/><circle cx="73" cy="473.6" r="1.45"/><circle cx="73" cy="534.6" r="1.45"/><circle cx="73" cy="501.71" r="1.45"/><circle cx="73" cy="525.25" r="1.45"/><circle cx="69.1" cy="534.6" r="1.45"/><circle cx="84.6" cy="474.2" r="1.45"/><circle cx="84.6" cy="534.6" r="1.45"/><circle cx="84.6" cy="486.85" r="1.45"/><circle cx="84.6" cy="481.46" r="1.45"/><circle cx="84.6" cy="490.03" r="1.45"/><circle cx="82" cy="487.94" r="1.45"/><circle cx="87.2" cy="491.52" r="1.45"/><circle cx="88.5" cy="489.03" r="1.45"/><circle cx="84.6" cy="503.91" r="1.45"/><circle cx="84.6" cy="523.08" r="1.45"/><circle cx="85.9" cy="520.78" r="1.45"/><circle cx="85.9" cy="532.24" r="1.45"/><circle cx="150.9" cy="540.5" r="1.45"/><circle cx="150.9" cy="550.3" r="1.45"/><circle cx="150.9" cy="546.8" r="1.45"/><circle cx="150.9" cy="543.42" r="1.45"/><circle cx="162.4" cy="519.9" r="1.45"/><circle cx="162.4" cy="541" r="1.45"/><circle cx="165" cy="540.16" r="1.45"/><circle cx="158.5" cy="541" r="1.45"/><circle cx="173.7" cy="485.2" r="1.45"/><circle cx="173.7" cy="542.3" r="1.45"/><circle cx="176.3" cy="485.6" r="1.45"/><circle cx="173.7" cy="519.99" r="1.45"/><circle cx="173.7" cy="512.01" r="1.45"/><circle cx="172.4" cy="514.56" r="1.45"/><circle cx="176.3" cy="542.16" r="1.45"/><circle cx="185.3" cy="472.7" r="1.45"/><circle cx="185.3" cy="540" r="1.45"/><circle cx="185.3" cy="523.24" r="1.45"/><circle cx="187.9" cy="523.63" r="1.45"/><circle cx="187.9" cy="539.85" r="1.45"/><circle cx="185.3" cy="528.59" r="1.45"/><circle cx="181.4" cy="540" r="1.45"/><circle cx="252.9" cy="481.6" r="1.45"/><circle cx="252.9" cy="508.3" r="1.45"/><circle cx="250.3" cy="482.7" r="1.45"/><circle cx="255.5" cy="482.7" r="1.45"/><circle cx="252.9" cy="492.52" r="1.45"/><circle cx="250.3" cy="490.58" r="1.45"/><circle cx="250.3" cy="493.44" r="1.45"/><circle cx="252.9" cy="502.3" r="1.45"/><circle cx="255.5" cy="502" r="1.45"/><circle cx="264.4" cy="491.7" r="1.45"/><circle cx="264.4" cy="528.2" r="1.45"/><circle cx="267" cy="493.51" r="1.45"/><circle cx="261.8" cy="492.58" r="1.45"/><circle cx="264.4" cy="495.98" r="1.45"/><circle cx="264.4" cy="506.17" r="1.45"/><circle cx="264.4" cy="500.33" r="1.45"/><circle cx="261.8" cy="505.41" r="1.45"/><circle cx="264.4" cy="513.85" r="1.45"/><circle cx="265.7" cy="511.54" r="1.45"/><circle cx="275.6" cy="494" r="1.45"/><circle cx="275.6" cy="515.6" r="1.45"/><circle cx="274.3" cy="496.56" r="1.45"/><circle cx="276.9" cy="496.57" r="1.45"/><circle cx="275.6" cy="504.12" r="1.45"/><circle cx="275.6" cy="507.98" r="1.45"/><circle cx="275.6" cy="500.22" r="1.45"/><circle cx="273" cy="499.33" r="1.45"/><circle cx="278.2" cy="508.1" r="1.45"/><circle cx="275.6" cy="511" r="1.45"/><circle cx="278.2" cy="511.84" r="1.45"/><circle cx="287.3" cy="495.5" r="1.45"/><circle cx="287.3" cy="516.4" r="1.45"/><circle cx="287.3" cy="500.55" r="1.45"/><circle cx="289.9" cy="501.7" r="1.45"/><circle cx="286" cy="502.93" r="1.45"/><circle cx="287.3" cy="506.66" r="1.45"/><circle cx="283.4" cy="503.59" r="1.45"/><circle cx="284.3" cy="503.94" r="1.45"/><circle cx="287.28" cy="503.37" r="1.45"/><circle cx="287.3" cy="513.13" r="1.45"/><circle cx="289.9" cy="508.61" r="1.45"/><circle cx="286" cy="510.61" r="1.45"/><circle cx="352.9" cy="480.4" r="1.45"/><circle cx="352.9" cy="518.7" r="1.45"/><circle cx="355.5" cy="481.46" r="1.45"/><circle cx="352.9" cy="483.69" r="1.45"/><circle cx="352.9" cy="498" r="1.45"/><circle cx="350.3" cy="498.59" r="1.45"/><circle cx="352.9" cy="507.5" r="1.45"/><circle cx="352.9" cy="514.37" r="1.45"/><circle cx="355.5" cy="515.02" r="1.45"/><circle cx="364.4" cy="483.2" r="1.45"/><circle cx="364.4" cy="529.5" r="1.45"/><circle cx="364.4" cy="495.77" r="1.45"/><circle cx="367" cy="497.8" r="1.45"/><circle cx="364.4" cy="519.55" r="1.45"/><circle cx="364.4" cy="503.84" r="1.45"/><circle cx="367" cy="503.57" r="1.45"/><circle cx="367" cy="520.1" r="1.45"/><circle cx="361.8" cy="519.96" r="1.45"/><circle cx="375.7" cy="503.2" r="1.45"/><circle cx="375.7" cy="539.2" r="1.45"/><circle cx="375.7" cy="507.74" r="1.45"/><circle cx="373.1" cy="507.8" r="1.45"/><circle cx="375.7" cy="523.82" r="1.45"/><circle cx="375.7" cy="513.73" r="1.45"/><circle cx="378.3" cy="522.11" r="1.45"/><circle cx="373.1" cy="523.95" r="1.45"/><circle cx="375.7" cy="519.74" r="1.45"/><circle cx="375.7" cy="528.96" r="1.45"/><circle cx="378.3" cy="537.13" r="1.45"/><circle cx="387.3" cy="499.7" r="1.45"/><circle cx="387.3" cy="531.3" r="1.45"/><circle cx="387.3" cy="504.81" r="1.45"/><circle cx="386" cy="507.4" r="1.45"/><circle cx="387.3" cy="518.77" r="1.45"/><circle cx="387.3" cy="511.39" r="1.45"/><circle cx="389.9" cy="510.56" r="1.45"/><circle cx="387.3" cy="515.32" r="1.45"/><circle cx="384.7" cy="511.73" r="1.45"/><circle cx="387.3" cy="522.81" r="1.45"/><circle cx="384.7" cy="521.04" r="1.45"/><circle cx="449.8" cy="465.9" r="1.45"/><circle cx="449.8" cy="547.5" r="1.45"/><circle cx="449.8" cy="480.21" r="1.45"/><circle cx="449.8" cy="482.89" r="1.45"/><circle cx="449.8" cy="486.45" r="1.45"/><circle cx="449.8" cy="489.79" r="1.45"/><circle cx="449.8" cy="505.58" r="1.45"/><circle cx="447.2" cy="504.37" r="1.45"/><circle cx="449.8" cy="508.76" r="1.45"/><circle cx="449.8" cy="539.29" r="1.45"/><circle cx="461.4" cy="485.2" r="1.45"/><circle cx="461.4" cy="548.8" r="1.45"/><circle cx="461.4" cy="498.54" r="1.45"/><circle cx="458.8" cy="498.53" r="1.45"/><circle cx="461.4" cy="545.87" r="1.45"/><circle cx="461.4" cy="515.25" r="1.45"/><circle cx="461.4" cy="540.88" r="1.45"/><circle cx="464" cy="548.8" r="1.45"/><circle cx="458.8" cy="548.8" r="1.45"/><circle cx="472.6" cy="484.7" r="1.45"/><circle cx="472.6" cy="548.8" r="1.45"/><circle cx="472.6" cy="489.61" r="1.45"/><circle cx="472.6" cy="493.17" r="1.45"/><circle cx="472.6" cy="507.89" r="1.45"/><circle cx="470" cy="494.92" r="1.45"/><circle cx="472.6" cy="515.07" r="1.45"/><circle cx="475.2" cy="548.8" r="1.45"/><circle cx="470" cy="548.8" r="1.45"/><circle cx="484.2" cy="500.2" r="1.45"/><circle cx="484.2" cy="548.8" r="1.45"/><circle cx="484.2" cy="508.57" r="1.45"/><circle cx="481.6" cy="508.26" r="1.45"/><circle cx="484.2" cy="514.24" r="1.45"/><circle cx="485.5" cy="516.57" r="1.45"/><circle cx="482.9" cy="517.43" r="1.45"/><circle cx="481.6" cy="548.8" r="1.45"/><circle cx="486.8" cy="548.8" r="1.45"/><circle cx="547.4" cy="477.8" r="1.45"/><circle cx="547.4" cy="523" r="1.45"/><circle cx="547.4" cy="486.98" r="1.45"/><circle cx="547.4" cy="482.18" r="1.45"/><circle cx="547.4" cy="504.12" r="1.45"/><circle cx="544.8" cy="505.91" r="1.45"/><circle cx="547.4" cy="494.02" r="1.45"/><circle cx="544.8" cy="521.38" r="1.45"/><circle cx="547.4" cy="510.76" r="1.45"/><circle cx="559" cy="491.7" r="1.45"/><circle cx="559" cy="534.1" r="1.45"/><circle cx="559" cy="497.87" r="1.45"/><circle cx="559" cy="504" r="1.45"/><circle cx="559" cy="518.72" r="1.45"/><circle cx="561.6" cy="504.49" r="1.45"/><circle cx="559" cy="507.33" r="1.45"/><circle cx="561.6" cy="534.1" r="1.45"/><circle cx="556.4" cy="534.1" r="1.45"/><circle cx="570.2" cy="506.3" r="1.45"/><circle cx="570.2" cy="533.6" r="1.45"/><circle cx="570.2" cy="510.41" r="1.45"/><circle cx="567.6" cy="506.9" r="1.45"/><circle cx="570.2" cy="520.73" r="1.45"/><circle cx="570.2" cy="529.98" r="1.45"/><circle cx="570.2" cy="514.64" r="1.45"/><circle cx="570.2" cy="526.95" r="1.45"/><circle cx="567.6" cy="530.21" r="1.45"/><circle cx="572.8" cy="530.7" r="1.45"/><circle cx="581.8" cy="475.2" r="1.45"/><circle cx="581.8" cy="533.3" r="1.45"/><circle cx="581.8" cy="486.91" r="1.45"/><circle cx="581.8" cy="494.26" r="1.45"/><circle cx="581.8" cy="513.57" r="1.45"/><circle cx="584.4" cy="511.53" r="1.45"/><circle cx="581.8" cy="517.17" r="1.45"/><circle cx="581.8" cy="519.77" r="1.45"/><circle cx="581.8" cy="526.25" r="1.45"/><circle cx="579.2" cy="526.65" r="1.45"/><circle cx="643.3" cy="493.7" r="1.45"/><circle cx="643.3" cy="545.7" r="1.45"/><circle cx="643.3" cy="508.46" r="1.45"/><circle cx="645.9" cy="509.06" r="1.45"/><circle cx="643.3" cy="527.99" r="1.45"/><circle cx="643.3" cy="541.21" r="1.45"/><circle cx="643.3" cy="515.03" r="1.45"/><circle cx="640.7" cy="545.7" r="1.45"/><circle cx="645.9" cy="545.7" r="1.45"/><circle cx="654.8" cy="491.7" r="1.45"/><circle cx="654.8" cy="545.7" r="1.45"/><circle cx="654.8" cy="511.68" r="1.45"/><circle cx="654.8" cy="531.71" r="1.45"/><circle cx="654.8" cy="535.26" r="1.45"/><circle cx="652.2" cy="545.7" r="1.45"/><circle cx="666.2" cy="525.2" r="1.45"/><circle cx="666.2" cy="546.2" r="1.45"/><circle cx="663.6" cy="546.2" r="1.45"/><circle cx="668.8" cy="546.2" r="1.45"/><circle cx="677.6" cy="512.2" r="1.45"/><circle cx="677.6" cy="546.2" r="1.45"/><circle cx="675" cy="546.2" r="1.45"/><circle cx="680.2" cy="546.2" r="1.45"/></g>
<text x="-1" y="135.2" font-size="10.4" text-anchor="start" font-weight="bold" fill="#111">b</text>
<rect x="16.45" y="371.6" width="6.81" height="6.7" fill="#231F20"/>
<rect x="23.96" y="371.6" width="6.81" height="6.7" fill="#231F20"/>
<rect x="31.47" y="371.6" width="6.81" height="6.7" fill="#231F20"/>
<rect x="38.98" y="371.6" width="6.81" height="6.7" fill="#231F20"/>
<rect x="46.49" y="371.6" width="6.81" height="6.7" fill="#231F20"/>
<rect x="54" y="371.6" width="6.81" height="6.7" fill="#231F20"/>
<rect x="61.51" y="371.6" width="6.81" height="6.7" fill="#231F20"/>
<rect x="69.02" y="371.6" width="6.81" height="6.7" fill="#231F20"/>
<rect x="76.53" y="371.6" width="6.81" height="6.7" fill="#231F20"/>
<rect x="84.04" y="371.6" width="6.81" height="6.7" fill="#231F20"/>
<rect x="91.55" y="371.6" width="6.81" height="6.7" fill="#5DB35C"/>
<rect x="99.06" y="371.6" width="6.81" height="6.7" fill="#5DB35C"/>
<rect x="106.57" y="371.6" width="6.81" height="6.7" fill="#5DB35C"/>
<rect x="114.08" y="371.6" width="6.81" height="6.7" fill="#5DB35C"/>
<rect x="121.59" y="371.6" width="6.81" height="6.7" fill="#5DB35C"/>
<rect x="129.1" y="371.6" width="6.81" height="6.7" fill="#5DB35C"/>
<rect x="136.61" y="371.6" width="6.81" height="6.7" fill="#5DB35C"/>
<rect x="144.12" y="371.6" width="6.81" height="6.7" fill="#5DB35C"/>
<rect x="151.63" y="371.6" width="6.81" height="6.7" fill="#5DB35C"/>
<rect x="159.14" y="371.6" width="6.81" height="6.7" fill="#5DB35C"/>
<rect x="166.65" y="371.6" width="6.81" height="6.7" fill="#5DB35C"/>
<rect x="174.16" y="371.6" width="6.81" height="6.7" fill="#5DB35C"/>
<rect x="181.67" y="371.6" width="6.81" height="6.7" fill="#5DB35C"/>
<rect x="189.18" y="371.6" width="6.81" height="6.7" fill="#5DB35C"/>
<rect x="196.69" y="371.6" width="6.81" height="6.7" fill="#5DB35C"/>
<rect x="204.2" y="371.6" width="6.81" height="6.7" fill="#5DB35C"/>
<rect x="211.71" y="371.6" width="6.81" height="6.7" fill="#5DB35C"/>
<rect x="219.22" y="371.6" width="6.81" height="6.7" fill="#5DB35C"/>
<rect x="226.73" y="371.6" width="6.81" height="6.7" fill="#5DB35C"/>
<rect x="234.24" y="371.6" width="6.81" height="6.7" fill="#5DB35C"/>
<rect x="241.75" y="371.6" width="6.81" height="6.7" fill="#5DB35C"/>
<rect x="249.26" y="371.6" width="6.81" height="6.7" fill="#5DB35C"/>
<rect x="256.77" y="371.6" width="6.81" height="6.7" fill="#5DB35C"/>
<rect x="264.28" y="371.6" width="6.81" height="6.7" fill="#5DB35C"/>
<rect x="271.79" y="371.6" width="6.81" height="6.7" fill="#5DB35C"/>
<rect x="279.3" y="371.6" width="6.81" height="6.7" fill="#5DB35C"/>
<rect x="286.81" y="371.6" width="6.81" height="6.7" fill="#5DB35C"/>
<rect x="294.32" y="371.6" width="6.81" height="6.7" fill="#5DB35C"/>
<rect x="301.83" y="371.6" width="6.81" height="6.7" fill="#5DB35C"/>
<rect x="309.34" y="371.6" width="6.81" height="6.7" fill="#5DB35C"/>
<rect x="316.85" y="371.6" width="6.81" height="6.7" fill="#5DB35C"/>
<rect x="324.36" y="371.6" width="6.81" height="6.7" fill="#5DB35C"/>
<rect x="16.45" y="380.3" width="6.81" height="6.7" fill="#231F20"/>
<rect x="23.96" y="380.3" width="6.81" height="6.7" fill="#231F20"/>
<rect x="31.47" y="380.3" width="6.81" height="6.7" fill="#231F20"/>
<rect x="38.98" y="380.3" width="6.81" height="6.7" fill="#231F20"/>
<rect x="46.49" y="380.3" width="6.81" height="6.7" fill="#231F20"/>
<rect x="54" y="380.3" width="6.81" height="6.7" fill="#231F20"/>
<rect x="61.51" y="380.3" width="6.81" height="6.7" fill="#231F20"/>
<rect x="69.02" y="380.3" width="6.81" height="6.7" fill="#231F20"/>
<rect x="76.53" y="380.3" width="6.81" height="6.7" fill="#231F20"/>
<rect x="84.04" y="380.3" width="6.81" height="6.7" fill="#231F20"/>
<rect x="91.55" y="380.3" width="6.81" height="6.7" fill="#24479D"/>
<rect x="99.06" y="380.3" width="6.81" height="6.7" fill="#24479D"/>
<rect x="106.57" y="380.3" width="6.81" height="6.7" fill="#24479D"/>
<rect x="114.08" y="380.3" width="6.81" height="6.7" fill="#24479D"/>
<rect x="121.59" y="380.3" width="6.81" height="6.7" fill="#24479D"/>
<rect x="129.1" y="380.3" width="6.81" height="6.7" fill="#24479D"/>
<rect x="136.61" y="380.3" width="6.81" height="6.7" fill="#24479D"/>
<rect x="144.12" y="380.3" width="6.81" height="6.7" fill="#24479D"/>
<rect x="151.63" y="380.3" width="6.81" height="6.7" fill="#24479D"/>
<rect x="159.14" y="380.3" width="6.81" height="6.7" fill="#24479D"/>
<rect x="166.65" y="380.3" width="6.81" height="6.7" fill="#5F4B9E"/>
<rect x="174.16" y="380.3" width="6.81" height="6.7" fill="#5F4B9E"/>
<rect x="181.67" y="380.3" width="6.81" height="6.7" fill="#5F4B9E"/>
<rect x="189.18" y="380.3" width="6.81" height="6.7" fill="#5F4B9E"/>
<rect x="196.69" y="380.3" width="6.81" height="6.7" fill="#5F4B9E"/>
<rect x="204.2" y="380.3" width="6.81" height="6.7" fill="#5F4B9E"/>
<rect x="211.71" y="380.3" width="6.81" height="6.7" fill="#5F4B9E"/>
<rect x="219.22" y="380.3" width="6.81" height="6.7" fill="#5F4B9E"/>
<rect x="226.73" y="380.3" width="6.81" height="6.7" fill="#5F4B9E"/>
<rect x="234.24" y="380.3" width="6.81" height="6.7" fill="#5F4B9E"/>
<rect x="241.75" y="380.3" width="6.81" height="6.7" fill="#EE3530"/>
<rect x="249.26" y="380.3" width="6.81" height="6.7" fill="#EE3530"/>
<rect x="256.77" y="380.3" width="6.81" height="6.7" fill="#EE3530"/>
<rect x="264.28" y="380.3" width="6.81" height="6.7" fill="#EE3530"/>
<rect x="271.79" y="380.3" width="6.81" height="6.7" fill="#EE3530"/>
<rect x="279.3" y="380.3" width="6.81" height="6.7" fill="#EE3530"/>
<rect x="286.81" y="380.3" width="6.81" height="6.7" fill="#EE3530"/>
<rect x="294.32" y="380.3" width="6.81" height="6.7" fill="#EE3530"/>
<rect x="301.83" y="380.3" width="6.81" height="6.7" fill="#EE3530"/>
<rect x="309.34" y="380.3" width="6.81" height="6.7" fill="#EE3530"/>
<rect x="316.85" y="380.3" width="6.81" height="6.7" fill="#EE3530"/>
<rect x="324.36" y="380.3" width="6.81" height="6.7" fill="#EE3530"/>
<clipPath id="hc2"><rect x="17" y="388.9" width="314.16" height="49.7"/></clipPath><g clip-path="url(#hc2)">
<rect x="17" y="388.9" width="15.56" height="7.7" fill="#f9caa8"/>
<rect x="31.96" y="388.9" width="8.08" height="7.7" fill="#fce6d6"/>
<rect x="39.44" y="388.9" width="8.08" height="7.7" fill="#f18130"/>
<rect x="46.92" y="388.9" width="8.08" height="7.7" fill="#a2d8f2"/>
<rect x="54.4" y="388.9" width="8.08" height="7.7" fill="#f18130"/>
<rect x="61.88" y="388.9" width="8.08" height="7.7" fill="#fce6d6"/>
<rect x="69.36" y="388.9" width="8.08" height="7.7" fill="#f9caa8"/>
<rect x="76.84" y="388.9" width="8.08" height="7.7" fill="#f5a46a"/>
<rect x="84.32" y="388.9" width="8.08" height="7.7" fill="#f18130"/>
<rect x="91.8" y="388.9" width="8.08" height="7.7" fill="#75c5eb"/>
<rect x="99.28" y="388.9" width="8.08" height="7.7" fill="#f18130"/>
<rect x="106.76" y="388.9" width="8.08" height="7.7" fill="#75c5eb"/>
<rect x="114.24" y="388.9" width="8.08" height="7.7" fill="#a2d8f2"/>
<rect x="121.72" y="388.9" width="8.08" height="7.7" fill="#f5a46a"/>
<rect x="129.2" y="388.9" width="8.08" height="7.7" fill="#cfebf8"/>
<rect x="136.68" y="388.9" width="8.08" height="7.7" fill="#f18130"/>
<rect x="144.16" y="388.9" width="8.08" height="7.7" fill="#a2d8f2"/>
<rect x="151.64" y="388.9" width="8.08" height="7.7" fill="#f18130"/>
<rect x="159.12" y="388.9" width="8.08" height="7.7" fill="#ffffff"/>
<rect x="166.6" y="388.9" width="8.08" height="7.7" fill="#f5a46a"/>
<rect x="174.08" y="388.9" width="8.08" height="7.7" fill="#a2d8f2"/>
<rect x="181.56" y="388.9" width="23.04" height="7.7" fill="#75c5eb"/>
<rect x="204" y="388.9" width="8.08" height="7.7" fill="#f9caa8"/>
<rect x="211.48" y="388.9" width="8.08" height="7.7" fill="#f18130"/>
<rect x="218.96" y="388.9" width="8.08" height="7.7" fill="#cfebf8"/>
<rect x="226.44" y="388.9" width="8.08" height="7.7" fill="#f5a46a"/>
<rect x="233.92" y="388.9" width="8.08" height="7.7" fill="#75c5eb"/>
<rect x="241.4" y="388.9" width="23.04" height="7.7" fill="#a2d8f2"/>
<rect x="263.84" y="388.9" width="8.08" height="7.7" fill="#75c5eb"/>
<rect x="271.32" y="388.9" width="8.08" height="7.7" fill="#fce6d6"/>
<rect x="278.8" y="388.9" width="8.08" height="7.7" fill="#75c5eb"/>
<rect x="286.28" y="388.9" width="8.08" height="7.7" fill="#f9caa8"/>
<rect x="293.76" y="388.9" width="8.08" height="7.7" fill="#f18130"/>
<rect x="301.24" y="388.9" width="15.56" height="7.7" fill="#ffffff"/>
<rect x="316.2" y="388.9" width="8.08" height="7.7" fill="#75c5eb"/>
<rect x="323.68" y="388.9" width="8.08" height="7.7" fill="#cfebf8"/>
<rect x="17" y="396" width="8.08" height="7.7" fill="#f9caa8"/>
<rect x="24.48" y="396" width="8.08" height="7.7" fill="#fce6d6"/>
<rect x="31.96" y="396" width="8.08" height="7.7" fill="#ffffff"/>
<rect x="39.44" y="396" width="8.08" height="7.7" fill="#f18130"/>
<rect x="46.92" y="396" width="8.08" height="7.7" fill="#a2d8f2"/>
<rect x="54.4" y="396" width="8.08" height="7.7" fill="#f18130"/>
<rect x="61.88" y="396" width="8.08" height="7.7" fill="#a2d8f2"/>
<rect x="69.36" y="396" width="15.56" height="7.7" fill="#f9caa8"/>
<rect x="84.32" y="396" width="8.08" height="7.7" fill="#f18130"/>
<rect x="91.8" y="396" width="8.08" height="7.7" fill="#a2d8f2"/>
<rect x="99.28" y="396" width="8.08" height="7.7" fill="#f18130"/>
<rect x="106.76" y="396" width="8.08" height="7.7" fill="#75c5eb"/>
<rect x="114.24" y="396" width="8.08" height="7.7" fill="#f9caa8"/>
<rect x="121.72" y="396" width="8.08" height="7.7" fill="#f5a46a"/>
<rect x="129.2" y="396" width="8.08" height="7.7" fill="#75c5eb"/>
<rect x="136.68" y="396" width="8.08" height="7.7" fill="#f9caa8"/>
<rect x="144.16" y="396" width="8.08" height="7.7" fill="#a2d8f2"/>
<rect x="151.64" y="396" width="8.08" height="7.7" fill="#f18130"/>
<rect x="159.12" y="396" width="8.08" height="7.7" fill="#fce6d6"/>
<rect x="166.6" y="396" width="8.08" height="7.7" fill="#f5a46a"/>
<rect x="174.08" y="396" width="8.08" height="7.7" fill="#75c5eb"/>
<rect x="181.56" y="396" width="8.08" height="7.7" fill="#cfebf8"/>
<rect x="189.04" y="396" width="23.04" height="7.7" fill="#75c5eb"/>
<rect x="211.48" y="396" width="8.08" height="7.7" fill="#fce6d6"/>
<rect x="218.96" y="396" width="8.08" height="7.7" fill="#cfebf8"/>
<rect x="226.44" y="396" width="8.08" height="7.7" fill="#f9caa8"/>
<rect x="233.92" y="396" width="8.08" height="7.7" fill="#75c5eb"/>
<rect x="241.4" y="396" width="8.08" height="7.7" fill="#a2d8f2"/>
<rect x="248.88" y="396" width="8.08" height="7.7" fill="#f9caa8"/>
<rect x="256.36" y="396" width="8.08" height="7.7" fill="#75c5eb"/>
<rect x="263.84" y="396" width="8.08" height="7.7" fill="#a2d8f2"/>
<rect x="271.32" y="396" width="8.08" height="7.7" fill="#fce6d6"/>
<rect x="278.8" y="396" width="8.08" height="7.7" fill="#75c5eb"/>
<rect x="286.28" y="396" width="8.08" height="7.7" fill="#f9caa8"/>
<rect x="293.76" y="396" width="8.08" height="7.7" fill="#ffffff"/>
<rect x="301.24" y="396" width="8.08" height="7.7" fill="#f9caa8"/>
<rect x="308.72" y="396" width="8.08" height="7.7" fill="#fce6d6"/>
<rect x="316.2" y="396" width="8.08" height="7.7" fill="#75c5eb"/>
<rect x="323.68" y="396" width="8.08" height="7.7" fill="#f5a46a"/>
<rect x="17" y="403.1" width="8.08" height="7.7" fill="#f18130"/>
<rect x="24.48" y="403.1" width="8.08" height="7.7" fill="#f9caa8"/>
<rect x="31.96" y="403.1" width="15.56" height="7.7" fill="#f5a46a"/>
<rect x="46.92" y="403.1" width="8.08" height="7.7" fill="#75c5eb"/>
<rect x="54.4" y="403.1" width="15.56" height="7.7" fill="#f18130"/>
<rect x="69.36" y="403.1" width="8.08" height="7.7" fill="#cfebf8"/>
<rect x="76.84" y="403.1" width="15.56" height="7.7" fill="#f18130"/>
<rect x="91.8" y="403.1" width="8.08" height="7.7" fill="#75c5eb"/>
<rect x="99.28" y="403.1" width="8.08" height="7.7" fill="#cfebf8"/>
<rect x="106.76" y="403.1" width="15.56" height="7.7" fill="#75c5eb"/>
<rect x="121.72" y="403.1" width="8.08" height="7.7" fill="#f5a46a"/>
<rect x="129.2" y="403.1" width="8.08" height="7.7" fill="#75c5eb"/>
<rect x="136.68" y="403.1" width="8.08" height="7.7" fill="#f18130"/>
<rect x="144.16" y="403.1" width="8.08" height="7.7" fill="#fce6d6"/>
<rect x="151.64" y="403.1" width="8.08" height="7.7" fill="#f18130"/>
<rect x="159.12" y="403.1" width="8.08" height="7.7" fill="#f9caa8"/>
<rect x="166.6" y="403.1" width="8.08" height="7.7" fill="#f18130"/>
<rect x="174.08" y="403.1" width="8.08" height="7.7" fill="#a2d8f2"/>
<rect x="181.56" y="403.1" width="15.56" height="7.7" fill="#75c5eb"/>
<rect x="196.52" y="403.1" width="8.08" height="7.7" fill="#a2d8f2"/>
<rect x="204" y="403.1" width="15.56" height="7.7" fill="#f18130"/>
<rect x="218.96" y="403.1" width="8.08" height="7.7" fill="#75c5eb"/>
<rect x="226.44" y="403.1" width="15.56" height="7.7" fill="#f5a46a"/>
<rect x="241.4" y="403.1" width="8.08" height="7.7" fill="#75c5eb"/>
<rect x="248.88" y="403.1" width="8.08" height="7.7" fill="#f9caa8"/>
<rect x="256.36" y="403.1" width="15.56" height="7.7" fill="#75c5eb"/>
<rect x="271.32" y="403.1" width="8.08" height="7.7" fill="#f5a46a"/>
<rect x="278.8" y="403.1" width="8.08" height="7.7" fill="#75c5eb"/>
<rect x="286.28" y="403.1" width="8.08" height="7.7" fill="#ffffff"/>
<rect x="293.76" y="403.1" width="8.08" height="7.7" fill="#75c5eb"/>
<rect x="301.24" y="403.1" width="8.08" height="7.7" fill="#cfebf8"/>
<rect x="308.72" y="403.1" width="8.08" height="7.7" fill="#f9caa8"/>
<rect x="316.2" y="403.1" width="8.08" height="7.7" fill="#cfebf8"/>
<rect x="323.68" y="403.1" width="8.08" height="7.7" fill="#f9caa8"/>
<rect x="17" y="410.2" width="15.56" height="7.7" fill="#f18130"/>
<rect x="31.96" y="410.2" width="8.08" height="7.7" fill="#a2d8f2"/>
<rect x="39.44" y="410.2" width="8.08" height="7.7" fill="#f18130"/>
<rect x="46.92" y="410.2" width="8.08" height="7.7" fill="#ffffff"/>
<rect x="54.4" y="410.2" width="8.08" height="7.7" fill="#f18130"/>
<rect x="61.88" y="410.2" width="8.08" height="7.7" fill="#f5a46a"/>
<rect x="69.36" y="410.2" width="8.08" height="7.7" fill="#fce6d6"/>
<rect x="76.84" y="410.2" width="15.56" height="7.7" fill="#f18130"/>
<rect x="91.8" y="410.2" width="8.08" height="7.7" fill="#75c5eb"/>
<rect x="99.28" y="410.2" width="8.08" height="7.7" fill="#ffffff"/>
<rect x="106.76" y="410.2" width="15.56" height="7.7" fill="#75c5eb"/>
<rect x="121.72" y="410.2" width="8.08" height="7.7" fill="#f5a46a"/>
<rect x="129.2" y="410.2" width="8.08" height="7.7" fill="#75c5eb"/>
<rect x="136.68" y="410.2" width="8.08" height="7.7" fill="#f18130"/>
<rect x="144.16" y="410.2" width="8.08" height="7.7" fill="#75c5eb"/>
<rect x="151.64" y="410.2" width="15.56" height="7.7" fill="#f9caa8"/>
<rect x="166.6" y="410.2" width="8.08" height="7.7" fill="#ffffff"/>
<rect x="174.08" y="410.2" width="15.56" height="7.7" fill="#75c5eb"/>
<rect x="189.04" y="410.2" width="8.08" height="7.7" fill="#cfebf8"/>
<rect x="196.52" y="410.2" width="8.08" height="7.7" fill="#75c5eb"/>
<rect x="204" y="410.2" width="8.08" height="7.7" fill="#fce6d6"/>
<rect x="211.48" y="410.2" width="15.56" height="7.7" fill="#75c5eb"/>
<rect x="226.44" y="410.2" width="8.08" height="7.7" fill="#cfebf8"/>
<rect x="233.92" y="410.2" width="15.56" height="7.7" fill="#f9caa8"/>
<rect x="248.88" y="410.2" width="8.08" height="7.7" fill="#cfebf8"/>
<rect x="256.36" y="410.2" width="8.08" height="7.7" fill="#75c5eb"/>
<rect x="263.84" y="410.2" width="8.08" height="7.7" fill="#ffffff"/>
<rect x="271.32" y="410.2" width="8.08" height="7.7" fill="#f9caa8"/>
<rect x="278.8" y="410.2" width="8.08" height="7.7" fill="#75c5eb"/>
<rect x="286.28" y="410.2" width="8.08" height="7.7" fill="#cfebf8"/>
<rect x="293.76" y="410.2" width="8.08" height="7.7" fill="#f5a46a"/>
<rect x="301.24" y="410.2" width="8.08" height="7.7" fill="#cfebf8"/>
<rect x="308.72" y="410.2" width="8.08" height="7.7" fill="#f5a46a"/>
<rect x="316.2" y="410.2" width="8.08" height="7.7" fill="#75c5eb"/>
<rect x="323.68" y="410.2" width="8.08" height="7.7" fill="#f18130"/>
<rect x="17" y="417.3" width="8.08" height="7.7" fill="#f5a46a"/>
<rect x="24.48" y="417.3" width="8.08" height="7.7" fill="#a2d8f2"/>
<rect x="31.96" y="417.3" width="8.08" height="7.7" fill="#cfebf8"/>
<rect x="39.44" y="417.3" width="15.56" height="7.7" fill="#a2d8f2"/>
<rect x="54.4" y="417.3" width="15.56" height="7.7" fill="#f18130"/>
<rect x="69.36" y="417.3" width="8.08" height="7.7" fill="#a2d8f2"/>
<rect x="76.84" y="417.3" width="15.56" height="7.7" fill="#f18130"/>
<rect x="91.8" y="417.3" width="8.08" height="7.7" fill="#a2d8f2"/>
<rect x="99.28" y="417.3" width="8.08" height="7.7" fill="#f18130"/>
<rect x="106.76" y="417.3" width="30.52" height="7.7" fill="#a2d8f2"/>
<rect x="136.68" y="417.3" width="8.08" height="7.7" fill="#f18130"/>
<rect x="144.16" y="417.3" width="8.08" height="7.7" fill="#a2d8f2"/>
<rect x="151.64" y="417.3" width="8.08" height="7.7" fill="#f18130"/>
<rect x="159.12" y="417.3" width="52.96" height="7.7" fill="#a2d8f2"/>
<rect x="211.48" y="417.3" width="8.08" height="7.7" fill="#f5a46a"/>
<rect x="218.96" y="417.3" width="30.52" height="7.7" fill="#a2d8f2"/>
<rect x="248.88" y="417.3" width="8.08" height="7.7" fill="#f18130"/>
<rect x="256.36" y="417.3" width="75.4" height="7.7" fill="#a2d8f2"/>
<rect x="17" y="424.4" width="30.52" height="7.7" fill="#75c5eb"/>
<rect x="46.92" y="424.4" width="8.08" height="7.7" fill="#f18130"/>
<rect x="54.4" y="424.4" width="67.92" height="7.7" fill="#75c5eb"/>
<rect x="121.72" y="424.4" width="8.08" height="7.7" fill="#f5a46a"/>
<rect x="129.2" y="424.4" width="8.08" height="7.7" fill="#75c5eb"/>
<rect x="136.68" y="424.4" width="8.08" height="7.7" fill="#fce6d6"/>
<rect x="144.16" y="424.4" width="8.08" height="7.7" fill="#cfebf8"/>
<rect x="151.64" y="424.4" width="8.08" height="7.7" fill="#fce6d6"/>
<rect x="159.12" y="424.4" width="8.08" height="7.7" fill="#f5a46a"/>
<rect x="166.6" y="424.4" width="23.04" height="7.7" fill="#75c5eb"/>
<rect x="189.04" y="424.4" width="8.08" height="7.7" fill="#f18130"/>
<rect x="196.52" y="424.4" width="23.04" height="7.7" fill="#75c5eb"/>
<rect x="218.96" y="424.4" width="8.08" height="7.7" fill="#f18130"/>
<rect x="226.44" y="424.4" width="8.08" height="7.7" fill="#f5a46a"/>
<rect x="233.92" y="424.4" width="8.08" height="7.7" fill="#f18130"/>
<rect x="241.4" y="424.4" width="8.08" height="7.7" fill="#cfebf8"/>
<rect x="248.88" y="424.4" width="15.56" height="7.7" fill="#75c5eb"/>
<rect x="263.84" y="424.4" width="52.96" height="7.7" fill="#f18130"/>
<rect x="316.2" y="424.4" width="8.08" height="7.7" fill="#fce6d6"/>
<rect x="323.68" y="424.4" width="8.08" height="7.7" fill="#f18130"/>
<rect x="17" y="431.5" width="8.08" height="7.7" fill="#75c5eb"/>
<rect x="24.48" y="431.5" width="75.4" height="7.7" fill="#ffffff"/>
<rect x="99.28" y="431.5" width="8.08" height="7.7" fill="#f9caa8"/>
<rect x="106.76" y="431.5" width="15.56" height="7.7" fill="#ffffff"/>
<rect x="121.72" y="431.5" width="8.08" height="7.7" fill="#f9caa8"/>
<rect x="129.2" y="431.5" width="60.44" height="7.7" fill="#ffffff"/>
<rect x="189.04" y="431.5" width="8.08" height="7.7" fill="#f18130"/>
<rect x="196.52" y="431.5" width="15.56" height="7.7" fill="#ffffff"/>
<rect x="211.48" y="431.5" width="8.08" height="7.7" fill="#fce6d6"/>
<rect x="218.96" y="431.5" width="8.08" height="7.7" fill="#f18130"/>
<rect x="226.44" y="431.5" width="8.08" height="7.7" fill="#f9caa8"/>
<rect x="233.92" y="431.5" width="30.52" height="7.7" fill="#ffffff"/>
<rect x="263.84" y="431.5" width="15.56" height="7.7" fill="#fce6d6"/>
<rect x="278.8" y="431.5" width="8.08" height="7.7" fill="#ffffff"/>
<rect x="286.28" y="431.5" width="8.08" height="7.7" fill="#f9caa8"/>
<rect x="293.76" y="431.5" width="8.08" height="7.7" fill="#f18130"/>
<rect x="301.24" y="431.5" width="23.04" height="7.7" fill="#ffffff"/>
<rect x="323.68" y="431.5" width="8.08" height="7.7" fill="#f18130"/>
</g>
<text x="333.8" y="394.75" font-size="6.5" text-anchor="start" fill="#231F20">IFN-γ</text>
<text x="333.8" y="401.85" font-size="6.5" text-anchor="start" fill="#231F20">IFN-α2</text>
<text x="333.8" y="408.95" font-size="6.5" text-anchor="start" fill="#231F20">IFN-λ3</text>
<text x="333.8" y="416.05" font-size="6.5" text-anchor="start" fill="#231F20">IL-33</text>
<text x="333.8" y="423.15" font-size="6.5" text-anchor="start" fill="#231F20">IFN-β</text>
<text x="333.8" y="430.25" font-size="6.5" text-anchor="start" fill="#231F20">CCL2</text>
<text x="333.8" y="437.35" font-size="6.5" text-anchor="start" fill="#231F20">IL-10</text>
<text x="-1.3" y="374" font-size="10.4" text-anchor="start" font-weight="bold" fill="#111">c</text>
<text x="-1" y="459.8" font-size="10.4" text-anchor="start" font-weight="bold" fill="#111">d</text>
<path d="M43.7 580.6V669H131.6" fill="none" stroke="#8c8c8c" stroke-width="0.6"/>
<path d="M43.7 580.6h-3.4M43.7 669v3.4M43.7 601.2h-1.7M52.52 669v1.7M43.7 596.01h-1.7M57.68 669v1.7M43.7 592.33h-1.7M61.34 669v1.7M43.7 589.47h-1.7M64.18 669v1.7M43.7 587.14h-1.7M66.5 669v1.7M43.7 585.16h-1.7M68.46 669v1.7M43.7 583.46h-1.7M70.16 669v1.7M43.7 581.95h-1.7M71.66 669v1.7M43.7 610.07h-3.4M73 669v3.4M43.7 630.66h-1.7M81.82 669v1.7M43.7 625.47h-1.7M86.98 669v1.7M43.7 621.79h-1.7M90.64 669v1.7M43.7 618.94h-1.7M93.48 669v1.7M43.7 616.6h-1.7M95.8 669v1.7M43.7 614.63h-1.7M97.76 669v1.7M43.7 612.92h-1.7M99.46 669v1.7M43.7 611.41h-1.7M100.96 669v1.7M43.7 639.53h-3.4M102.3 669v3.4M43.7 660.13h-1.7M111.12 669v1.7M43.7 654.94h-1.7M116.28 669v1.7M43.7 651.26h-1.7M119.94 669v1.7M43.7 648.4h-1.7M122.78 669v1.7M43.7 646.07h-1.7M125.1 669v1.7M43.7 644.1h-1.7M127.06 669v1.7M43.7 642.39h-1.7M128.76 669v1.7M43.7 640.88h-1.7M130.26 669v1.7M43.7 669h-3.4M131.6 669v3.4" fill="none" stroke="#8c8c8c" stroke-width="0.6"/>
<text x="37.4" y="583.5" font-size="8.2" text-anchor="end" fill="#231F20">10<tspan dy="-3.7" font-size="6">3</tspan></text>
<text x="37.4" y="612.97" font-size="8.2" text-anchor="end" fill="#231F20">10<tspan dy="-3.7" font-size="6">2</tspan></text>
<text x="37.4" y="642.43" font-size="8.2" text-anchor="end" fill="#231F20">10<tspan dy="-3.7" font-size="6">1</tspan></text>
<text x="37.4" y="671.9" font-size="8.2" text-anchor="end" fill="#231F20">10<tspan dy="-3.7" font-size="6">0</tspan></text>
<text x="43.3" y="682.3" font-size="8.6" text-anchor="middle" fill="#231F20">1</text>
<text x="72.6" y="682.3" font-size="8.6" text-anchor="middle" fill="#231F20">10</text>
<text x="101.9" y="682.3" font-size="8.6" text-anchor="middle" fill="#231F20">100</text>
<text x="132.2" y="682.3" font-size="8.6" text-anchor="middle" fill="#231F20">1,000</text>
<text x="86.9" y="695.8" font-size="9" text-anchor="middle" fill="#231F20">CCL2 (pg ml<tspan dy="-3.3" font-size="5.6">−1</tspan><tspan dy="3.3">)</tspan></text>
<text transform="translate(6.6 625) rotate(-90)" font-size="9" text-anchor="middle" fill="#231F20">CCL2</text>
<text transform="translate(18.3 625) rotate(-90)" font-size="9" text-anchor="middle" fill="#231F20">(fg µg<tspan dy="-3.3" font-size="5.6">−1</tspan><tspan dy="3.3"> of total protein)</tspan></text>
<text x="46" y="586" font-size="6.4" fill="#333"><tspan font-style="italic">σ</tspan> = 0.48</text>
<text x="46" y="592.6" font-size="6.4" fill="#333"><tspan font-style="italic">P</tspan> = 0.001</text>
<circle cx="67.4" cy="653.5" r="1.8" fill="#111"/>
<circle cx="83.4" cy="653.5" r="1.8" fill="#2446b0"/>
<circle cx="87.4" cy="653.5" r="1.8" fill="#111"/>
<circle cx="89.3" cy="653.5" r="1.8" fill="#2446b0"/>
<circle cx="94.7" cy="653.5" r="1.8" fill="#5b44a8"/>
<circle cx="97.8" cy="653.5" r="1.8" fill="#111"/>
<circle cx="100.2" cy="653.5" r="1.8" fill="#2446b0"/>
<circle cx="102.4" cy="653.5" r="1.8" fill="#5b44a8"/>
<circle cx="110.2" cy="653.5" r="1.8" fill="#5b44a8"/>
<circle cx="116.6" cy="653.5" r="1.8" fill="#5b44a8"/>
<circle cx="120.6" cy="653.5" r="1.8" fill="#ee3a2f"/>
<circle cx="96.9" cy="641.1" r="1.8" fill="#ee3a2f"/>
<circle cx="105.7" cy="639.7" r="1.8" fill="#2446b0"/>
<circle cx="89.8" cy="635.7" r="1.8" fill="#2446b0"/>
<circle cx="98" cy="633.8" r="1.8" fill="#2446b0"/>
<circle cx="121.2" cy="635.7" r="1.8" fill="#ee3a2f"/>
<circle cx="113.5" cy="626" r="1.8" fill="#5b44a8"/>
<circle cx="100.6" cy="624.2" r="1.8" fill="#2446b0"/>
<circle cx="106" cy="623.1" r="1.8" fill="#2446b0"/>
<circle cx="111.2" cy="621.6" r="1.8" fill="#5b44a8"/>
<circle cx="89.3" cy="620.7" r="1.8" fill="#111"/>
<circle cx="91.5" cy="618.9" r="1.8" fill="#ee3a2f"/>
<circle cx="103.7" cy="619.2" r="1.8" fill="#ee3a2f"/>
<circle cx="118.3" cy="617.8" r="1.8" fill="#5b44a8"/>
<circle cx="114.8" cy="615.2" r="1.8" fill="#ee3a2f"/>
<circle cx="112.4" cy="610.5" r="1.8" fill="#ee3a2f"/>
<circle cx="118.6" cy="604.3" r="1.8" fill="#ee3a2f"/>
<circle cx="111.2" cy="602.8" r="1.8" fill="#ee3a2f"/>
<circle cx="120.6" cy="592.1" r="1.8" fill="#5b44a8"/>
<circle cx="127.8" cy="592.8" r="1.8" fill="#ee3a2f"/>
<text x="-1" y="576.5" font-size="10.4" text-anchor="start" font-weight="bold" fill="#111">e</text>
<rect x="198.88" y="573.3" width="7.06" height="6.6" fill="#24479D"/>
<rect x="206.28" y="573.3" width="7.06" height="6.6" fill="#24479D"/>
<rect x="213.69" y="573.3" width="7.06" height="6.6" fill="#24479D"/>
<rect x="221.1" y="573.3" width="7.06" height="6.6" fill="#24479D"/>
<rect x="228.51" y="573.3" width="7.06" height="6.6" fill="#24479D"/>
<rect x="235.93" y="573.3" width="7.06" height="6.6" fill="#24479D"/>
<rect x="243.34" y="573.3" width="7.06" height="6.6" fill="#24479D"/>
<rect x="250.75" y="573.3" width="7.06" height="6.6" fill="#5F4B9E"/>
<rect x="258.16" y="573.3" width="7.06" height="6.6" fill="#5F4B9E"/>
<rect x="265.56" y="573.3" width="7.06" height="6.6" fill="#5F4B9E"/>
<rect x="272.97" y="573.3" width="7.06" height="6.6" fill="#EE3530"/>
<rect x="280.38" y="573.3" width="7.06" height="6.6" fill="#EE3530"/>
<rect x="287.8" y="573.3" width="7.06" height="6.6" fill="#EE3530"/>
<rect x="295.2" y="573.3" width="7.06" height="6.6" fill="#EE3530"/>
<rect x="302.62" y="573.3" width="7.06" height="6.6" fill="#24479D"/>
<rect x="310.03" y="573.3" width="7.06" height="6.6" fill="#24479D"/>
<rect x="317.44" y="573.3" width="7.06" height="6.6" fill="#24479D"/>
<rect x="324.84" y="573.3" width="7.06" height="6.6" fill="#5F4B9E"/>
<rect x="332.25" y="573.3" width="7.06" height="6.6" fill="#5F4B9E"/>
<rect x="339.67" y="573.3" width="7.06" height="6.6" fill="#5F4B9E"/>
<rect x="347.07" y="573.3" width="7.06" height="6.6" fill="#5F4B9E"/>
<rect x="354.49" y="573.3" width="7.06" height="6.6" fill="#5F4B9E"/>
<rect x="361.9" y="573.3" width="7.06" height="6.6" fill="#5F4B9E"/>
<rect x="369.31" y="573.3" width="7.06" height="6.6" fill="#5F4B9E"/>
<rect x="376.71" y="573.3" width="7.06" height="6.6" fill="#EE3530"/>
<rect x="384.12" y="573.3" width="7.06" height="6.6" fill="#EE3530"/>
<rect x="391.54" y="573.3" width="7.06" height="6.6" fill="#EE3530"/>
<rect x="398.94" y="573.3" width="7.06" height="6.6" fill="#EE3530"/>
<rect x="406.36" y="573.3" width="7.06" height="6.6" fill="#EE3530"/>
<rect x="413.77" y="573.3" width="7.06" height="6.6" fill="#EE3530"/>
<rect x="421.18" y="573.3" width="7.06" height="6.6" fill="#EE3530"/>
<clipPath id="hc3"><rect x="198.7" y="580.8" width="229.71" height="124.1"/></clipPath><g clip-path="url(#hc3)">
<rect x="198.7" y="580.8" width="8.01" height="7.9" fill="#a2d8f2"/>
<rect x="206.11" y="580.8" width="8.01" height="7.9" fill="#cfebf8"/>
<rect x="213.52" y="580.8" width="89.52" height="7.9" fill="#a2d8f2"/>
<rect x="302.44" y="580.8" width="8.01" height="7.9" fill="#fce6d6"/>
<rect x="309.85" y="580.8" width="8.01" height="7.9" fill="#f18130"/>
<rect x="317.26" y="580.8" width="45.06" height="7.9" fill="#a2d8f2"/>
<rect x="361.72" y="580.8" width="15.42" height="7.9" fill="#f18130"/>
<rect x="376.54" y="580.8" width="22.83" height="7.9" fill="#a2d8f2"/>
<rect x="398.77" y="580.8" width="8.01" height="7.9" fill="#f18130"/>
<rect x="406.18" y="580.8" width="8.01" height="7.9" fill="#a2d8f2"/>
<rect x="413.59" y="580.8" width="15.42" height="7.9" fill="#f18130"/>
<rect x="198.7" y="588.1" width="8.01" height="7.9" fill="#cfebf8"/>
<rect x="206.11" y="588.1" width="8.01" height="7.9" fill="#75c5eb"/>
<rect x="213.52" y="588.1" width="8.01" height="7.9" fill="#a2d8f2"/>
<rect x="220.93" y="588.1" width="30.24" height="7.9" fill="#75c5eb"/>
<rect x="250.57" y="588.1" width="8.01" height="7.9" fill="#cfebf8"/>
<rect x="257.98" y="588.1" width="22.83" height="7.9" fill="#5fbbe8"/>
<rect x="280.21" y="588.1" width="15.42" height="7.9" fill="#cfebf8"/>
<rect x="295.03" y="588.1" width="8.01" height="7.9" fill="#75c5eb"/>
<rect x="302.44" y="588.1" width="15.42" height="7.9" fill="#f5a46a"/>
<rect x="317.26" y="588.1" width="22.83" height="7.9" fill="#f18130"/>
<rect x="339.49" y="588.1" width="15.42" height="7.9" fill="#f5a46a"/>
<rect x="354.31" y="588.1" width="8.01" height="7.9" fill="#f18130"/>
<rect x="361.72" y="588.1" width="8.01" height="7.9" fill="#f5a46a"/>
<rect x="369.13" y="588.1" width="15.42" height="7.9" fill="#f18130"/>
<rect x="383.95" y="588.1" width="8.01" height="7.9" fill="#f5a46a"/>
<rect x="391.36" y="588.1" width="8.01" height="7.9" fill="#f18130"/>
<rect x="398.77" y="588.1" width="8.01" height="7.9" fill="#f5a46a"/>
<rect x="406.18" y="588.1" width="22.83" height="7.9" fill="#f18130"/>
<rect x="198.7" y="595.4" width="15.42" height="7.9" fill="#cfebf8"/>
<rect x="213.52" y="595.4" width="8.01" height="7.9" fill="#f9caa8"/>
<rect x="220.93" y="595.4" width="22.83" height="7.9" fill="#ffffff"/>
<rect x="243.16" y="595.4" width="8.01" height="7.9" fill="#75c5eb"/>
<rect x="250.57" y="595.4" width="8.01" height="7.9" fill="#ffffff"/>
<rect x="257.98" y="595.4" width="15.42" height="7.9" fill="#5fbbe8"/>
<rect x="272.8" y="595.4" width="8.01" height="7.9" fill="#f9caa8"/>
<rect x="280.21" y="595.4" width="8.01" height="7.9" fill="#cfebf8"/>
<rect x="287.62" y="595.4" width="8.01" height="7.9" fill="#fce6d6"/>
<rect x="295.03" y="595.4" width="8.01" height="7.9" fill="#f9caa8"/>
<rect x="302.44" y="595.4" width="15.42" height="7.9" fill="#f5a46a"/>
<rect x="317.26" y="595.4" width="8.01" height="7.9" fill="#cfebf8"/>
<rect x="324.67" y="595.4" width="8.01" height="7.9" fill="#f9caa8"/>
<rect x="332.08" y="595.4" width="8.01" height="7.9" fill="#f5a46a"/>
<rect x="339.49" y="595.4" width="8.01" height="7.9" fill="#f9caa8"/>
<rect x="346.9" y="595.4" width="8.01" height="7.9" fill="#fce6d6"/>
<rect x="354.31" y="595.4" width="8.01" height="7.9" fill="#f9caa8"/>
<rect x="361.72" y="595.4" width="67.29" height="7.9" fill="#f5a46a"/>
<rect x="198.7" y="602.7" width="15.42" height="7.9" fill="#5fbbe8"/>
<rect x="213.52" y="602.7" width="8.01" height="7.9" fill="#a2d8f2"/>
<rect x="220.93" y="602.7" width="8.01" height="7.9" fill="#75c5eb"/>
<rect x="228.34" y="602.7" width="8.01" height="7.9" fill="#f18130"/>
<rect x="235.75" y="602.7" width="8.01" height="7.9" fill="#75c5eb"/>
<rect x="243.16" y="602.7" width="8.01" height="7.9" fill="#fce6d6"/>
<rect x="250.57" y="602.7" width="8.01" height="7.9" fill="#f5a46a"/>
<rect x="257.98" y="602.7" width="15.42" height="7.9" fill="#5fbbe8"/>
<rect x="272.8" y="602.7" width="22.83" height="7.9" fill="#cfebf8"/>
<rect x="295.03" y="602.7" width="8.01" height="7.9" fill="#ffffff"/>
<rect x="302.44" y="602.7" width="15.42" height="7.9" fill="#cfebf8"/>
<rect x="317.26" y="602.7" width="8.01" height="7.9" fill="#a2d8f2"/>
<rect x="324.67" y="602.7" width="8.01" height="7.9" fill="#fce6d6"/>
<rect x="332.08" y="602.7" width="15.42" height="7.9" fill="#cfebf8"/>
<rect x="346.9" y="602.7" width="15.42" height="7.9" fill="#f18130"/>
<rect x="361.72" y="602.7" width="15.42" height="7.9" fill="#ffffff"/>
<rect x="376.54" y="602.7" width="8.01" height="7.9" fill="#f18130"/>
<rect x="383.95" y="602.7" width="15.42" height="7.9" fill="#f9caa8"/>
<rect x="398.77" y="602.7" width="8.01" height="7.9" fill="#75c5eb"/>
<rect x="406.18" y="602.7" width="8.01" height="7.9" fill="#ffffff"/>
<rect x="413.59" y="602.7" width="15.42" height="7.9" fill="#f18130"/>
<rect x="198.7" y="610" width="15.42" height="7.9" fill="#5fbbe8"/>
<rect x="213.52" y="610" width="8.01" height="7.9" fill="#a2d8f2"/>
<rect x="220.93" y="610" width="8.01" height="7.9" fill="#75c5eb"/>
<rect x="228.34" y="610" width="8.01" height="7.9" fill="#f18130"/>
<rect x="235.75" y="610" width="8.01" height="7.9" fill="#a2d8f2"/>
<rect x="243.16" y="610" width="8.01" height="7.9" fill="#f9caa8"/>
<rect x="250.57" y="610" width="8.01" height="7.9" fill="#fce6d6"/>
<rect x="257.98" y="610" width="15.42" height="7.9" fill="#5fbbe8"/>
<rect x="272.8" y="610" width="8.01" height="7.9" fill="#f9caa8"/>
<rect x="280.21" y="610" width="15.42" height="7.9" fill="#5fbbe8"/>
<rect x="295.03" y="610" width="8.01" height="7.9" fill="#f18130"/>
<rect x="302.44" y="610" width="15.42" height="7.9" fill="#fce6d6"/>
<rect x="317.26" y="610" width="15.42" height="7.9" fill="#cfebf8"/>
<rect x="332.08" y="610" width="15.42" height="7.9" fill="#f5a46a"/>
<rect x="346.9" y="610" width="8.01" height="7.9" fill="#75c5eb"/>
<rect x="354.31" y="610" width="8.01" height="7.9" fill="#f5a46a"/>
<rect x="361.72" y="610" width="8.01" height="7.9" fill="#75c5eb"/>
<rect x="369.13" y="610" width="8.01" height="7.9" fill="#f5a46a"/>
<rect x="376.54" y="610" width="8.01" height="7.9" fill="#f18130"/>
<rect x="383.95" y="610" width="8.01" height="7.9" fill="#cfebf8"/>
<rect x="391.36" y="610" width="37.65" height="7.9" fill="#f18130"/>
<rect x="198.7" y="617.3" width="15.42" height="7.9" fill="#5fbbe8"/>
<rect x="213.52" y="617.3" width="15.42" height="7.9" fill="#cfebf8"/>
<rect x="228.34" y="617.3" width="8.01" height="7.9" fill="#f9caa8"/>
<rect x="235.75" y="617.3" width="8.01" height="7.9" fill="#cfebf8"/>
<rect x="243.16" y="617.3" width="8.01" height="7.9" fill="#fce6d6"/>
<rect x="250.57" y="617.3" width="8.01" height="7.9" fill="#a2d8f2"/>
<rect x="257.98" y="617.3" width="15.42" height="7.9" fill="#5fbbe8"/>
<rect x="272.8" y="617.3" width="8.01" height="7.9" fill="#f18130"/>
<rect x="280.21" y="617.3" width="8.01" height="7.9" fill="#75c5eb"/>
<rect x="287.62" y="617.3" width="8.01" height="7.9" fill="#5fbbe8"/>
<rect x="295.03" y="617.3" width="8.01" height="7.9" fill="#f18130"/>
<rect x="302.44" y="617.3" width="8.01" height="7.9" fill="#f5a46a"/>
<rect x="309.85" y="617.3" width="8.01" height="7.9" fill="#a2d8f2"/>
<rect x="317.26" y="617.3" width="8.01" height="7.9" fill="#cfebf8"/>
<rect x="324.67" y="617.3" width="8.01" height="7.9" fill="#ffffff"/>
<rect x="332.08" y="617.3" width="8.01" height="7.9" fill="#fce6d6"/>
<rect x="339.49" y="617.3" width="8.01" height="7.9" fill="#cfebf8"/>
<rect x="346.9" y="617.3" width="8.01" height="7.9" fill="#75c5eb"/>
<rect x="354.31" y="617.3" width="8.01" height="7.9" fill="#f18130"/>
<rect x="361.72" y="617.3" width="8.01" height="7.9" fill="#fce6d6"/>
<rect x="369.13" y="617.3" width="8.01" height="7.9" fill="#f9caa8"/>
<rect x="376.54" y="617.3" width="8.01" height="7.9" fill="#f5a46a"/>
<rect x="383.95" y="617.3" width="8.01" height="7.9" fill="#f9caa8"/>
<rect x="391.36" y="617.3" width="30.24" height="7.9" fill="#f18130"/>
<rect x="421" y="617.3" width="8.01" height="7.9" fill="#f5a46a"/>
<rect x="198.7" y="624.6" width="8.01" height="7.9" fill="#5fbbe8"/>
<rect x="206.11" y="624.6" width="8.01" height="7.9" fill="#f5a46a"/>
<rect x="213.52" y="624.6" width="8.01" height="7.9" fill="#75c5eb"/>
<rect x="220.93" y="624.6" width="8.01" height="7.9" fill="#f9caa8"/>
<rect x="228.34" y="624.6" width="8.01" height="7.9" fill="#fce6d6"/>
<rect x="235.75" y="624.6" width="15.42" height="7.9" fill="#f9caa8"/>
<rect x="250.57" y="624.6" width="8.01" height="7.9" fill="#a2d8f2"/>
<rect x="257.98" y="624.6" width="15.42" height="7.9" fill="#5fbbe8"/>
<rect x="272.8" y="624.6" width="8.01" height="7.9" fill="#ffffff"/>
<rect x="280.21" y="624.6" width="15.42" height="7.9" fill="#5fbbe8"/>
<rect x="295.03" y="624.6" width="8.01" height="7.9" fill="#f18130"/>
<rect x="302.44" y="624.6" width="8.01" height="7.9" fill="#f5a46a"/>
<rect x="309.85" y="624.6" width="8.01" height="7.9" fill="#cfebf8"/>
<rect x="317.26" y="624.6" width="8.01" height="7.9" fill="#a2d8f2"/>
<rect x="324.67" y="624.6" width="8.01" height="7.9" fill="#f9caa8"/>
<rect x="332.08" y="624.6" width="8.01" height="7.9" fill="#f5a46a"/>
<rect x="339.49" y="624.6" width="8.01" height="7.9" fill="#cfebf8"/>
<rect x="346.9" y="624.6" width="8.01" height="7.9" fill="#75c5eb"/>
<rect x="354.31" y="624.6" width="8.01" height="7.9" fill="#f18130"/>
<rect x="361.72" y="624.6" width="8.01" height="7.9" fill="#75c5eb"/>
<rect x="369.13" y="624.6" width="30.24" height="7.9" fill="#f18130"/>
<rect x="398.77" y="624.6" width="8.01" height="7.9" fill="#f5a46a"/>
<rect x="406.18" y="624.6" width="15.42" height="7.9" fill="#f18130"/>
<rect x="421" y="624.6" width="8.01" height="7.9" fill="#ffffff"/>
<rect x="198.7" y="631.9" width="15.42" height="7.9" fill="#5fbbe8"/>
<rect x="213.52" y="631.9" width="8.01" height="7.9" fill="#cfebf8"/>
<rect x="220.93" y="631.9" width="8.01" height="7.9" fill="#fce6d6"/>
<rect x="228.34" y="631.9" width="8.01" height="7.9" fill="#ffffff"/>
<rect x="235.75" y="631.9" width="8.01" height="7.9" fill="#f9caa8"/>
<rect x="243.16" y="631.9" width="8.01" height="7.9" fill="#ffffff"/>
<rect x="250.57" y="631.9" width="15.42" height="7.9" fill="#5fbbe8"/>
<rect x="265.39" y="631.9" width="8.01" height="7.9" fill="#75c5eb"/>
<rect x="272.8" y="631.9" width="8.01" height="7.9" fill="#fce6d6"/>
<rect x="280.21" y="631.9" width="15.42" height="7.9" fill="#a2d8f2"/>
<rect x="295.03" y="631.9" width="8.01" height="7.9" fill="#f18130"/>
<rect x="302.44" y="631.9" width="8.01" height="7.9" fill="#ffffff"/>
<rect x="309.85" y="631.9" width="15.42" height="7.9" fill="#75c5eb"/>
<rect x="324.67" y="631.9" width="8.01" height="7.9" fill="#f9caa8"/>
<rect x="332.08" y="631.9" width="15.42" height="7.9" fill="#a2d8f2"/>
<rect x="346.9" y="631.9" width="8.01" height="7.9" fill="#75c5eb"/>
<rect x="354.31" y="631.9" width="8.01" height="7.9" fill="#f18130"/>
<rect x="361.72" y="631.9" width="8.01" height="7.9" fill="#75c5eb"/>
<rect x="369.13" y="631.9" width="30.24" height="7.9" fill="#f18130"/>
<rect x="398.77" y="631.9" width="8.01" height="7.9" fill="#f9caa8"/>
<rect x="406.18" y="631.9" width="15.42" height="7.9" fill="#f18130"/>
<rect x="421" y="631.9" width="8.01" height="7.9" fill="#f9caa8"/>
<rect x="198.7" y="639.2" width="8.01" height="7.9" fill="#5fbbe8"/>
<rect x="206.11" y="639.2" width="8.01" height="7.9" fill="#f9caa8"/>
<rect x="213.52" y="639.2" width="8.01" height="7.9" fill="#75c5eb"/>
<rect x="220.93" y="639.2" width="8.01" height="7.9" fill="#f5a46a"/>
<rect x="228.34" y="639.2" width="8.01" height="7.9" fill="#f18130"/>
<rect x="235.75" y="639.2" width="8.01" height="7.9" fill="#a2d8f2"/>
<rect x="243.16" y="639.2" width="8.01" height="7.9" fill="#fce6d6"/>
<rect x="250.57" y="639.2" width="8.01" height="7.9" fill="#a2d8f2"/>
<rect x="257.98" y="639.2" width="8.01" height="7.9" fill="#5fbbe8"/>
<rect x="265.39" y="639.2" width="8.01" height="7.9" fill="#ffffff"/>
<rect x="272.8" y="639.2" width="15.42" height="7.9" fill="#a2d8f2"/>
<rect x="287.62" y="639.2" width="8.01" height="7.9" fill="#75c5eb"/>
<rect x="295.03" y="639.2" width="8.01" height="7.9" fill="#f18130"/>
<rect x="302.44" y="639.2" width="8.01" height="7.9" fill="#ffffff"/>
<rect x="309.85" y="639.2" width="8.01" height="7.9" fill="#f5a46a"/>
<rect x="317.26" y="639.2" width="8.01" height="7.9" fill="#ffffff"/>
<rect x="324.67" y="639.2" width="8.01" height="7.9" fill="#f5a46a"/>
<rect x="332.08" y="639.2" width="8.01" height="7.9" fill="#fce6d6"/>
<rect x="339.49" y="639.2" width="8.01" height="7.9" fill="#cfebf8"/>
<rect x="346.9" y="639.2" width="8.01" height="7.9" fill="#75c5eb"/>
<rect x="354.31" y="639.2" width="8.01" height="7.9" fill="#f18130"/>
<rect x="361.72" y="639.2" width="8.01" height="7.9" fill="#cfebf8"/>
<rect x="369.13" y="639.2" width="8.01" height="7.9" fill="#f9caa8"/>
<rect x="376.54" y="639.2" width="8.01" height="7.9" fill="#f5a46a"/>
<rect x="383.95" y="639.2" width="8.01" height="7.9" fill="#ffffff"/>
<rect x="391.36" y="639.2" width="15.42" height="7.9" fill="#f18130"/>
<rect x="406.18" y="639.2" width="8.01" height="7.9" fill="#f5a46a"/>
<rect x="413.59" y="639.2" width="8.01" height="7.9" fill="#f18130"/>
<rect x="421" y="639.2" width="8.01" height="7.9" fill="#cfebf8"/>
<rect x="198.7" y="646.5" width="8.01" height="7.9" fill="#5fbbe8"/>
<rect x="206.11" y="646.5" width="8.01" height="7.9" fill="#cfebf8"/>
<rect x="213.52" y="646.5" width="8.01" height="7.9" fill="#a2d8f2"/>
<rect x="220.93" y="646.5" width="8.01" height="7.9" fill="#ffffff"/>
<rect x="228.34" y="646.5" width="8.01" height="7.9" fill="#f18130"/>
<rect x="235.75" y="646.5" width="8.01" height="7.9" fill="#75c5eb"/>
<rect x="243.16" y="646.5" width="8.01" height="7.9" fill="#f18130"/>
<rect x="250.57" y="646.5" width="8.01" height="7.9" fill="#a2d8f2"/>
<rect x="257.98" y="646.5" width="15.42" height="7.9" fill="#5fbbe8"/>
<rect x="272.8" y="646.5" width="15.42" height="7.9" fill="#f9caa8"/>
<rect x="287.62" y="646.5" width="8.01" height="7.9" fill="#cfebf8"/>
<rect x="295.03" y="646.5" width="22.83" height="7.9" fill="#f5a46a"/>
<rect x="317.26" y="646.5" width="8.01" height="7.9" fill="#a2d8f2"/>
<rect x="324.67" y="646.5" width="8.01" height="7.9" fill="#cfebf8"/>
<rect x="332.08" y="646.5" width="8.01" height="7.9" fill="#75c5eb"/>
<rect x="339.49" y="646.5" width="8.01" height="7.9" fill="#fce6d6"/>
<rect x="346.9" y="646.5" width="8.01" height="7.9" fill="#75c5eb"/>
<rect x="354.31" y="646.5" width="8.01" height="7.9" fill="#f5a46a"/>
<rect x="361.72" y="646.5" width="8.01" height="7.9" fill="#ffffff"/>
<rect x="369.13" y="646.5" width="8.01" height="7.9" fill="#f18130"/>
<rect x="376.54" y="646.5" width="8.01" height="7.9" fill="#f5a46a"/>
<rect x="383.95" y="646.5" width="8.01" height="7.9" fill="#cfebf8"/>
<rect x="391.36" y="646.5" width="30.24" height="7.9" fill="#f18130"/>
<rect x="421" y="646.5" width="8.01" height="7.9" fill="#cfebf8"/>
<rect x="198.7" y="653.8" width="15.42" height="7.9" fill="#75c5eb"/>
<rect x="213.52" y="653.8" width="8.01" height="7.9" fill="#a2d8f2"/>
<rect x="220.93" y="653.8" width="8.01" height="7.9" fill="#75c5eb"/>
<rect x="228.34" y="653.8" width="8.01" height="7.9" fill="#f18130"/>
<rect x="235.75" y="653.8" width="8.01" height="7.9" fill="#75c5eb"/>
<rect x="243.16" y="653.8" width="8.01" height="7.9" fill="#f5a46a"/>
<rect x="250.57" y="653.8" width="22.83" height="7.9" fill="#5fbbe8"/>
<rect x="272.8" y="653.8" width="8.01" height="7.9" fill="#a2d8f2"/>
<rect x="280.21" y="653.8" width="15.42" height="7.9" fill="#5fbbe8"/>
<rect x="295.03" y="653.8" width="8.01" height="7.9" fill="#f5a46a"/>
<rect x="302.44" y="653.8" width="8.01" height="7.9" fill="#cfebf8"/>
<rect x="309.85" y="653.8" width="8.01" height="7.9" fill="#f5a46a"/>
<rect x="317.26" y="653.8" width="8.01" height="7.9" fill="#f9caa8"/>
<rect x="324.67" y="653.8" width="15.42" height="7.9" fill="#75c5eb"/>
<rect x="339.49" y="653.8" width="8.01" height="7.9" fill="#fce6d6"/>
<rect x="346.9" y="653.8" width="8.01" height="7.9" fill="#75c5eb"/>
<rect x="354.31" y="653.8" width="8.01" height="7.9" fill="#f18130"/>
<rect x="361.72" y="653.8" width="8.01" height="7.9" fill="#75c5eb"/>
<rect x="369.13" y="653.8" width="8.01" height="7.9" fill="#cfebf8"/>
<rect x="376.54" y="653.8" width="15.42" height="7.9" fill="#f5a46a"/>
<rect x="391.36" y="653.8" width="30.24" height="7.9" fill="#f18130"/>
<rect x="421" y="653.8" width="8.01" height="7.9" fill="#a2d8f2"/>
<rect x="198.7" y="661.1" width="30.24" height="7.9" fill="#5fbbe8"/>
<rect x="228.34" y="661.1" width="8.01" height="7.9" fill="#f5a46a"/>
<rect x="235.75" y="661.1" width="8.01" height="7.9" fill="#75c5eb"/>
<rect x="243.16" y="661.1" width="8.01" height="7.9" fill="#ffffff"/>
<rect x="250.57" y="661.1" width="22.83" height="7.9" fill="#5fbbe8"/>
<rect x="272.8" y="661.1" width="8.01" height="7.9" fill="#cfebf8"/>
<rect x="280.21" y="661.1" width="15.42" height="7.9" fill="#5fbbe8"/>
<rect x="295.03" y="661.1" width="8.01" height="7.9" fill="#f5a46a"/>
<rect x="302.44" y="661.1" width="8.01" height="7.9" fill="#cfebf8"/>
<rect x="309.85" y="661.1" width="8.01" height="7.9" fill="#ffffff"/>
<rect x="317.26" y="661.1" width="8.01" height="7.9" fill="#f9caa8"/>
<rect x="324.67" y="661.1" width="8.01" height="7.9" fill="#f5a46a"/>
<rect x="332.08" y="661.1" width="22.83" height="7.9" fill="#75c5eb"/>
<rect x="354.31" y="661.1" width="8.01" height="7.9" fill="#f18130"/>
<rect x="361.72" y="661.1" width="8.01" height="7.9" fill="#f9caa8"/>
<rect x="369.13" y="661.1" width="8.01" height="7.9" fill="#f18130"/>
<rect x="376.54" y="661.1" width="8.01" height="7.9" fill="#f5a46a"/>
<rect x="383.95" y="661.1" width="37.65" height="7.9" fill="#f18130"/>
<rect x="421" y="661.1" width="8.01" height="7.9" fill="#ffffff"/>
<rect x="198.7" y="668.4" width="30.24" height="7.9" fill="#5fbbe8"/>
<rect x="228.34" y="668.4" width="8.01" height="7.9" fill="#f18130"/>
<rect x="235.75" y="668.4" width="8.01" height="7.9" fill="#75c5eb"/>
<rect x="243.16" y="668.4" width="8.01" height="7.9" fill="#cfebf8"/>
<rect x="250.57" y="668.4" width="8.01" height="7.9" fill="#ffffff"/>
<rect x="257.98" y="668.4" width="15.42" height="7.9" fill="#5fbbe8"/>
<rect x="272.8" y="668.4" width="8.01" height="7.9" fill="#a2d8f2"/>
<rect x="280.21" y="668.4" width="15.42" height="7.9" fill="#5fbbe8"/>
<rect x="295.03" y="668.4" width="8.01" height="7.9" fill="#f5a46a"/>
<rect x="302.44" y="668.4" width="8.01" height="7.9" fill="#fce6d6"/>
<rect x="309.85" y="668.4" width="8.01" height="7.9" fill="#f5a46a"/>
<rect x="317.26" y="668.4" width="8.01" height="7.9" fill="#f9caa8"/>
<rect x="324.67" y="668.4" width="8.01" height="7.9" fill="#f18130"/>
<rect x="332.08" y="668.4" width="8.01" height="7.9" fill="#a2d8f2"/>
<rect x="339.49" y="668.4" width="8.01" height="7.9" fill="#ffffff"/>
<rect x="346.9" y="668.4" width="8.01" height="7.9" fill="#75c5eb"/>
<rect x="354.31" y="668.4" width="8.01" height="7.9" fill="#f18130"/>
<rect x="361.72" y="668.4" width="15.42" height="7.9" fill="#fce6d6"/>
<rect x="376.54" y="668.4" width="8.01" height="7.9" fill="#f9caa8"/>
<rect x="383.95" y="668.4" width="15.42" height="7.9" fill="#f5a46a"/>
<rect x="398.77" y="668.4" width="8.01" height="7.9" fill="#f18130"/>
<rect x="406.18" y="668.4" width="8.01" height="7.9" fill="#75c5eb"/>
<rect x="413.59" y="668.4" width="8.01" height="7.9" fill="#f18130"/>
<rect x="421" y="668.4" width="8.01" height="7.9" fill="#75c5eb"/>
<rect x="198.7" y="675.7" width="8.01" height="7.9" fill="#5fbbe8"/>
<rect x="206.11" y="675.7" width="8.01" height="7.9" fill="#75c5eb"/>
<rect x="213.52" y="675.7" width="8.01" height="7.9" fill="#f9caa8"/>
<rect x="220.93" y="675.7" width="8.01" height="7.9" fill="#cfebf8"/>
<rect x="228.34" y="675.7" width="8.01" height="7.9" fill="#f18130"/>
<rect x="235.75" y="675.7" width="8.01" height="7.9" fill="#75c5eb"/>
<rect x="243.16" y="675.7" width="22.83" height="7.9" fill="#ffffff"/>
<rect x="265.39" y="675.7" width="8.01" height="7.9" fill="#75c5eb"/>
<rect x="272.8" y="675.7" width="8.01" height="7.9" fill="#f9caa8"/>
<rect x="280.21" y="675.7" width="15.42" height="7.9" fill="#5fbbe8"/>
<rect x="295.03" y="675.7" width="8.01" height="7.9" fill="#f5a46a"/>
<rect x="302.44" y="675.7" width="8.01" height="7.9" fill="#a2d8f2"/>
<rect x="309.85" y="675.7" width="8.01" height="7.9" fill="#cfebf8"/>
<rect x="317.26" y="675.7" width="8.01" height="7.9" fill="#f9caa8"/>
<rect x="324.67" y="675.7" width="8.01" height="7.9" fill="#f18130"/>
<rect x="332.08" y="675.7" width="8.01" height="7.9" fill="#ffffff"/>
<rect x="339.49" y="675.7" width="8.01" height="7.9" fill="#f9caa8"/>
<rect x="346.9" y="675.7" width="8.01" height="7.9" fill="#f5a46a"/>
<rect x="354.31" y="675.7" width="8.01" height="7.9" fill="#f18130"/>
<rect x="361.72" y="675.7" width="8.01" height="7.9" fill="#f9caa8"/>
<rect x="369.13" y="675.7" width="8.01" height="7.9" fill="#fce6d6"/>
<rect x="376.54" y="675.7" width="8.01" height="7.9" fill="#f9caa8"/>
<rect x="383.95" y="675.7" width="8.01" height="7.9" fill="#f18130"/>
<rect x="391.36" y="675.7" width="8.01" height="7.9" fill="#ffffff"/>
<rect x="398.77" y="675.7" width="8.01" height="7.9" fill="#f18130"/>
<rect x="406.18" y="675.7" width="8.01" height="7.9" fill="#ffffff"/>
<rect x="413.59" y="675.7" width="8.01" height="7.9" fill="#f5a46a"/>
<rect x="421" y="675.7" width="8.01" height="7.9" fill="#75c5eb"/>
<rect x="198.7" y="683" width="8.01" height="7.9" fill="#5fbbe8"/>
<rect x="206.11" y="683" width="8.01" height="7.9" fill="#a2d8f2"/>
<rect x="213.52" y="683" width="8.01" height="7.9" fill="#cfebf8"/>
<rect x="220.93" y="683" width="8.01" height="7.9" fill="#a2d8f2"/>
<rect x="228.34" y="683" width="8.01" height="7.9" fill="#f18130"/>
<rect x="235.75" y="683" width="8.01" height="7.9" fill="#5fbbe8"/>
<rect x="243.16" y="683" width="8.01" height="7.9" fill="#a2d8f2"/>
<rect x="250.57" y="683" width="8.01" height="7.9" fill="#cfebf8"/>
<rect x="257.98" y="683" width="8.01" height="7.9" fill="#a2d8f2"/>
<rect x="265.39" y="683" width="8.01" height="7.9" fill="#5fbbe8"/>
<rect x="272.8" y="683" width="8.01" height="7.9" fill="#f18130"/>
<rect x="280.21" y="683" width="15.42" height="7.9" fill="#5fbbe8"/>
<rect x="295.03" y="683" width="8.01" height="7.9" fill="#f18130"/>
<rect x="302.44" y="683" width="8.01" height="7.9" fill="#fce6d6"/>
<rect x="309.85" y="683" width="8.01" height="7.9" fill="#cfebf8"/>
<rect x="317.26" y="683" width="8.01" height="7.9" fill="#ffffff"/>
<rect x="324.67" y="683" width="8.01" height="7.9" fill="#f18130"/>
<rect x="332.08" y="683" width="8.01" height="7.9" fill="#a2d8f2"/>
<rect x="339.49" y="683" width="8.01" height="7.9" fill="#cfebf8"/>
<rect x="346.9" y="683" width="8.01" height="7.9" fill="#75c5eb"/>
<rect x="354.31" y="683" width="8.01" height="7.9" fill="#f5a46a"/>
<rect x="361.72" y="683" width="8.01" height="7.9" fill="#a2d8f2"/>
<rect x="369.13" y="683" width="8.01" height="7.9" fill="#cfebf8"/>
<rect x="376.54" y="683" width="8.01" height="7.9" fill="#a2d8f2"/>
<rect x="383.95" y="683" width="8.01" height="7.9" fill="#fce6d6"/>
<rect x="391.36" y="683" width="8.01" height="7.9" fill="#f9caa8"/>
<rect x="398.77" y="683" width="15.42" height="7.9" fill="#f18130"/>
<rect x="413.59" y="683" width="8.01" height="7.9" fill="#f9caa8"/>
<rect x="421" y="683" width="8.01" height="7.9" fill="#f18130"/>
<rect x="198.7" y="690.3" width="8.01" height="7.9" fill="#5fbbe8"/>
<rect x="206.11" y="690.3" width="8.01" height="7.9" fill="#a2d8f2"/>
<rect x="213.52" y="690.3" width="8.01" height="7.9" fill="#fce6d6"/>
<rect x="220.93" y="690.3" width="8.01" height="7.9" fill="#a2d8f2"/>
<rect x="228.34" y="690.3" width="8.01" height="7.9" fill="#f5a46a"/>
<rect x="235.75" y="690.3" width="8.01" height="7.9" fill="#5fbbe8"/>
<rect x="243.16" y="690.3" width="15.42" height="7.9" fill="#f5a46a"/>
<rect x="257.98" y="690.3" width="8.01" height="7.9" fill="#5fbbe8"/>
<rect x="265.39" y="690.3" width="15.42" height="7.9" fill="#fce6d6"/>
<rect x="280.21" y="690.3" width="8.01" height="7.9" fill="#cfebf8"/>
<rect x="287.62" y="690.3" width="8.01" height="7.9" fill="#5fbbe8"/>
<rect x="295.03" y="690.3" width="52.47" height="7.9" fill="#f5a46a"/>
<rect x="346.9" y="690.3" width="8.01" height="7.9" fill="#75c5eb"/>
<rect x="354.31" y="690.3" width="74.7" height="7.9" fill="#f5a46a"/>
<rect x="198.7" y="697.6" width="74.7" height="7.9" fill="#a2d8f2"/>
<rect x="272.8" y="697.6" width="8.01" height="7.9" fill="#cfebf8"/>
<rect x="280.21" y="697.6" width="15.42" height="7.9" fill="#a2d8f2"/>
<rect x="295.03" y="697.6" width="8.01" height="7.9" fill="#f18130"/>
<rect x="302.44" y="697.6" width="8.01" height="7.9" fill="#f5a46a"/>
<rect x="309.85" y="697.6" width="22.83" height="7.9" fill="#a2d8f2"/>
<rect x="332.08" y="697.6" width="8.01" height="7.9" fill="#f9caa8"/>
<rect x="339.49" y="697.6" width="30.24" height="7.9" fill="#a2d8f2"/>
<rect x="369.13" y="697.6" width="8.01" height="7.9" fill="#f5a46a"/>
<rect x="376.54" y="697.6" width="8.01" height="7.9" fill="#f18130"/>
<rect x="383.95" y="697.6" width="8.01" height="7.9" fill="#a2d8f2"/>
<rect x="391.36" y="697.6" width="8.01" height="7.9" fill="#f18130"/>
<rect x="398.77" y="697.6" width="8.01" height="7.9" fill="#a2d8f2"/>
<rect x="406.18" y="697.6" width="22.83" height="7.9" fill="#f18130"/>
</g>
<text x="431.7" y="586.75" font-size="6.6" text-anchor="start" fill="#231F20">IL-15</text>
<text x="431.7" y="594.05" font-size="6.6" text-anchor="start" fill="#231F20">IgG.binding.spike</text>
<text x="431.7" y="601.35" font-size="6.6" text-anchor="start" fill="#231F20">IgA.binding.spike</text>
<text x="431.7" y="608.65" font-size="6.6" text-anchor="start" fill="#231F20">Total IgA</text>
<text x="431.7" y="615.95" font-size="6.6" text-anchor="start" fill="#231F20">VEGF</text>
<text x="431.7" y="623.25" font-size="6.6" text-anchor="start" fill="#231F20">PDGF-AA</text>
<text x="431.7" y="630.55" font-size="6.6" text-anchor="start" fill="#231F20">TRAIL</text>
<text x="431.7" y="637.85" font-size="6.6" text-anchor="start" fill="#231F20">EGF</text>
<text x="431.7" y="645.15" font-size="6.6" text-anchor="start" fill="#231F20">CXCL10</text>
<text x="431.7" y="652.45" font-size="6.6" text-anchor="start" fill="#231F20">TGF-α</text>
<text x="431.7" y="659.75" font-size="6.6" text-anchor="start" fill="#231F20">FLT3L</text>
<text x="431.7" y="667.05" font-size="6.6" text-anchor="start" fill="#231F20">CCL2</text>
<text x="431.7" y="674.35" font-size="6.6" text-anchor="start" fill="#231F20">CCL3</text>
<text x="431.7" y="681.65" font-size="6.6" text-anchor="start" fill="#231F20">IL-6</text>
<text x="431.7" y="688.95" font-size="6.6" text-anchor="start" fill="#231F20">CSF3</text>
<text x="431.7" y="696.25" font-size="6.6" text-anchor="start" fill="#231F20">IL-1ra</text>
<text x="431.7" y="703.55" font-size="6.6" text-anchor="start" fill="#231F20">IL-7</text>
<text x="202.41" y="711.2" font-size="6.2" text-anchor="middle" fill="#444">D</text>
<text x="209.81" y="711.2" font-size="6.2" text-anchor="middle" fill="#444">D</text>
<text x="217.22" y="711.2" font-size="6.2" text-anchor="middle" fill="#444">B</text>
<text x="224.63" y="711.2" font-size="6.2" text-anchor="middle" fill="#444">B</text>
<text x="232.04" y="711.2" font-size="6.2" text-anchor="middle" fill="#444">B</text>
<text x="239.45" y="711.2" font-size="6.2" text-anchor="middle" fill="#444">B</text>
<text x="246.86" y="711.2" font-size="6.2" text-anchor="middle" fill="#444">B</text>
<text x="254.27" y="711.2" font-size="6.2" text-anchor="middle" fill="#444">B</text>
<text x="261.69" y="711.2" font-size="6.2" text-anchor="middle" fill="#444">B</text>
<text x="269.09" y="711.2" font-size="6.2" text-anchor="middle" fill="#444">B</text>
<text x="276.5" y="711.2" font-size="6.2" text-anchor="middle" fill="#444">B</text>
<text x="283.91" y="711.2" font-size="6.2" text-anchor="middle" fill="#444">B</text>
<text x="291.32" y="711.2" font-size="6.2" text-anchor="middle" fill="#444">B</text>
<text x="298.74" y="711.2" font-size="6.2" text-anchor="middle" fill="#444">B</text>
<text x="306.14" y="711.2" font-size="6.2" text-anchor="middle" fill="#444">A</text>
<text x="313.56" y="711.2" font-size="6.2" text-anchor="middle" fill="#444">A</text>
<text x="320.96" y="711.2" font-size="6.2" text-anchor="middle" fill="#444">A</text>
<text x="328.38" y="711.2" font-size="6.2" text-anchor="middle" fill="#444">A</text>
<text x="335.78" y="711.2" font-size="6.2" text-anchor="middle" fill="#444">A</text>
<text x="343.19" y="711.2" font-size="6.2" text-anchor="middle" fill="#444">A</text>
<text x="350.61" y="711.2" font-size="6.2" text-anchor="middle" fill="#444">A</text>
<text x="358.01" y="711.2" font-size="6.2" text-anchor="middle" fill="#444">A</text>
<text x="365.42" y="711.2" font-size="6.2" text-anchor="middle" fill="#444">A</text>
<text x="372.83" y="711.2" font-size="6.2" text-anchor="middle" fill="#444">A</text>
<text x="380.25" y="711.2" font-size="6.2" text-anchor="middle" fill="#444">A</text>
<text x="387.65" y="711.2" font-size="6.2" text-anchor="middle" fill="#444">A</text>
<text x="395.06" y="711.2" font-size="6.2" text-anchor="middle" fill="#444">A</text>
<text x="402.48" y="711.2" font-size="6.2" text-anchor="middle" fill="#444">A</text>
<text x="409.88" y="711.2" font-size="6.2" text-anchor="middle" fill="#444">A</text>
<text x="417.29" y="711.2" font-size="6.2" text-anchor="middle" fill="#444">C</text>
<text x="424.7" y="711.2" font-size="6.2" text-anchor="middle" fill="#444">C</text>
<text x="430.1" y="711.2" font-size="6.7" text-anchor="start" fill="#231F20">Spike-specific IgGs</text>
<text x="189.8" y="576.2" font-size="10.4" text-anchor="start" font-weight="bold" fill="#111">f</text>
</svg>
</body></html>
